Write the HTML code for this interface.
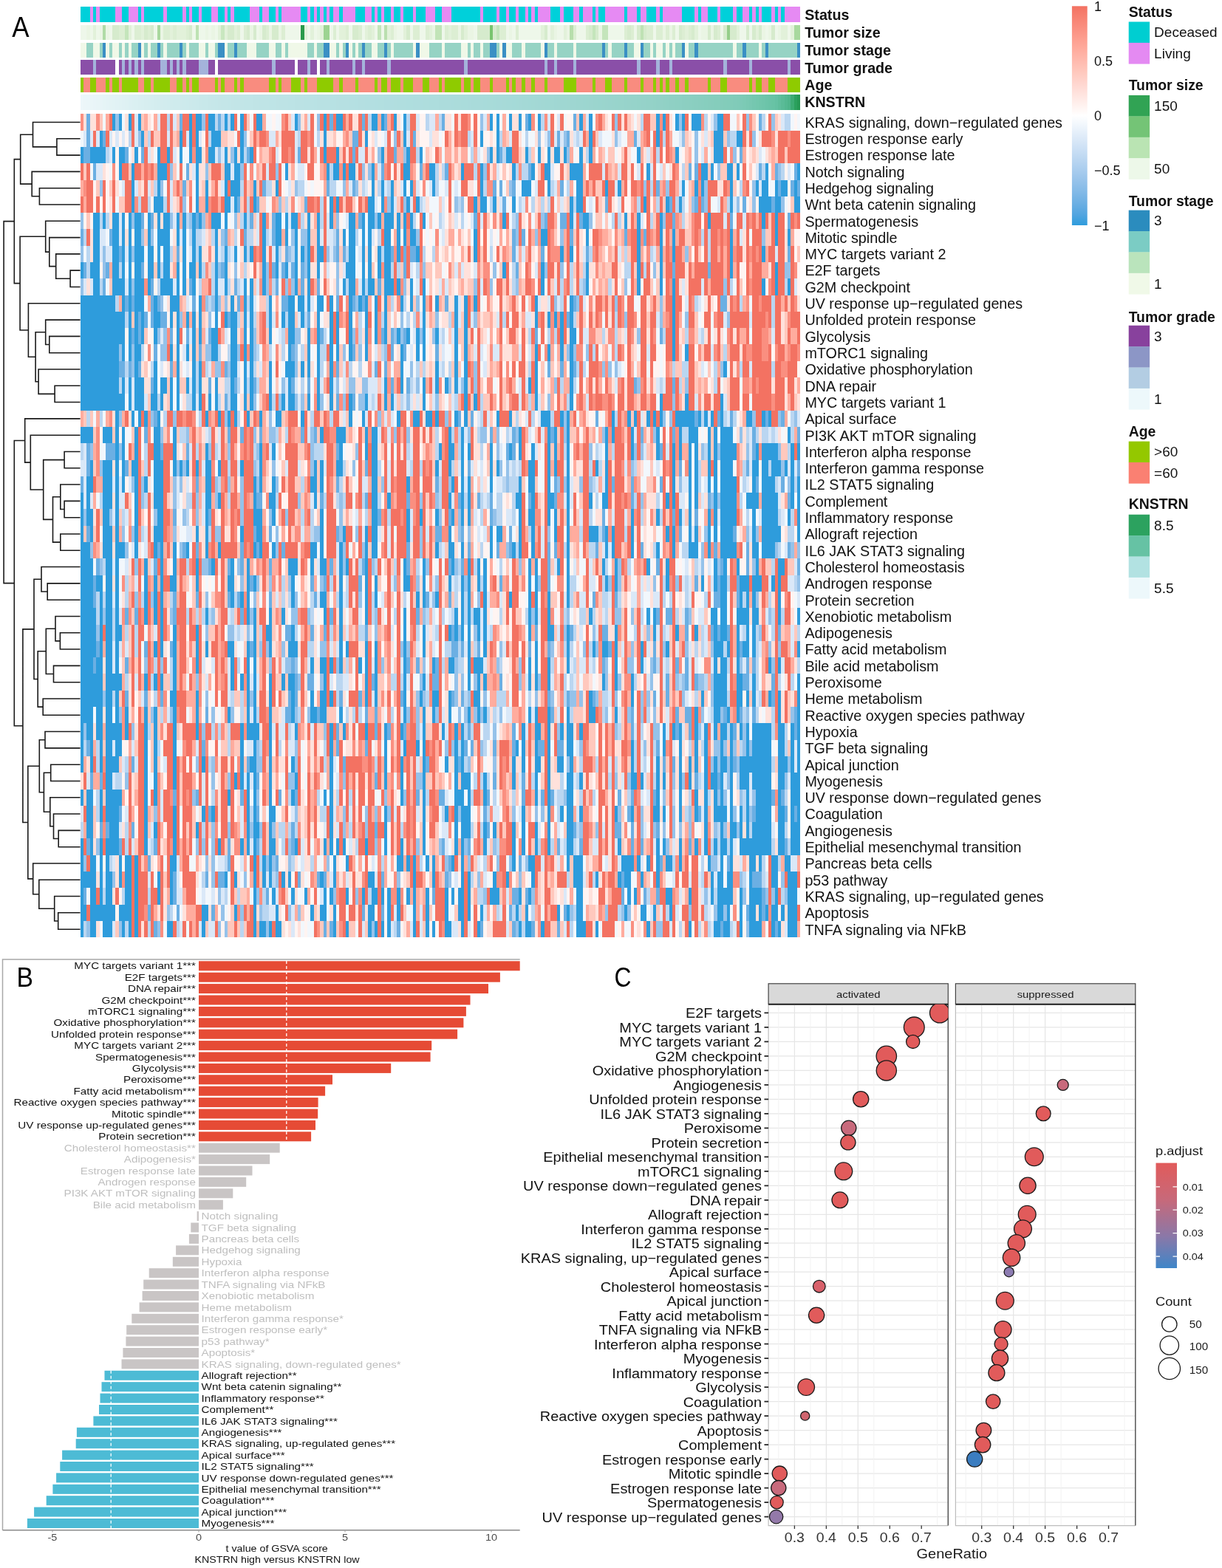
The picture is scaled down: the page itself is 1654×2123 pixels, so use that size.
<!DOCTYPE html><html><head><meta charset="utf-8"><style>html,body{margin:0;padding:0;background:#fff;width:1654px;height:2123px;overflow:hidden}</style></head><body><svg xmlns="http://www.w3.org/2000/svg" width="1654" height="2123" viewBox="0 0 1654 2123" style="display:block;font-family:'Liberation Sans', Arial, sans-serif">
<rect width="1654" height="2123" fill="#fff"/>
<g transform="translate(108.6,154.3) scale(4.33156,22.30000)" shape-rendering="crispEdges">
<path fill="#2E9CDC" d="M10 0h1v1h-1zM12 0h1v1h-1zM15 0h1v1h-1zM18 0h1v1h-1zM34 0h1v1h-1zM36 0h2v1h-2zM40 0h2v1h-2zM45 0h1v1h-1zM47 0h1v1h-1zM50 0h1v1h-1zM55 0h2v1h-2zM67 0h1v1h-1zM76 0h1v1h-1zM80 0h2v1h-2zM91 0h2v1h-2zM94 0h1v1h-1zM98 0h1v1h-1zM101 0h1v1h-1zM128 0h1v1h-1zM130 0h1v1h-1zM134 0h1v1h-1zM137 0h1v1h-1zM140 0h1v1h-1zM143 0h1v1h-1zM156 0h1v1h-1zM159 0h1v1h-1zM180 0h1v1h-1zM182 0h1v1h-1zM186 0h1v1h-1zM188 0h1v1h-1zM191 0h3v1h-3zM199 0h2v1h-2zM6 1h1v1h-1zM19 1h1v1h-1zM31 1h1v1h-1zM34 1h1v1h-1zM36 1h1v1h-1zM41 1h3v1h-3zM50 1h1v1h-1zM76 1h1v1h-1zM89 1h1v1h-1zM101 1h1v1h-1zM125 1h1v1h-1zM130 1h1v1h-1zM159 1h1v1h-1zM180 1h1v1h-1zM198 1h3v1h-3zM205 1h2v1h-2zM0 2h1v1h-1zM3 2h5v1h-5zM10 2h1v1h-1zM12 2h2v1h-2zM17 2h1v1h-1zM24 2h1v1h-1zM27 2h1v1h-1zM31 2h1v1h-1zM34 2h1v1h-1zM36 2h2v1h-2zM40 2h2v1h-2zM45 2h1v1h-1zM48 2h1v1h-1zM50 2h1v1h-1zM53 2h1v1h-1zM76 2h1v1h-1zM80 2h1v1h-1zM94 2h1v1h-1zM102 2h1v1h-1zM106 2h1v1h-1zM128 2h1v1h-1zM130 2h1v1h-1zM133 2h2v1h-2zM139 2h1v1h-1zM143 2h1v1h-1zM146 2h1v1h-1zM148 2h2v1h-2zM151 2h1v1h-1zM156 2h1v1h-1zM159 2h1v1h-1zM174 2h1v1h-1zM186 2h1v1h-1zM198 2h3v1h-3zM12 3h1v1h-1zM16 3h1v1h-1zM24 3h3v1h-3zM36 3h1v1h-1zM45 3h2v1h-2zM48 3h2v1h-2zM64 3h1v1h-1zM77 3h1v1h-1zM79 3h2v1h-2zM82 3h1v1h-1zM84 3h2v1h-2zM91 3h1v1h-1zM101 3h2v1h-2zM109 3h2v1h-2zM119 3h1v1h-1zM125 3h1v1h-1zM135 3h1v1h-1zM141 3h1v1h-1zM145 3h2v1h-2zM153 3h4v1h-4zM177 3h1v1h-1zM194 3h2v1h-2zM197 3h1v1h-1zM202 3h2v1h-2zM205 3h1v1h-1zM214 3h1v1h-1zM224 3h1v1h-1zM16 4h1v1h-1zM24 4h1v1h-1zM36 4h1v1h-1zM39 4h1v1h-1zM45 4h1v1h-1zM47 4h3v1h-3zM54 4h1v1h-1zM61 4h1v1h-1zM91 4h1v1h-1zM94 4h1v1h-1zM97 4h1v1h-1zM101 4h1v1h-1zM103 4h1v1h-1zM110 4h1v1h-1zM125 4h1v1h-1zM138 4h3v1h-3zM146 4h1v1h-1zM155 4h2v1h-2zM164 4h1v1h-1zM168 4h1v1h-1zM188 4h1v1h-1zM192 4h1v1h-1zM194 4h1v1h-1zM203 4h1v1h-1zM211 4h1v1h-1zM213 4h2v1h-2zM217 4h1v1h-1zM219 4h2v1h-2zM223 4h1v1h-1zM16 5h1v1h-1zM23 5h3v1h-3zM36 5h1v1h-1zM39 5h1v1h-1zM45 5h2v1h-2zM48 5h1v1h-1zM54 5h1v1h-1zM78 5h1v1h-1zM80 5h1v1h-1zM90 5h2v1h-2zM94 5h1v1h-1zM97 5h1v1h-1zM102 5h1v1h-1zM105 5h1v1h-1zM123 5h1v1h-1zM125 5h2v1h-2zM129 5h1v1h-1zM135 5h1v1h-1zM153 5h1v1h-1zM155 5h2v1h-2zM176 5h1v1h-1zM183 5h1v1h-1zM187 5h1v1h-1zM203 5h1v1h-1zM212 5h4v1h-4zM217 5h2v1h-2zM223 5h2v1h-2zM4 6h2v1h-2zM7 6h1v1h-1zM10 6h2v1h-2zM13 6h1v1h-1zM15 6h1v1h-1zM17 6h2v1h-2zM21 6h1v1h-1zM24 6h1v1h-1zM26 6h2v1h-2zM30 6h1v1h-1zM32 6h1v1h-1zM35 6h1v1h-1zM37 6h1v1h-1zM41 6h3v1h-3zM45 6h1v1h-1zM51 6h1v1h-1zM57 6h1v1h-1zM61 6h2v1h-2zM64 6h1v1h-1zM66 6h2v1h-2zM71 6h1v1h-1zM74 6h1v1h-1zM78 6h1v1h-1zM84 6h2v1h-2zM88 6h1v1h-1zM90 6h2v1h-2zM93 6h1v1h-1zM95 6h3v1h-3zM99 6h1v1h-1zM101 6h1v1h-1zM103 6h1v1h-1zM107 6h1v1h-1zM132 6h1v1h-1zM153 6h1v1h-1zM157 6h2v1h-2zM170 6h1v1h-1zM174 6h1v1h-1zM181 6h1v1h-1zM196 6h1v1h-1zM213 6h1v1h-1zM217 6h1v1h-1zM4 7h2v1h-2zM10 7h2v1h-2zM13 7h1v1h-1zM15 7h1v1h-1zM17 7h2v1h-2zM21 7h1v1h-1zM24 7h4v1h-4zM30 7h1v1h-1zM32 7h1v1h-1zM35 7h1v1h-1zM42 7h1v1h-1zM57 7h1v1h-1zM61 7h2v1h-2zM64 7h1v1h-1zM67 7h1v1h-1zM71 7h1v1h-1zM74 7h1v1h-1zM82 7h1v1h-1zM84 7h2v1h-2zM88 7h1v1h-1zM90 7h1v1h-1zM95 7h2v1h-2zM99 7h1v1h-1zM101 7h1v1h-1zM103 7h2v1h-2zM123 7h1v1h-1zM144 7h2v1h-2zM158 7h1v1h-1zM174 7h1v1h-1zM181 7h1v1h-1zM185 7h1v1h-1zM203 7h1v1h-1zM217 7h1v1h-1zM221 7h1v1h-1zM4 8h2v1h-2zM10 8h2v1h-2zM13 8h1v1h-1zM15 8h1v1h-1zM17 8h3v1h-3zM21 8h2v1h-2zM24 8h1v1h-1zM26 8h2v1h-2zM32 8h1v1h-1zM35 8h1v1h-1zM37 8h1v1h-1zM42 8h1v1h-1zM45 8h1v1h-1zM48 8h1v1h-1zM51 8h1v1h-1zM53 8h1v1h-1zM57 8h1v1h-1zM61 8h1v1h-1zM67 8h1v1h-1zM69 8h1v1h-1zM71 8h1v1h-1zM74 8h2v1h-2zM84 8h2v1h-2zM88 8h1v1h-1zM90 8h1v1h-1zM93 8h1v1h-1zM95 8h2v1h-2zM99 8h1v1h-1zM105 8h1v1h-1zM123 8h1v1h-1zM150 8h1v1h-1zM153 8h1v1h-1zM174 8h1v1h-1zM181 8h1v1h-1zM185 8h1v1h-1zM203 8h1v1h-1zM213 8h1v1h-1zM0 9h1v1h-1zM3 9h3v1h-3zM10 9h2v1h-2zM13 9h1v1h-1zM15 9h1v1h-1zM17 9h2v1h-2zM21 9h2v1h-2zM24 9h1v1h-1zM26 9h2v1h-2zM30 9h1v1h-1zM32 9h1v1h-1zM34 9h2v1h-2zM37 9h1v1h-1zM42 9h1v1h-1zM45 9h1v1h-1zM57 9h1v1h-1zM61 9h1v1h-1zM64 9h1v1h-1zM67 9h1v1h-1zM71 9h1v1h-1zM74 9h1v1h-1zM83 9h3v1h-3zM88 9h1v1h-1zM90 9h1v1h-1zM93 9h1v1h-1zM95 9h2v1h-2zM132 9h1v1h-1zM144 9h1v1h-1zM158 9h1v1h-1zM174 9h1v1h-1zM181 9h1v1h-1zM203 9h1v1h-1zM217 9h1v1h-1zM4 10h2v1h-2zM10 10h4v1h-4zM15 10h1v1h-1zM17 10h3v1h-3zM21 10h1v1h-1zM25 10h4v1h-4zM30 10h1v1h-1zM32 10h1v1h-1zM35 10h1v1h-1zM42 10h1v1h-1zM45 10h1v1h-1zM51 10h1v1h-1zM53 10h1v1h-1zM57 10h1v1h-1zM67 10h1v1h-1zM71 10h1v1h-1zM82 10h1v1h-1zM84 10h2v1h-2zM88 10h1v1h-1zM90 10h2v1h-2zM95 10h3v1h-3zM99 10h1v1h-1zM103 10h1v1h-1zM107 10h1v1h-1zM144 10h1v1h-1zM158 10h1v1h-1zM174 10h1v1h-1zM181 10h1v1h-1zM185 10h1v1h-1zM213 10h1v1h-1zM217 10h1v1h-1zM221 10h1v1h-1zM0 11h11v1h-11zM13 11h1v1h-1zM15 11h1v1h-1zM17 11h3v1h-3zM23 11h1v1h-1zM28 11h3v1h-3zM37 11h1v1h-1zM42 11h1v1h-1zM47 11h1v1h-1zM51 11h1v1h-1zM53 11h1v1h-1zM59 11h1v1h-1zM65 11h2v1h-2zM68 11h2v1h-2zM71 11h1v1h-1zM74 11h2v1h-2zM78 11h1v1h-1zM84 11h1v1h-1zM87 11h1v1h-1zM89 11h1v1h-1zM92 11h1v1h-1zM95 11h1v1h-1zM100 11h1v1h-1zM103 11h1v1h-1zM107 11h1v1h-1zM111 11h1v1h-1zM117 11h1v1h-1zM120 11h1v1h-1zM123 11h1v1h-1zM142 11h1v1h-1zM153 11h1v1h-1zM185 11h1v1h-1zM0 12h14v1h-14zM15 12h1v1h-1zM17 12h1v1h-1zM19 12h1v1h-1zM23 12h2v1h-2zM28 12h1v1h-1zM30 12h1v1h-1zM33 12h1v1h-1zM35 12h1v1h-1zM37 12h1v1h-1zM42 12h1v1h-1zM45 12h1v1h-1zM47 12h2v1h-2zM51 12h1v1h-1zM53 12h1v1h-1zM59 12h1v1h-1zM63 12h1v1h-1zM65 12h2v1h-2zM69 12h1v1h-1zM74 12h1v1h-1zM78 12h1v1h-1zM80 12h1v1h-1zM84 12h1v1h-1zM89 12h1v1h-1zM92 12h1v1h-1zM95 12h1v1h-1zM107 12h1v1h-1zM117 12h1v1h-1zM120 12h1v1h-1zM142 12h1v1h-1zM146 12h1v1h-1zM148 12h1v1h-1zM150 12h1v1h-1zM153 12h1v1h-1zM185 12h1v1h-1zM0 13h14v1h-14zM15 13h1v1h-1zM17 13h1v1h-1zM19 13h1v1h-1zM23 13h1v1h-1zM30 13h1v1h-1zM35 13h1v1h-1zM37 13h1v1h-1zM41 13h2v1h-2zM47 13h2v1h-2zM51 13h1v1h-1zM53 13h1v1h-1zM59 13h1v1h-1zM65 13h2v1h-2zM71 13h1v1h-1zM74 13h1v1h-1zM78 13h1v1h-1zM80 13h1v1h-1zM84 13h1v1h-1zM89 13h1v1h-1zM92 13h1v1h-1zM95 13h1v1h-1zM99 13h1v1h-1zM102 13h1v1h-1zM105 13h1v1h-1zM107 13h1v1h-1zM111 13h1v1h-1zM117 13h1v1h-1zM120 13h1v1h-1zM150 13h1v1h-1zM153 13h2v1h-2zM185 13h1v1h-1zM0 14h12v1h-12zM13 14h1v1h-1zM15 14h1v1h-1zM17 14h2v1h-2zM28 14h1v1h-1zM30 14h1v1h-1zM33 14h1v1h-1zM35 14h1v1h-1zM41 14h2v1h-2zM47 14h2v1h-2zM51 14h1v1h-1zM53 14h1v1h-1zM65 14h1v1h-1zM71 14h1v1h-1zM74 14h1v1h-1zM78 14h1v1h-1zM80 14h1v1h-1zM84 14h1v1h-1zM89 14h1v1h-1zM100 14h1v1h-1zM105 14h1v1h-1zM107 14h1v1h-1zM117 14h1v1h-1zM120 14h1v1h-1zM142 14h1v1h-1zM146 14h1v1h-1zM150 14h1v1h-1zM153 14h1v1h-1zM185 14h1v1h-1zM189 14h1v1h-1zM0 15h12v1h-12zM17 15h1v1h-1zM23 15h1v1h-1zM30 15h1v1h-1zM35 15h1v1h-1zM37 15h1v1h-1zM47 15h2v1h-2zM51 15h1v1h-1zM53 15h1v1h-1zM59 15h1v1h-1zM64 15h3v1h-3zM69 15h1v1h-1zM71 15h1v1h-1zM74 15h1v1h-1zM78 15h1v1h-1zM100 15h1v1h-1zM111 15h1v1h-1zM117 15h1v1h-1zM120 15h1v1h-1zM142 15h1v1h-1zM153 15h1v1h-1zM201 15h1v1h-1zM0 16h12v1h-12zM13 16h1v1h-1zM15 16h1v1h-1zM17 16h3v1h-3zM23 16h1v1h-1zM25 16h2v1h-2zM28 16h1v1h-1zM30 16h1v1h-1zM33 16h1v1h-1zM35 16h1v1h-1zM37 16h1v1h-1zM42 16h1v1h-1zM47 16h1v1h-1zM51 16h1v1h-1zM53 16h1v1h-1zM59 16h1v1h-1zM65 16h1v1h-1zM74 16h1v1h-1zM78 16h1v1h-1zM95 16h1v1h-1zM100 16h1v1h-1zM107 16h1v1h-1zM111 16h1v1h-1zM114 16h1v1h-1zM117 16h1v1h-1zM120 16h1v1h-1zM140 16h1v1h-1zM142 16h1v1h-1zM153 16h1v1h-1zM0 17h14v1h-14zM15 17h1v1h-1zM17 17h3v1h-3zM22 17h2v1h-2zM25 17h1v1h-1zM28 17h1v1h-1zM30 17h1v1h-1zM35 17h1v1h-1zM37 17h1v1h-1zM40 17h1v1h-1zM42 17h1v1h-1zM47 17h2v1h-2zM51 17h1v1h-1zM53 17h1v1h-1zM59 17h1v1h-1zM63 17h1v1h-1zM65 17h2v1h-2zM71 17h1v1h-1zM74 17h1v1h-1zM78 17h1v1h-1zM84 17h1v1h-1zM89 17h1v1h-1zM95 17h1v1h-1zM97 17h1v1h-1zM107 17h1v1h-1zM120 17h1v1h-1zM123 17h1v1h-1zM142 17h1v1h-1zM153 17h1v1h-1zM181 17h1v1h-1zM189 17h1v1h-1zM200 17h1v1h-1zM11 18h1v1h-1zM16 18h1v1h-1zM18 18h1v1h-1zM20 18h1v1h-1zM24 18h1v1h-1zM39 18h1v1h-1zM43 18h1v1h-1zM46 18h1v1h-1zM48 18h1v1h-1zM52 18h1v1h-1zM56 18h1v1h-1zM61 18h2v1h-2zM69 18h1v1h-1zM84 18h1v1h-1zM88 18h1v1h-1zM99 18h1v1h-1zM104 18h2v1h-2zM108 18h2v1h-2zM111 18h1v1h-1zM117 18h1v1h-1zM120 18h1v1h-1zM130 18h1v1h-1zM134 18h1v1h-1zM144 18h3v1h-3zM150 18h1v1h-1zM152 18h1v1h-1zM166 18h1v1h-1zM171 18h1v1h-1zM173 18h1v1h-1zM177 18h1v1h-1zM179 18h1v1h-1zM181 18h1v1h-1zM186 18h6v1h-6zM193 18h1v1h-1zM195 18h1v1h-1zM197 18h1v1h-1zM200 18h1v1h-1zM208 18h2v1h-2zM213 18h1v1h-1zM215 18h1v1h-1zM0 19h4v1h-4zM7 19h3v1h-3zM11 19h1v1h-1zM13 19h1v1h-1zM17 19h1v1h-1zM23 19h2v1h-2zM29 19h1v1h-1zM75 19h1v1h-1zM80 19h3v1h-3zM89 19h1v1h-1zM91 19h2v1h-2zM115 19h1v1h-1zM119 19h1v1h-1zM137 19h1v1h-1zM146 19h1v1h-1zM148 19h1v1h-1zM152 19h1v1h-1zM164 19h1v1h-1zM166 19h1v1h-1zM172 19h1v1h-1zM180 19h1v1h-1zM187 19h1v1h-1zM190 19h3v1h-3zM196 19h1v1h-1zM198 19h1v1h-1zM200 19h4v1h-4zM221 19h1v1h-1zM11 20h1v1h-1zM13 20h1v1h-1zM17 20h1v1h-1zM23 20h2v1h-2zM29 20h1v1h-1zM39 20h1v1h-1zM56 20h1v1h-1zM60 20h1v1h-1zM81 20h1v1h-1zM89 20h1v1h-1zM91 20h2v1h-2zM112 20h1v1h-1zM115 20h2v1h-2zM119 20h1v1h-1zM121 20h1v1h-1zM128 20h1v1h-1zM134 20h1v1h-1zM137 20h1v1h-1zM141 20h1v1h-1zM146 20h1v1h-1zM148 20h1v1h-1zM152 20h1v1h-1zM164 20h1v1h-1zM172 20h1v1h-1zM180 20h1v1h-1zM185 20h1v1h-1zM187 20h1v1h-1zM190 20h1v1h-1zM192 20h1v1h-1zM196 20h1v1h-1zM198 20h1v1h-1zM200 20h5v1h-5zM211 20h1v1h-1zM213 20h5v1h-5zM222 20h1v1h-1zM224 20h1v1h-1zM3 21h1v1h-1zM7 21h3v1h-3zM11 21h1v1h-1zM13 21h1v1h-1zM16 21h2v1h-2zM23 21h3v1h-3zM29 21h1v1h-1zM31 21h1v1h-1zM33 21h1v1h-1zM36 21h1v1h-1zM39 21h2v1h-2zM43 21h1v1h-1zM50 21h1v1h-1zM56 21h1v1h-1zM73 21h1v1h-1zM75 21h1v1h-1zM80 21h2v1h-2zM91 21h2v1h-2zM111 21h1v1h-1zM115 21h1v1h-1zM119 21h1v1h-1zM128 21h1v1h-1zM130 21h1v1h-1zM140 21h2v1h-2zM146 21h1v1h-1zM148 21h1v1h-1zM152 21h1v1h-1zM161 21h1v1h-1zM164 21h1v1h-1zM185 21h1v1h-1zM190 21h1v1h-1zM192 21h1v1h-1zM196 21h1v1h-1zM198 21h1v1h-1zM200 21h4v1h-4zM210 21h2v1h-2zM213 21h2v1h-2zM216 21h3v1h-3zM220 21h1v1h-1zM222 21h1v1h-1zM2 22h2v1h-2zM7 22h3v1h-3zM11 22h1v1h-1zM13 22h1v1h-1zM17 22h1v1h-1zM20 22h1v1h-1zM23 22h3v1h-3zM39 22h2v1h-2zM54 22h1v1h-1zM56 22h1v1h-1zM60 22h1v1h-1zM72 22h2v1h-2zM75 22h1v1h-1zM91 22h2v1h-2zM102 22h1v1h-1zM116 22h1v1h-1zM119 22h1v1h-1zM121 22h1v1h-1zM128 22h1v1h-1zM137 22h1v1h-1zM140 22h2v1h-2zM146 22h1v1h-1zM152 22h1v1h-1zM164 22h1v1h-1zM185 22h1v1h-1zM190 22h1v1h-1zM192 22h1v1h-1zM196 22h1v1h-1zM198 22h1v1h-1zM200 22h5v1h-5zM210 22h1v1h-1zM213 22h4v1h-4zM222 22h1v1h-1zM224 22h1v1h-1zM0 23h1v1h-1zM2 23h1v1h-1zM7 23h3v1h-3zM11 23h1v1h-1zM17 23h1v1h-1zM23 23h3v1h-3zM39 23h2v1h-2zM43 23h1v1h-1zM54 23h1v1h-1zM59 23h2v1h-2zM73 23h1v1h-1zM91 23h2v1h-2zM96 23h1v1h-1zM115 23h1v1h-1zM119 23h1v1h-1zM121 23h1v1h-1zM136 23h2v1h-2zM141 23h1v1h-1zM146 23h2v1h-2zM152 23h1v1h-1zM159 23h1v1h-1zM163 23h2v1h-2zM183 23h1v1h-1zM185 23h1v1h-1zM190 23h1v1h-1zM192 23h1v1h-1zM198 23h1v1h-1zM200 23h5v1h-5zM208 23h4v1h-4zM213 23h5v1h-5zM222 23h1v1h-1zM224 23h1v1h-1zM0 24h1v1h-1zM2 24h2v1h-2zM7 24h2v1h-2zM11 24h1v1h-1zM17 24h1v1h-1zM24 24h2v1h-2zM39 24h1v1h-1zM54 24h3v1h-3zM60 24h1v1h-1zM75 24h1v1h-1zM91 24h2v1h-2zM102 24h1v1h-1zM106 24h1v1h-1zM111 24h1v1h-1zM116 24h1v1h-1zM119 24h1v1h-1zM121 24h1v1h-1zM137 24h1v1h-1zM140 24h2v1h-2zM146 24h1v1h-1zM148 24h1v1h-1zM152 24h1v1h-1zM172 24h1v1h-1zM180 24h1v1h-1zM187 24h1v1h-1zM190 24h1v1h-1zM196 24h1v1h-1zM198 24h1v1h-1zM200 24h5v1h-5zM210 24h1v1h-1zM213 24h5v1h-5zM221 24h1v1h-1zM224 24h1v1h-1zM0 25h1v1h-1zM3 25h1v1h-1zM7 25h3v1h-3zM11 25h1v1h-1zM17 25h1v1h-1zM23 25h3v1h-3zM36 25h1v1h-1zM39 25h1v1h-1zM50 25h1v1h-1zM55 25h2v1h-2zM75 25h1v1h-1zM82 25h1v1h-1zM89 25h1v1h-1zM91 25h2v1h-2zM102 25h1v1h-1zM115 25h1v1h-1zM128 25h1v1h-1zM130 25h2v1h-2zM137 25h1v1h-1zM141 25h1v1h-1zM148 25h1v1h-1zM152 25h1v1h-1zM159 25h3v1h-3zM164 25h1v1h-1zM166 25h1v1h-1zM172 25h1v1h-1zM183 25h1v1h-1zM185 25h1v1h-1zM190 25h1v1h-1zM192 25h1v1h-1zM196 25h1v1h-1zM198 25h1v1h-1zM200 25h4v1h-4zM210 25h1v1h-1zM213 25h6v1h-6zM224 25h1v1h-1zM0 26h3v1h-3zM7 26h3v1h-3zM11 26h3v1h-3zM17 26h1v1h-1zM23 26h1v1h-1zM25 26h1v1h-1zM29 26h1v1h-1zM33 26h1v1h-1zM39 26h1v1h-1zM43 26h1v1h-1zM54 26h1v1h-1zM56 26h1v1h-1zM60 26h1v1h-1zM72 26h2v1h-2zM75 26h1v1h-1zM81 26h1v1h-1zM89 26h1v1h-1zM91 26h2v1h-2zM111 26h1v1h-1zM115 26h2v1h-2zM119 26h1v1h-1zM128 26h1v1h-1zM135 26h1v1h-1zM137 26h1v1h-1zM141 26h1v1h-1zM152 26h1v1h-1zM164 26h1v1h-1zM166 26h1v1h-1zM172 26h1v1h-1zM180 26h1v1h-1zM185 26h1v1h-1zM190 26h3v1h-3zM196 26h1v1h-1zM200 26h5v1h-5zM210 26h2v1h-2zM213 26h4v1h-4zM0 27h4v1h-4zM8 27h2v1h-2zM11 27h1v1h-1zM20 27h1v1h-1zM25 27h1v1h-1zM29 27h1v1h-1zM36 27h1v1h-1zM41 27h1v1h-1zM47 27h1v1h-1zM52 27h1v1h-1zM65 27h3v1h-3zM72 27h1v1h-1zM75 27h2v1h-2zM81 27h1v1h-1zM83 27h1v1h-1zM89 27h1v1h-1zM101 27h1v1h-1zM107 27h1v1h-1zM116 27h1v1h-1zM121 27h1v1h-1zM124 27h1v1h-1zM126 27h1v1h-1zM140 27h1v1h-1zM142 27h1v1h-1zM149 27h1v1h-1zM152 27h1v1h-1zM163 27h1v1h-1zM167 27h1v1h-1zM177 27h1v1h-1zM183 27h1v1h-1zM198 27h1v1h-1zM201 27h1v1h-1zM205 27h1v1h-1zM211 27h1v1h-1zM218 27h2v1h-2zM0 28h4v1h-4zM5 28h2v1h-2zM8 28h2v1h-2zM11 28h1v1h-1zM20 28h1v1h-1zM23 28h1v1h-1zM25 28h1v1h-1zM28 28h2v1h-2zM36 28h1v1h-1zM46 28h2v1h-2zM52 28h1v1h-1zM54 28h1v1h-1zM66 28h1v1h-1zM81 28h1v1h-1zM89 28h1v1h-1zM92 28h1v1h-1zM101 28h2v1h-2zM107 28h1v1h-1zM115 28h1v1h-1zM119 28h1v1h-1zM121 28h1v1h-1zM124 28h1v1h-1zM126 28h1v1h-1zM140 28h1v1h-1zM142 28h1v1h-1zM152 28h1v1h-1zM164 28h1v1h-1zM167 28h1v1h-1zM183 28h1v1h-1zM194 28h1v1h-1zM198 28h1v1h-1zM200 28h2v1h-2zM206 28h3v1h-3zM210 28h3v1h-3zM216 28h1v1h-1zM218 28h1v1h-1zM0 29h4v1h-4zM6 29h1v1h-1zM8 29h2v1h-2zM11 29h1v1h-1zM20 29h1v1h-1zM23 29h1v1h-1zM25 29h1v1h-1zM47 29h1v1h-1zM50 29h1v1h-1zM52 29h1v1h-1zM66 29h1v1h-1zM75 29h2v1h-2zM81 29h1v1h-1zM89 29h1v1h-1zM92 29h1v1h-1zM105 29h1v1h-1zM107 29h1v1h-1zM111 29h1v1h-1zM119 29h1v1h-1zM121 29h1v1h-1zM126 29h1v1h-1zM134 29h1v1h-1zM140 29h1v1h-1zM142 29h1v1h-1zM146 29h1v1h-1zM152 29h1v1h-1zM200 29h2v1h-2zM206 29h1v1h-1zM208 29h1v1h-1zM210 29h1v1h-1zM218 29h1v1h-1zM0 30h5v1h-5zM6 30h1v1h-1zM8 30h2v1h-2zM11 30h1v1h-1zM20 30h1v1h-1zM23 30h1v1h-1zM25 30h1v1h-1zM39 30h1v1h-1zM52 30h1v1h-1zM54 30h1v1h-1zM59 30h1v1h-1zM63 30h1v1h-1zM76 30h1v1h-1zM81 30h1v1h-1zM89 30h1v1h-1zM101 30h1v1h-1zM117 30h1v1h-1zM119 30h1v1h-1zM121 30h1v1h-1zM123 30h2v1h-2zM126 30h1v1h-1zM140 30h1v1h-1zM142 30h1v1h-1zM146 30h1v1h-1zM159 30h1v1h-1zM177 30h1v1h-1zM179 30h1v1h-1zM197 30h2v1h-2zM200 30h2v1h-2zM205 30h4v1h-4zM210 30h2v1h-2zM218 30h1v1h-1zM224 30h1v1h-1zM0 31h5v1h-5zM6 31h1v1h-1zM8 31h2v1h-2zM11 31h2v1h-2zM25 31h1v1h-1zM29 31h1v1h-1zM36 31h1v1h-1zM54 31h1v1h-1zM58 31h2v1h-2zM66 31h1v1h-1zM81 31h1v1h-1zM101 31h1v1h-1zM107 31h1v1h-1zM115 31h1v1h-1zM117 31h1v1h-1zM119 31h1v1h-1zM121 31h1v1h-1zM124 31h1v1h-1zM126 31h1v1h-1zM140 31h1v1h-1zM146 31h2v1h-2zM152 31h1v1h-1zM167 31h1v1h-1zM179 31h1v1h-1zM186 31h1v1h-1zM192 31h1v1h-1zM198 31h1v1h-1zM200 31h2v1h-2zM205 31h1v1h-1zM208 31h1v1h-1zM210 31h1v1h-1zM0 32h5v1h-5zM6 32h1v1h-1zM8 32h2v1h-2zM11 32h1v1h-1zM23 32h1v1h-1zM25 32h1v1h-1zM29 32h1v1h-1zM36 32h1v1h-1zM39 32h1v1h-1zM46 32h2v1h-2zM52 32h1v1h-1zM54 32h1v1h-1zM59 32h1v1h-1zM65 32h3v1h-3zM81 32h1v1h-1zM83 32h1v1h-1zM89 32h1v1h-1zM92 32h1v1h-1zM101 32h1v1h-1zM107 32h1v1h-1zM121 32h1v1h-1zM126 32h1v1h-1zM142 32h1v1h-1zM152 32h1v1h-1zM160 32h1v1h-1zM163 32h2v1h-2zM167 32h1v1h-1zM175 32h1v1h-1zM183 32h1v1h-1zM198 32h3v1h-3zM202 32h1v1h-1zM205 32h1v1h-1zM207 32h2v1h-2zM210 32h1v1h-1zM224 32h1v1h-1zM0 33h4v1h-4zM5 33h2v1h-2zM8 33h2v1h-2zM11 33h1v1h-1zM29 33h1v1h-1zM36 33h1v1h-1zM47 33h1v1h-1zM52 33h1v1h-1zM54 33h1v1h-1zM72 33h1v1h-1zM75 33h2v1h-2zM78 33h1v1h-1zM81 33h1v1h-1zM87 33h1v1h-1zM89 33h1v1h-1zM92 33h1v1h-1zM101 33h1v1h-1zM110 33h1v1h-1zM115 33h2v1h-2zM121 33h1v1h-1zM123 33h3v1h-3zM140 33h1v1h-1zM142 33h1v1h-1zM146 33h1v1h-1zM152 33h1v1h-1zM167 33h1v1h-1zM175 33h1v1h-1zM198 33h1v1h-1zM200 33h2v1h-2zM205 33h1v1h-1zM215 33h1v1h-1zM218 33h1v1h-1zM0 34h7v1h-7zM8 34h5v1h-5zM20 34h1v1h-1zM23 34h1v1h-1zM25 34h1v1h-1zM29 34h1v1h-1zM47 34h1v1h-1zM50 34h1v1h-1zM52 34h1v1h-1zM54 34h1v1h-1zM59 34h1v1h-1zM63 34h1v1h-1zM65 34h2v1h-2zM76 34h1v1h-1zM89 34h1v1h-1zM92 34h1v1h-1zM101 34h1v1h-1zM107 34h1v1h-1zM121 34h1v1h-1zM124 34h1v1h-1zM126 34h1v1h-1zM140 34h1v1h-1zM142 34h1v1h-1zM146 34h1v1h-1zM163 34h1v1h-1zM167 34h1v1h-1zM172 34h1v1h-1zM198 34h4v1h-4zM205 34h2v1h-2zM210 34h1v1h-1zM224 34h1v1h-1zM0 35h7v1h-7zM8 35h2v1h-2zM11 35h1v1h-1zM28 35h2v1h-2zM36 35h1v1h-1zM52 35h1v1h-1zM54 35h1v1h-1zM59 35h1v1h-1zM66 35h1v1h-1zM72 35h1v1h-1zM75 35h2v1h-2zM78 35h1v1h-1zM89 35h1v1h-1zM92 35h1v1h-1zM101 35h1v1h-1zM106 35h1v1h-1zM110 35h2v1h-2zM115 35h1v1h-1zM123 35h2v1h-2zM159 35h1v1h-1zM172 35h1v1h-1zM194 35h1v1h-1zM198 35h4v1h-4zM205 35h2v1h-2zM208 35h1v1h-1zM210 35h1v1h-1zM215 35h1v1h-1zM218 35h1v1h-1zM224 35h1v1h-1zM0 36h4v1h-4zM5 36h2v1h-2zM8 36h2v1h-2zM11 36h1v1h-1zM14 36h1v1h-1zM20 36h1v1h-1zM23 36h1v1h-1zM29 36h1v1h-1zM36 36h1v1h-1zM46 36h1v1h-1zM52 36h1v1h-1zM54 36h1v1h-1zM59 36h1v1h-1zM66 36h1v1h-1zM72 36h2v1h-2zM75 36h2v1h-2zM81 36h1v1h-1zM101 36h1v1h-1zM107 36h1v1h-1zM110 36h1v1h-1zM115 36h1v1h-1zM121 36h1v1h-1zM124 36h1v1h-1zM126 36h1v1h-1zM140 36h1v1h-1zM142 36h1v1h-1zM146 36h1v1h-1zM152 36h1v1h-1zM159 36h2v1h-2zM167 36h1v1h-1zM192 36h1v1h-1zM198 36h2v1h-2zM202 36h1v1h-1zM205 36h1v1h-1zM218 36h1v1h-1zM224 36h1v1h-1zM0 37h1v1h-1zM2 37h2v1h-2zM5 37h2v1h-2zM8 37h5v1h-5zM14 37h1v1h-1zM20 37h1v1h-1zM23 37h1v1h-1zM29 37h1v1h-1zM36 37h1v1h-1zM50 37h1v1h-1zM52 37h4v1h-4zM59 37h1v1h-1zM67 37h1v1h-1zM78 37h1v1h-1zM82 37h1v1h-1zM89 37h1v1h-1zM95 37h1v1h-1zM100 37h1v1h-1zM107 37h1v1h-1zM113 37h1v1h-1zM117 37h1v1h-1zM119 37h1v1h-1zM138 37h1v1h-1zM142 37h2v1h-2zM146 37h1v1h-1zM150 37h1v1h-1zM152 37h2v1h-2zM156 37h1v1h-1zM182 37h1v1h-1zM185 37h1v1h-1zM187 37h1v1h-1zM192 37h1v1h-1zM195 37h1v1h-1zM198 37h1v1h-1zM200 37h2v1h-2zM203 37h1v1h-1zM206 37h1v1h-1zM208 37h1v1h-1zM210 37h6v1h-6zM218 37h2v1h-2zM222 37h1v1h-1zM224 37h1v1h-1zM0 38h1v1h-1zM3 38h1v1h-1zM6 38h1v1h-1zM8 38h2v1h-2zM11 38h2v1h-2zM20 38h1v1h-1zM23 38h1v1h-1zM29 38h1v1h-1zM50 38h1v1h-1zM54 38h1v1h-1zM59 38h1v1h-1zM78 38h1v1h-1zM95 38h1v1h-1zM101 38h1v1h-1zM105 38h1v1h-1zM107 38h1v1h-1zM117 38h1v1h-1zM119 38h1v1h-1zM136 38h1v1h-1zM138 38h1v1h-1zM142 38h1v1h-1zM146 38h1v1h-1zM152 38h2v1h-2zM172 38h1v1h-1zM182 38h1v1h-1zM187 38h1v1h-1zM192 38h1v1h-1zM195 38h1v1h-1zM200 38h1v1h-1zM203 38h1v1h-1zM208 38h1v1h-1zM210 38h6v1h-6zM218 38h2v1h-2zM222 38h1v1h-1zM224 38h1v1h-1zM0 39h1v1h-1zM3 39h1v1h-1zM6 39h1v1h-1zM8 39h4v1h-4zM20 39h1v1h-1zM23 39h1v1h-1zM29 39h1v1h-1zM38 39h1v1h-1zM50 39h1v1h-1zM53 39h2v1h-2zM59 39h1v1h-1zM66 39h1v1h-1zM78 39h1v1h-1zM95 39h1v1h-1zM100 39h1v1h-1zM107 39h1v1h-1zM114 39h1v1h-1zM117 39h1v1h-1zM119 39h1v1h-1zM135 39h1v1h-1zM138 39h1v1h-1zM142 39h2v1h-2zM146 39h1v1h-1zM149 39h2v1h-2zM153 39h1v1h-1zM172 39h1v1h-1zM180 39h1v1h-1zM187 39h1v1h-1zM190 39h1v1h-1zM192 39h1v1h-1zM195 39h1v1h-1zM198 39h1v1h-1zM200 39h2v1h-2zM203 39h1v1h-1zM206 39h10v1h-10zM218 39h3v1h-3zM222 39h1v1h-1zM224 39h1v1h-1zM8 40h2v1h-2zM20 40h1v1h-1zM23 40h1v1h-1zM29 40h1v1h-1zM48 40h1v1h-1zM50 40h1v1h-1zM52 40h1v1h-1zM54 40h1v1h-1zM59 40h1v1h-1zM67 40h1v1h-1zM78 40h1v1h-1zM95 40h1v1h-1zM100 40h1v1h-1zM107 40h1v1h-1zM117 40h1v1h-1zM119 40h3v1h-3zM126 40h1v1h-1zM135 40h1v1h-1zM142 40h1v1h-1zM146 40h1v1h-1zM152 40h2v1h-2zM156 40h1v1h-1zM172 40h2v1h-2zM175 40h1v1h-1zM180 40h1v1h-1zM182 40h1v1h-1zM187 40h1v1h-1zM190 40h1v1h-1zM195 40h1v1h-1zM197 40h2v1h-2zM200 40h1v1h-1zM203 40h1v1h-1zM206 40h3v1h-3zM210 40h6v1h-6zM218 40h2v1h-2zM222 40h3v1h-3zM0 41h1v1h-1zM2 41h2v1h-2zM6 41h1v1h-1zM8 41h5v1h-5zM20 41h1v1h-1zM23 41h1v1h-1zM46 41h1v1h-1zM52 41h1v1h-1zM54 41h1v1h-1zM59 41h1v1h-1zM66 41h1v1h-1zM76 41h1v1h-1zM78 41h1v1h-1zM100 41h1v1h-1zM107 41h1v1h-1zM117 41h3v1h-3zM121 41h1v1h-1zM126 41h1v1h-1zM142 41h1v1h-1zM146 41h1v1h-1zM152 41h2v1h-2zM180 41h1v1h-1zM187 41h1v1h-1zM192 41h1v1h-1zM195 41h1v1h-1zM198 41h1v1h-1zM200 41h1v1h-1zM203 41h1v1h-1zM208 41h1v1h-1zM211 41h5v1h-5zM218 41h1v1h-1zM222 41h3v1h-3zM2 42h2v1h-2zM6 42h1v1h-1zM8 42h4v1h-4zM20 42h1v1h-1zM29 42h1v1h-1zM38 42h1v1h-1zM41 42h1v1h-1zM52 42h1v1h-1zM54 42h1v1h-1zM59 42h2v1h-2zM78 42h1v1h-1zM95 42h1v1h-1zM107 42h1v1h-1zM114 42h1v1h-1zM117 42h1v1h-1zM119 42h3v1h-3zM138 42h1v1h-1zM146 42h1v1h-1zM150 42h1v1h-1zM152 42h2v1h-2zM156 42h1v1h-1zM167 42h1v1h-1zM172 42h1v1h-1zM179 42h2v1h-2zM182 42h1v1h-1zM187 42h1v1h-1zM192 42h1v1h-1zM195 42h1v1h-1zM198 42h4v1h-4zM203 42h1v1h-1zM206 42h1v1h-1zM208 42h1v1h-1zM211 42h5v1h-5zM218 42h2v1h-2zM222 42h1v1h-1zM224 42h1v1h-1zM2 43h2v1h-2zM9 43h3v1h-3zM20 43h1v1h-1zM23 43h1v1h-1zM29 43h1v1h-1zM36 43h1v1h-1zM52 43h1v1h-1zM54 43h2v1h-2zM59 43h1v1h-1zM78 43h1v1h-1zM95 43h1v1h-1zM107 43h1v1h-1zM117 43h1v1h-1zM119 43h3v1h-3zM126 43h1v1h-1zM129 43h1v1h-1zM135 43h1v1h-1zM138 43h1v1h-1zM142 43h1v1h-1zM146 43h1v1h-1zM152 43h2v1h-2zM195 43h1v1h-1zM200 43h1v1h-1zM203 43h2v1h-2zM206 43h1v1h-1zM208 43h1v1h-1zM210 43h6v1h-6zM218 43h2v1h-2zM222 43h3v1h-3zM0 44h1v1h-1zM3 44h1v1h-1zM6 44h1v1h-1zM8 44h4v1h-4zM20 44h1v1h-1zM29 44h1v1h-1zM43 44h1v1h-1zM50 44h1v1h-1zM52 44h1v1h-1zM54 44h1v1h-1zM59 44h2v1h-2zM67 44h1v1h-1zM76 44h1v1h-1zM78 44h1v1h-1zM80 44h1v1h-1zM82 44h1v1h-1zM89 44h1v1h-1zM95 44h1v1h-1zM100 44h1v1h-1zM107 44h1v1h-1zM117 44h1v1h-1zM119 44h1v1h-1zM126 44h1v1h-1zM135 44h1v1h-1zM138 44h1v1h-1zM142 44h1v1h-1zM146 44h1v1h-1zM152 44h2v1h-2zM168 44h1v1h-1zM180 44h1v1h-1zM182 44h1v1h-1zM187 44h1v1h-1zM192 44h1v1h-1zM195 44h1v1h-1zM198 44h1v1h-1zM200 44h2v1h-2zM203 44h1v1h-1zM206 44h10v1h-10zM218 44h2v1h-2zM222 44h3v1h-3zM0 45h1v1h-1zM3 45h2v1h-2zM6 45h1v1h-1zM8 45h1v1h-1zM12 45h1v1h-1zM14 45h2v1h-2zM17 45h1v1h-1zM28 45h2v1h-2zM54 45h1v1h-1zM57 45h1v1h-1zM59 45h1v1h-1zM79 45h1v1h-1zM83 45h1v1h-1zM99 45h2v1h-2zM102 45h1v1h-1zM104 45h1v1h-1zM108 45h1v1h-1zM110 45h1v1h-1zM116 45h1v1h-1zM119 45h1v1h-1zM135 45h1v1h-1zM140 45h2v1h-2zM152 45h1v1h-1zM154 45h3v1h-3zM169 45h4v1h-4zM174 45h1v1h-1zM177 45h1v1h-1zM180 45h1v1h-1zM183 45h2v1h-2zM187 45h1v1h-1zM196 45h1v1h-1zM200 45h1v1h-1zM203 45h1v1h-1zM209 45h2v1h-2zM212 45h1v1h-1zM216 45h2v1h-2zM220 45h2v1h-2zM0 46h5v1h-5zM6 46h1v1h-1zM8 46h2v1h-2zM12 46h1v1h-1zM14 46h2v1h-2zM17 46h1v1h-1zM24 46h1v1h-1zM28 46h1v1h-1zM45 46h1v1h-1zM48 46h1v1h-1zM54 46h1v1h-1zM57 46h1v1h-1zM59 46h1v1h-1zM63 46h1v1h-1zM65 46h1v1h-1zM75 46h1v1h-1zM79 46h1v1h-1zM90 46h2v1h-2zM104 46h1v1h-1zM110 46h1v1h-1zM119 46h1v1h-1zM121 46h1v1h-1zM129 46h1v1h-1zM133 46h1v1h-1zM141 46h1v1h-1zM154 46h3v1h-3zM161 46h1v1h-1zM168 46h1v1h-1zM170 46h2v1h-2zM175 46h1v1h-1zM180 46h1v1h-1zM197 46h1v1h-1zM199 46h2v1h-2zM202 46h2v1h-2zM209 46h1v1h-1zM216 46h2v1h-2zM221 46h3v1h-3zM0 47h1v1h-1zM3 47h2v1h-2zM6 47h1v1h-1zM8 47h2v1h-2zM14 47h2v1h-2zM17 47h1v1h-1zM24 47h1v1h-1zM28 47h1v1h-1zM54 47h1v1h-1zM60 47h1v1h-1zM66 47h1v1h-1zM70 47h1v1h-1zM76 47h1v1h-1zM78 47h1v1h-1zM83 47h1v1h-1zM88 47h1v1h-1zM91 47h2v1h-2zM94 47h1v1h-1zM96 47h1v1h-1zM99 47h1v1h-1zM102 47h1v1h-1zM104 47h1v1h-1zM108 47h1v1h-1zM114 47h1v1h-1zM116 47h1v1h-1zM118 47h2v1h-2zM121 47h1v1h-1zM128 47h3v1h-3zM137 47h1v1h-1zM140 47h1v1h-1zM155 47h2v1h-2zM171 47h1v1h-1zM173 47h1v1h-1zM183 47h2v1h-2zM190 47h1v1h-1zM197 47h1v1h-1zM199 47h5v1h-5zM206 47h1v1h-1zM209 47h4v1h-4zM217 47h1v1h-1zM221 47h3v1h-3zM0 48h2v1h-2zM3 48h8v1h-8zM12 48h4v1h-4zM17 48h1v1h-1zM38 48h2v1h-2zM48 48h1v1h-1zM54 48h1v1h-1zM61 48h1v1h-1zM72 48h1v1h-1zM75 48h2v1h-2zM79 48h1v1h-1zM90 48h2v1h-2zM96 48h1v1h-1zM99 48h1v1h-1zM104 48h1v1h-1zM108 48h1v1h-1zM114 48h1v1h-1zM118 48h2v1h-2zM121 48h1v1h-1zM125 48h1v1h-1zM136 48h1v1h-1zM139 48h1v1h-1zM149 48h1v1h-1zM152 48h1v1h-1zM155 48h2v1h-2zM170 48h1v1h-1zM175 48h2v1h-2zM179 48h1v1h-1zM184 48h1v1h-1zM199 48h2v1h-2zM202 48h1v1h-1zM206 48h1v1h-1zM209 48h2v1h-2zM212 48h1v1h-1zM214 48h1v1h-1zM216 48h2v1h-2zM219 48h1v1h-1zM221 48h3v1h-3zM0 49h1v1h-1zM3 49h2v1h-2zM7 49h3v1h-3zM13 49h1v1h-1zM15 49h1v1h-1zM17 49h1v1h-1zM27 49h2v1h-2zM38 49h1v1h-1zM54 49h1v1h-1zM56 49h2v1h-2zM59 49h1v1h-1zM61 49h2v1h-2zM79 49h1v1h-1zM83 49h1v1h-1zM90 49h1v1h-1zM92 49h1v1h-1zM94 49h1v1h-1zM96 49h1v1h-1zM104 49h1v1h-1zM108 49h1v1h-1zM110 49h1v1h-1zM114 49h2v1h-2zM119 49h1v1h-1zM124 49h1v1h-1zM137 49h1v1h-1zM139 49h2v1h-2zM144 49h1v1h-1zM155 49h3v1h-3zM161 49h1v1h-1zM177 49h1v1h-1zM190 49h1v1h-1zM198 49h2v1h-2zM201 49h2v1h-2zM206 49h1v1h-1zM209 49h4v1h-4zM216 49h1v1h-1zM218 49h1v1h-1zM221 49h3v1h-3z"/>
<path fill="#6BAFE3" d="M2 0h1v1h-1zM31 0h1v1h-1zM43 0h1v1h-1zM78 0h1v1h-1zM88 0h1v1h-1zM95 0h1v1h-1zM113 0h1v1h-1zM139 0h1v1h-1zM154 0h1v1h-1zM212 0h1v1h-1zM2 1h1v1h-1zM7 1h1v1h-1zM85 1h2v1h-2zM104 1h1v1h-1zM149 1h1v1h-1zM152 1h1v1h-1zM173 1h1v1h-1zM1 2h2v1h-2zM14 2h1v1h-1zM19 2h1v1h-1zM52 2h1v1h-1zM68 2h1v1h-1zM85 2h1v1h-1zM98 2h1v1h-1zM131 2h1v1h-1zM206 2h1v1h-1zM4 3h1v1h-1zM33 3h1v1h-1zM94 3h1v1h-1zM106 3h1v1h-1zM114 3h1v1h-1zM140 3h1v1h-1zM190 3h1v1h-1zM192 3h1v1h-1zM212 3h1v1h-1zM217 3h1v1h-1zM223 3h1v1h-1zM32 4h1v1h-1zM57 4h1v1h-1zM77 4h1v1h-1zM85 4h1v1h-1zM129 4h1v1h-1zM131 4h1v1h-1zM135 4h1v1h-1zM150 4h1v1h-1zM180 4h1v1h-1zM218 4h1v1h-1zM222 4h1v1h-1zM224 4h1v1h-1zM49 5h1v1h-1zM55 5h1v1h-1zM70 5h1v1h-1zM132 5h1v1h-1zM164 5h1v1h-1zM184 5h1v1h-1zM192 5h1v1h-1zM194 5h1v1h-1zM207 5h1v1h-1zM216 5h1v1h-1zM19 6h1v1h-1zM22 6h1v1h-1zM36 6h1v1h-1zM53 6h1v1h-1zM60 6h1v1h-1zM87 6h1v1h-1zM123 6h1v1h-1zM145 6h1v1h-1zM150 6h2v1h-2zM156 6h1v1h-1zM185 6h1v1h-1zM203 6h1v1h-1zM221 6h1v1h-1zM0 7h1v1h-1zM9 7h1v1h-1zM45 7h1v1h-1zM51 7h1v1h-1zM60 7h1v1h-1zM80 7h1v1h-1zM135 7h1v1h-1zM138 7h1v1h-1zM153 7h1v1h-1zM170 7h1v1h-1zM176 7h1v1h-1zM12 8h1v1h-1zM30 8h1v1h-1zM64 8h1v1h-1zM80 8h1v1h-1zM82 8h1v1h-1zM97 8h1v1h-1zM101 8h1v1h-1zM103 8h2v1h-2zM135 8h1v1h-1zM144 8h1v1h-1zM158 8h1v1h-1zM221 8h1v1h-1zM1 9h1v1h-1zM8 9h1v1h-1zM19 9h1v1h-1zM44 9h1v1h-1zM60 9h1v1h-1zM63 9h1v1h-1zM66 9h1v1h-1zM69 9h1v1h-1zM101 9h1v1h-1zM136 9h1v1h-1zM185 9h1v1h-1zM196 9h1v1h-1zM7 10h1v1h-1zM22 10h1v1h-1zM34 10h1v1h-1zM48 10h1v1h-1zM61 10h1v1h-1zM69 10h1v1h-1zM74 10h1v1h-1zM93 10h1v1h-1zM14 11h1v1h-1zM16 11h1v1h-1zM22 11h1v1h-1zM24 11h1v1h-1zM35 11h1v1h-1zM49 11h1v1h-1zM63 11h2v1h-2zM80 11h1v1h-1zM85 11h1v1h-1zM88 11h1v1h-1zM114 11h1v1h-1zM154 11h1v1h-1zM200 11h2v1h-2zM18 12h1v1h-1zM20 12h1v1h-1zM22 12h1v1h-1zM25 12h2v1h-2zM46 12h1v1h-1zM71 12h1v1h-1zM152 12h1v1h-1zM16 13h1v1h-1zM18 13h1v1h-1zM28 13h1v1h-1zM33 13h1v1h-1zM40 13h1v1h-1zM75 13h1v1h-1zM94 13h1v1h-1zM97 13h1v1h-1zM101 13h1v1h-1zM142 13h1v1h-1zM181 13h1v1h-1zM23 14h1v1h-1zM37 14h1v1h-1zM66 14h1v1h-1zM85 14h1v1h-1zM97 14h1v1h-1zM101 14h1v1h-1zM111 14h1v1h-1zM12 15h2v1h-2zM15 15h1v1h-1zM18 15h1v1h-1zM28 15h1v1h-1zM45 15h1v1h-1zM80 15h1v1h-1zM92 15h1v1h-1zM95 15h1v1h-1zM146 15h1v1h-1zM150 15h1v1h-1zM154 15h1v1h-1zM22 16h1v1h-1zM40 16h1v1h-1zM48 16h1v1h-1zM54 16h1v1h-1zM66 16h1v1h-1zM71 16h1v1h-1zM97 16h1v1h-1zM102 16h1v1h-1zM173 16h1v1h-1zM185 16h1v1h-1zM45 17h1v1h-1zM80 17h1v1h-1zM85 17h1v1h-1zM23 18h1v1h-1zM118 18h1v1h-1zM122 18h1v1h-1zM161 18h1v1h-1zM192 18h1v1h-1zM199 18h1v1h-1zM203 18h1v1h-1zM214 18h1v1h-1zM219 18h1v1h-1zM20 19h1v1h-1zM46 19h1v1h-1zM50 19h1v1h-1zM56 19h1v1h-1zM69 19h1v1h-1zM73 19h1v1h-1zM128 19h1v1h-1zM135 19h1v1h-1zM147 19h1v1h-1zM175 19h1v1h-1zM185 19h1v1h-1zM210 19h1v1h-1zM224 19h1v1h-1zM2 20h1v1h-1zM8 20h3v1h-3zM25 20h1v1h-1zM33 20h1v1h-1zM80 20h1v1h-1zM133 20h1v1h-1zM135 20h1v1h-1zM181 20h1v1h-1zM210 20h1v1h-1zM2 21h1v1h-1zM14 21h1v1h-1zM89 21h1v1h-1zM121 21h1v1h-1zM187 21h1v1h-1zM208 21h1v1h-1zM224 21h1v1h-1zM0 22h1v1h-1zM36 22h1v1h-1zM80 22h1v1h-1zM111 22h1v1h-1zM148 22h1v1h-1zM166 22h1v1h-1zM172 22h1v1h-1zM181 22h1v1h-1zM211 22h1v1h-1zM219 22h1v1h-1zM55 23h2v1h-2zM75 23h1v1h-1zM89 23h1v1h-1zM102 23h1v1h-1zM118 23h1v1h-1zM124 23h1v1h-1zM128 23h1v1h-1zM140 23h1v1h-1zM148 23h1v1h-1zM172 23h1v1h-1zM196 23h1v1h-1zM221 23h1v1h-1zM29 24h1v1h-1zM40 24h1v1h-1zM93 24h1v1h-1zM115 24h1v1h-1zM128 24h1v1h-1zM163 24h1v1h-1zM185 24h1v1h-1zM192 24h1v1h-1zM2 25h1v1h-1zM54 25h1v1h-1zM59 25h1v1h-1zM80 25h1v1h-1zM111 25h2v1h-2zM119 25h1v1h-1zM134 25h1v1h-1zM163 25h1v1h-1zM187 25h1v1h-1zM204 25h1v1h-1zM24 26h1v1h-1zM32 26h1v1h-1zM36 26h1v1h-1zM50 26h1v1h-1zM55 26h1v1h-1zM63 26h1v1h-1zM102 26h1v1h-1zM121 26h1v1h-1zM130 26h1v1h-1zM134 26h1v1h-1zM146 26h1v1h-1zM148 26h1v1h-1zM161 26h1v1h-1zM175 26h1v1h-1zM198 26h1v1h-1zM208 26h1v1h-1zM221 26h1v1h-1zM5 27h1v1h-1zM23 27h1v1h-1zM40 27h1v1h-1zM46 27h1v1h-1zM50 27h1v1h-1zM59 27h1v1h-1zM78 27h1v1h-1zM88 27h1v1h-1zM102 27h1v1h-1zM115 27h1v1h-1zM119 27h1v1h-1zM146 27h1v1h-1zM180 27h1v1h-1zM200 27h1v1h-1zM208 27h1v1h-1zM224 27h1v1h-1zM4 28h1v1h-1zM53 28h1v1h-1zM72 28h1v1h-1zM76 28h1v1h-1zM87 28h1v1h-1zM131 28h1v1h-1zM146 28h1v1h-1zM192 28h1v1h-1zM199 28h1v1h-1zM205 28h1v1h-1zM4 29h1v1h-1zM29 29h1v1h-1zM36 29h1v1h-1zM46 29h1v1h-1zM49 29h1v1h-1zM59 29h1v1h-1zM73 29h1v1h-1zM108 29h1v1h-1zM115 29h1v1h-1zM160 29h1v1h-1zM167 29h1v1h-1zM198 29h2v1h-2zM205 29h1v1h-1zM14 30h1v1h-1zM17 30h1v1h-1zM29 30h1v1h-1zM50 30h1v1h-1zM78 30h1v1h-1zM105 30h1v1h-1zM180 30h1v1h-1zM183 30h2v1h-2zM189 30h1v1h-1zM64 31h2v1h-2zM72 31h1v1h-1zM76 31h1v1h-1zM89 31h1v1h-1zM116 31h1v1h-1zM142 31h1v1h-1zM153 31h1v1h-1zM163 31h2v1h-2zM189 31h1v1h-1zM197 31h1v1h-1zM199 31h1v1h-1zM202 31h1v1h-1zM218 31h1v1h-1zM5 32h1v1h-1zM20 32h1v1h-1zM28 32h1v1h-1zM53 32h1v1h-1zM116 32h2v1h-2zM119 32h1v1h-1zM124 32h1v1h-1zM140 32h1v1h-1zM146 32h1v1h-1zM165 32h1v1h-1zM179 32h1v1h-1zM206 32h1v1h-1zM4 33h1v1h-1zM14 33h1v1h-1zM66 33h1v1h-1zM102 33h1v1h-1zM105 33h1v1h-1zM111 33h1v1h-1zM163 33h1v1h-1zM179 33h1v1h-1zM186 33h1v1h-1zM189 33h1v1h-1zM208 33h1v1h-1zM210 33h1v1h-1zM67 34h1v1h-1zM71 34h2v1h-2zM91 34h1v1h-1zM110 34h2v1h-2zM131 34h1v1h-1zM183 34h1v1h-1zM189 34h1v1h-1zM192 34h1v1h-1zM207 34h2v1h-2zM216 34h1v1h-1zM14 35h1v1h-1zM20 35h1v1h-1zM25 35h1v1h-1zM65 35h1v1h-1zM67 35h1v1h-1zM81 35h1v1h-1zM87 35h1v1h-1zM100 35h1v1h-1zM116 35h1v1h-1zM119 35h1v1h-1zM146 35h1v1h-1zM152 35h1v1h-1zM160 35h1v1h-1zM179 35h1v1h-1zM183 35h1v1h-1zM216 35h1v1h-1zM39 36h1v1h-1zM64 36h2v1h-2zM74 36h1v1h-1zM89 36h1v1h-1zM92 36h1v1h-1zM147 36h1v1h-1zM172 36h1v1h-1zM186 36h1v1h-1zM189 36h2v1h-2zM201 36h1v1h-1zM206 36h1v1h-1zM210 36h1v1h-1zM223 36h1v1h-1zM80 37h1v1h-1zM92 37h1v1h-1zM96 37h1v1h-1zM101 37h1v1h-1zM121 37h1v1h-1zM135 37h1v1h-1zM172 37h1v1h-1zM186 37h1v1h-1zM190 37h1v1h-1zM204 37h1v1h-1zM223 37h1v1h-1zM2 38h1v1h-1zM38 38h1v1h-1zM80 38h1v1h-1zM89 38h1v1h-1zM120 38h1v1h-1zM122 38h1v1h-1zM129 38h1v1h-1zM135 38h1v1h-1zM143 38h2v1h-2zM149 38h2v1h-2zM180 38h1v1h-1zM16 39h1v1h-1zM52 39h1v1h-1zM82 39h1v1h-1zM108 39h1v1h-1zM118 39h1v1h-1zM182 39h1v1h-1zM185 39h1v1h-1zM204 39h1v1h-1zM3 40h1v1h-1zM6 40h1v1h-1zM55 40h1v1h-1zM92 40h1v1h-1zM129 40h1v1h-1zM138 40h1v1h-1zM192 40h1v1h-1zM199 40h1v1h-1zM29 41h1v1h-1zM36 41h1v1h-1zM50 41h1v1h-1zM62 41h1v1h-1zM67 41h1v1h-1zM105 41h1v1h-1zM112 41h2v1h-2zM127 41h1v1h-1zM138 41h1v1h-1zM144 41h1v1h-1zM147 41h1v1h-1zM168 41h1v1h-1zM172 41h1v1h-1zM179 41h1v1h-1zM216 41h1v1h-1zM219 41h1v1h-1zM12 42h1v1h-1zM40 42h1v1h-1zM55 42h1v1h-1zM126 42h1v1h-1zM171 42h1v1h-1zM193 42h1v1h-1zM210 42h1v1h-1zM220 42h1v1h-1zM223 42h1v1h-1zM6 43h1v1h-1zM8 43h1v1h-1zM16 43h1v1h-1zM66 43h1v1h-1zM92 43h1v1h-1zM127 43h1v1h-1zM154 43h1v1h-1zM167 43h2v1h-2zM172 43h1v1h-1zM180 43h1v1h-1zM2 44h1v1h-1zM12 44h1v1h-1zM23 44h1v1h-1zM46 44h1v1h-1zM55 44h1v1h-1zM66 44h1v1h-1zM113 44h1v1h-1zM121 44h1v1h-1zM149 44h1v1h-1zM156 44h1v1h-1zM172 44h1v1h-1zM175 44h1v1h-1zM190 44h1v1h-1zM220 44h1v1h-1zM21 45h1v1h-1zM46 45h1v1h-1zM61 45h1v1h-1zM115 45h1v1h-1zM137 45h1v1h-1zM181 45h1v1h-1zM202 45h1v1h-1zM29 46h1v1h-1zM39 46h1v1h-1zM43 46h2v1h-2zM68 46h1v1h-1zM74 46h1v1h-1zM76 46h1v1h-1zM94 46h1v1h-1zM114 46h1v1h-1zM169 46h1v1h-1zM210 46h3v1h-3zM1 47h1v1h-1zM29 47h1v1h-1zM58 47h1v1h-1zM110 47h1v1h-1zM135 47h2v1h-2zM139 47h1v1h-1zM169 47h1v1h-1zM176 47h1v1h-1zM180 47h1v1h-1zM213 47h1v1h-1zM21 48h1v1h-1zM30 48h1v1h-1zM41 48h1v1h-1zM88 48h1v1h-1zM94 48h1v1h-1zM134 48h1v1h-1zM151 48h1v1h-1zM208 48h1v1h-1zM213 48h1v1h-1zM23 49h1v1h-1zM76 49h1v1h-1zM78 49h1v1h-1zM99 49h1v1h-1zM125 49h1v1h-1zM135 49h1v1h-1zM141 49h1v1h-1zM149 49h1v1h-1zM200 49h1v1h-1zM217 49h1v1h-1z"/>
<path fill="#95C2EA" d="M11 0h1v1h-1zM38 0h1v1h-1zM68 0h1v1h-1zM74 0h1v1h-1zM125 0h1v1h-1zM167 0h1v1h-1zM187 0h1v1h-1zM198 0h1v1h-1zM208 0h1v1h-1zM216 0h1v1h-1zM18 1h1v1h-1zM51 1h1v1h-1zM98 1h1v1h-1zM143 1h1v1h-1zM146 1h1v1h-1zM151 1h1v1h-1zM167 1h1v1h-1zM188 1h1v1h-1zM192 1h1v1h-1zM202 1h1v1h-1zM210 1h1v1h-1zM43 2h1v1h-1zM47 2h1v1h-1zM93 2h1v1h-1zM101 2h1v1h-1zM127 2h1v1h-1zM152 2h1v1h-1zM192 2h1v1h-1zM204 2h1v1h-1zM28 3h1v1h-1zM39 3h1v1h-1zM50 3h1v1h-1zM61 3h1v1h-1zM88 3h1v1h-1zM90 3h1v1h-1zM126 3h1v1h-1zM199 3h1v1h-1zM218 3h1v1h-1zM6 4h1v1h-1zM25 4h1v1h-1zM67 4h1v1h-1zM82 4h1v1h-1zM86 4h1v1h-1zM134 4h1v1h-1zM176 4h1v1h-1zM183 4h1v1h-1zM195 4h1v1h-1zM210 4h1v1h-1zM32 5h1v1h-1zM62 5h1v1h-1zM96 5h1v1h-1zM101 5h1v1h-1zM117 5h1v1h-1zM119 5h1v1h-1zM191 5h1v1h-1zM195 5h1v1h-1zM205 5h1v1h-1zM210 5h1v1h-1zM219 5h1v1h-1zM0 6h1v1h-1zM16 6h1v1h-1zM28 6h1v1h-1zM34 6h1v1h-1zM38 6h1v1h-1zM48 6h1v1h-1zM80 6h1v1h-1zM92 6h1v1h-1zM136 6h1v1h-1zM144 6h1v1h-1zM159 6h1v1h-1zM182 6h1v1h-1zM19 7h1v1h-1zM22 7h1v1h-1zM44 7h1v1h-1zM66 7h1v1h-1zM69 7h2v1h-2zM105 7h1v1h-1zM136 7h1v1h-1zM142 7h1v1h-1zM150 7h1v1h-1zM213 7h1v1h-1zM0 8h1v1h-1zM7 8h1v1h-1zM16 8h1v1h-1zM65 8h1v1h-1zM70 8h1v1h-1zM77 8h1v1h-1zM79 8h1v1h-1zM189 8h1v1h-1zM7 9h1v1h-1zM43 9h1v1h-1zM48 9h1v1h-1zM58 9h1v1h-1zM70 9h1v1h-1zM80 9h1v1h-1zM107 9h1v1h-1zM129 9h1v1h-1zM145 9h1v1h-1zM150 9h1v1h-1zM179 9h1v1h-1zM220 9h2v1h-2zM0 10h1v1h-1zM16 10h1v1h-1zM58 10h1v1h-1zM64 10h1v1h-1zM66 10h1v1h-1zM80 10h1v1h-1zM101 10h1v1h-1zM123 10h1v1h-1zM128 10h1v1h-1zM136 10h1v1h-1zM157 10h1v1h-1zM170 10h1v1h-1zM201 10h1v1h-1zM25 11h1v1h-1zM39 11h1v1h-1zM41 11h1v1h-1zM43 11h1v1h-1zM45 11h1v1h-1zM86 11h1v1h-1zM105 11h1v1h-1zM148 11h1v1h-1zM155 11h1v1h-1zM167 11h1v1h-1zM181 11h1v1h-1zM31 12h1v1h-1zM40 12h1v1h-1zM100 12h1v1h-1zM111 12h1v1h-1zM123 12h1v1h-1zM170 12h1v1h-1zM181 12h1v1h-1zM189 12h1v1h-1zM202 12h1v1h-1zM24 13h1v1h-1zM26 13h1v1h-1zM54 13h1v1h-1zM67 13h2v1h-2zM85 13h1v1h-1zM98 13h1v1h-1zM100 13h1v1h-1zM106 13h1v1h-1zM110 13h1v1h-1zM174 13h1v1h-1zM12 14h1v1h-1zM16 14h1v1h-1zM25 14h2v1h-2zM39 14h2v1h-2zM49 14h1v1h-1zM54 14h1v1h-1zM67 14h1v1h-1zM82 14h1v1h-1zM87 14h1v1h-1zM95 14h1v1h-1zM152 14h1v1h-1zM154 14h1v1h-1zM158 14h1v1h-1zM16 15h1v1h-1zM42 15h2v1h-2zM46 15h1v1h-1zM67 15h1v1h-1zM103 15h1v1h-1zM123 15h1v1h-1zM163 15h1v1h-1zM165 15h1v1h-1zM167 15h1v1h-1zM200 15h1v1h-1zM63 16h1v1h-1zM80 16h1v1h-1zM84 16h2v1h-2zM88 16h2v1h-2zM105 16h1v1h-1zM115 16h1v1h-1zM119 16h1v1h-1zM123 16h1v1h-1zM148 16h1v1h-1zM174 16h1v1h-1zM189 16h1v1h-1zM54 17h1v1h-1zM62 17h1v1h-1zM67 17h1v1h-1zM69 17h1v1h-1zM75 17h1v1h-1zM82 17h1v1h-1zM87 17h2v1h-2zM102 17h1v1h-1zM111 17h1v1h-1zM146 17h1v1h-1zM185 17h1v1h-1zM12 18h1v1h-1zM22 18h1v1h-1zM29 18h1v1h-1zM45 18h1v1h-1zM59 18h1v1h-1zM93 18h1v1h-1zM114 18h1v1h-1zM151 18h1v1h-1zM182 18h1v1h-1zM184 18h1v1h-1zM210 18h1v1h-1zM218 18h1v1h-1zM223 18h1v1h-1zM25 19h1v1h-1zM33 19h1v1h-1zM54 19h1v1h-1zM59 19h2v1h-2zM72 19h1v1h-1zM98 19h1v1h-1zM102 19h1v1h-1zM121 19h1v1h-1zM125 19h2v1h-2zM130 19h1v1h-1zM136 19h1v1h-1zM151 19h1v1h-1zM163 19h1v1h-1zM179 19h1v1h-1zM206 19h1v1h-1zM3 20h1v1h-1zM12 20h1v1h-1zM40 20h1v1h-1zM46 20h1v1h-1zM55 20h1v1h-1zM72 20h1v1h-1zM86 20h1v1h-1zM130 20h1v1h-1zM159 20h1v1h-1zM173 20h1v1h-1zM175 20h1v1h-1zM194 20h1v1h-1zM199 20h1v1h-1zM208 20h1v1h-1zM218 20h1v1h-1zM6 21h1v1h-1zM30 21h1v1h-1zM32 21h1v1h-1zM54 21h1v1h-1zM60 21h1v1h-1zM72 21h1v1h-1zM85 21h1v1h-1zM131 21h1v1h-1zM133 21h1v1h-1zM172 21h1v1h-1zM219 21h1v1h-1zM16 22h1v1h-1zM19 22h1v1h-1zM29 22h1v1h-1zM31 22h1v1h-1zM42 22h1v1h-1zM46 22h1v1h-1zM50 22h1v1h-1zM55 22h1v1h-1zM61 22h1v1h-1zM94 22h1v1h-1zM115 22h1v1h-1zM133 22h1v1h-1zM149 22h1v1h-1zM151 22h1v1h-1zM156 22h1v1h-1zM159 22h1v1h-1zM187 22h1v1h-1zM221 22h1v1h-1zM19 23h1v1h-1zM29 23h1v1h-1zM36 23h1v1h-1zM42 23h1v1h-1zM50 23h1v1h-1zM68 23h1v1h-1zM81 23h1v1h-1zM106 23h1v1h-1zM111 23h1v1h-1zM175 23h1v1h-1zM197 23h1v1h-1zM199 23h1v1h-1zM1 24h1v1h-1zM9 24h1v1h-1zM23 24h1v1h-1zM32 24h1v1h-1zM36 24h1v1h-1zM50 24h1v1h-1zM59 24h1v1h-1zM64 24h1v1h-1zM81 24h1v1h-1zM112 24h1v1h-1zM118 24h1v1h-1zM129 24h1v1h-1zM13 25h1v1h-1zM16 25h1v1h-1zM29 25h1v1h-1zM42 25h2v1h-2zM61 25h1v1h-1zM73 25h2v1h-2zM81 25h1v1h-1zM86 25h1v1h-1zM106 25h1v1h-1zM118 25h1v1h-1zM121 25h1v1h-1zM146 25h1v1h-1zM195 25h1v1h-1zM208 25h1v1h-1zM211 25h1v1h-1zM3 26h1v1h-1zM14 26h1v1h-1zM31 26h1v1h-1zM61 26h1v1h-1zM82 26h1v1h-1zM88 26h1v1h-1zM106 26h1v1h-1zM133 26h1v1h-1zM194 26h1v1h-1zM217 26h1v1h-1zM222 26h1v1h-1zM224 26h1v1h-1zM6 27h1v1h-1zM17 27h1v1h-1zM38 27h2v1h-2zM49 27h1v1h-1zM82 27h1v1h-1zM91 27h1v1h-1zM108 27h1v1h-1zM117 27h1v1h-1zM137 27h1v1h-1zM168 27h1v1h-1zM194 27h1v1h-1zM199 27h1v1h-1zM210 27h1v1h-1zM50 28h1v1h-1zM55 28h1v1h-1zM59 28h1v1h-1zM65 28h1v1h-1zM75 28h1v1h-1zM98 28h1v1h-1zM105 28h1v1h-1zM111 28h1v1h-1zM120 28h1v1h-1zM143 28h1v1h-1zM165 28h1v1h-1zM168 28h1v1h-1zM179 28h1v1h-1zM186 28h1v1h-1zM224 28h1v1h-1zM17 29h1v1h-1zM22 29h1v1h-1zM39 29h1v1h-1zM54 29h1v1h-1zM67 29h1v1h-1zM87 29h1v1h-1zM110 29h1v1h-1zM124 29h1v1h-1zM211 29h1v1h-1zM7 30h1v1h-1zM28 30h1v1h-1zM41 30h1v1h-1zM53 30h1v1h-1zM66 30h2v1h-2zM71 30h1v1h-1zM92 30h1v1h-1zM107 30h1v1h-1zM141 30h1v1h-1zM152 30h1v1h-1zM167 30h2v1h-2zM172 30h1v1h-1zM190 30h1v1h-1zM215 30h1v1h-1zM5 31h1v1h-1zM39 31h1v1h-1zM46 31h2v1h-2zM52 31h1v1h-1zM92 31h1v1h-1zM118 31h1v1h-1zM123 31h1v1h-1zM151 31h1v1h-1zM160 31h1v1h-1zM177 31h1v1h-1zM212 31h1v1h-1zM56 32h1v1h-1zM58 32h1v1h-1zM63 32h1v1h-1zM75 32h2v1h-2zM100 32h1v1h-1zM102 32h1v1h-1zM131 32h1v1h-1zM147 32h1v1h-1zM157 32h1v1h-1zM161 32h1v1h-1zM172 32h1v1h-1zM182 32h1v1h-1zM189 32h1v1h-1zM197 32h1v1h-1zM215 32h1v1h-1zM218 32h1v1h-1zM20 33h1v1h-1zM25 33h1v1h-1zM59 33h1v1h-1zM64 33h2v1h-2zM67 33h1v1h-1zM80 33h1v1h-1zM94 33h1v1h-1zM107 33h1v1h-1zM117 33h1v1h-1zM130 33h1v1h-1zM137 33h1v1h-1zM164 33h1v1h-1zM171 33h2v1h-2zM178 33h1v1h-1zM206 33h1v1h-1zM216 33h1v1h-1zM36 34h1v1h-1zM68 34h1v1h-1zM75 34h1v1h-1zM106 34h1v1h-1zM117 34h1v1h-1zM119 34h1v1h-1zM123 34h1v1h-1zM137 34h1v1h-1zM143 34h1v1h-1zM164 34h1v1h-1zM168 34h1v1h-1zM178 34h1v1h-1zM186 34h1v1h-1zM188 34h1v1h-1zM193 34h2v1h-2zM197 34h1v1h-1zM7 35h1v1h-1zM39 35h1v1h-1zM53 35h1v1h-1zM105 35h1v1h-1zM107 35h1v1h-1zM117 35h1v1h-1zM121 35h1v1h-1zM126 35h1v1h-1zM142 35h1v1h-1zM147 35h1v1h-1zM153 35h2v1h-2zM156 35h1v1h-1zM161 35h1v1h-1zM167 35h1v1h-1zM175 35h1v1h-1zM177 35h1v1h-1zM188 35h1v1h-1zM197 35h1v1h-1zM12 36h1v1h-1zM22 36h1v1h-1zM28 36h1v1h-1zM41 36h1v1h-1zM47 36h1v1h-1zM67 36h1v1h-1zM71 36h1v1h-1zM102 36h1v1h-1zM105 36h1v1h-1zM111 36h1v1h-1zM118 36h1v1h-1zM120 36h1v1h-1zM123 36h1v1h-1zM125 36h1v1h-1zM131 36h1v1h-1zM164 36h1v1h-1zM171 36h1v1h-1zM175 36h1v1h-1zM179 36h1v1h-1zM194 36h1v1h-1zM200 36h1v1h-1zM208 36h1v1h-1zM222 36h1v1h-1zM1 37h1v1h-1zM16 37h1v1h-1zM38 37h1v1h-1zM76 37h1v1h-1zM105 37h1v1h-1zM129 37h1v1h-1zM149 37h1v1h-1zM167 37h1v1h-1zM179 37h2v1h-2zM193 37h1v1h-1zM207 37h1v1h-1zM55 38h1v1h-1zM67 38h1v1h-1zM114 38h1v1h-1zM116 38h1v1h-1zM125 38h1v1h-1zM156 38h1v1h-1zM176 38h1v1h-1zM198 38h2v1h-2zM201 38h1v1h-1zM204 38h1v1h-1zM207 38h1v1h-1zM209 38h1v1h-1zM36 39h1v1h-1zM41 39h1v1h-1zM55 39h2v1h-2zM67 39h1v1h-1zM121 39h1v1h-1zM129 39h1v1h-1zM152 39h1v1h-1zM197 39h1v1h-1zM199 39h1v1h-1zM202 39h1v1h-1zM205 39h1v1h-1zM221 39h1v1h-1zM14 40h1v1h-1zM41 40h1v1h-1zM46 40h1v1h-1zM65 40h2v1h-2zM82 40h1v1h-1zM105 40h2v1h-2zM167 40h1v1h-1zM171 40h1v1h-1zM185 40h1v1h-1zM188 40h1v1h-1zM202 40h1v1h-1zM220 40h1v1h-1zM35 41h1v1h-1zM55 41h1v1h-1zM95 41h1v1h-1zM101 41h1v1h-1zM151 41h1v1h-1zM182 41h1v1h-1zM199 41h1v1h-1zM201 41h1v1h-1zM206 41h1v1h-1zM210 41h1v1h-1zM23 42h1v1h-1zM67 42h1v1h-1zM82 42h1v1h-1zM89 42h1v1h-1zM92 42h1v1h-1zM96 42h1v1h-1zM118 42h1v1h-1zM135 42h1v1h-1zM142 42h1v1h-1zM144 42h1v1h-1zM168 42h1v1h-1zM175 42h1v1h-1zM185 42h1v1h-1zM190 42h1v1h-1zM204 42h1v1h-1zM209 42h1v1h-1zM41 43h1v1h-1zM46 43h1v1h-1zM53 43h1v1h-1zM56 43h1v1h-1zM60 43h1v1h-1zM82 43h1v1h-1zM89 43h1v1h-1zM156 43h1v1h-1zM161 43h1v1h-1zM175 43h1v1h-1zM179 43h1v1h-1zM182 43h1v1h-1zM185 43h1v1h-1zM187 43h1v1h-1zM190 43h1v1h-1zM198 43h1v1h-1zM201 43h1v1h-1zM205 43h1v1h-1zM5 44h1v1h-1zM36 44h1v1h-1zM38 44h1v1h-1zM41 44h1v1h-1zM65 44h1v1h-1zM92 44h1v1h-1zM105 44h1v1h-1zM112 44h1v1h-1zM120 44h1v1h-1zM129 44h1v1h-1zM183 44h1v1h-1zM1 45h1v1h-1zM39 45h1v1h-1zM41 45h1v1h-1zM58 45h1v1h-1zM60 45h1v1h-1zM65 45h1v1h-1zM77 45h1v1h-1zM114 45h1v1h-1zM121 45h1v1h-1zM130 45h1v1h-1zM134 45h1v1h-1zM139 45h1v1h-1zM197 45h2v1h-2zM10 46h1v1h-1zM41 46h1v1h-1zM51 46h1v1h-1zM61 46h1v1h-1zM99 46h1v1h-1zM115 46h1v1h-1zM124 46h1v1h-1zM137 46h1v1h-1zM206 46h1v1h-1zM219 46h1v1h-1zM43 47h1v1h-1zM55 47h1v1h-1zM79 47h1v1h-1zM86 47h1v1h-1zM126 47h1v1h-1zM141 47h1v1h-1zM195 47h1v1h-1zM207 47h1v1h-1zM214 47h1v1h-1zM216 47h1v1h-1zM220 47h1v1h-1zM27 48h1v1h-1zM44 48h1v1h-1zM50 48h1v1h-1zM56 48h1v1h-1zM65 48h1v1h-1zM68 48h1v1h-1zM153 48h1v1h-1zM164 48h1v1h-1zM169 48h1v1h-1zM171 48h1v1h-1zM190 48h1v1h-1zM198 48h1v1h-1zM201 48h1v1h-1zM2 49h1v1h-1zM12 49h1v1h-1zM24 49h1v1h-1zM43 49h1v1h-1zM45 49h1v1h-1zM58 49h1v1h-1zM91 49h1v1h-1zM136 49h1v1h-1zM180 49h2v1h-2zM208 49h1v1h-1z"/>
<path fill="#BAD6F1" d="M27 0h1v1h-1zM42 0h1v1h-1zM44 0h1v1h-1zM46 0h1v1h-1zM90 0h1v1h-1zM102 0h1v1h-1zM108 0h1v1h-1zM112 0h1v1h-1zM144 0h1v1h-1zM175 0h1v1h-1zM195 0h1v1h-1zM213 0h1v1h-1zM220 0h2v1h-2zM15 1h1v1h-1zM21 1h1v1h-1zM40 1h1v1h-1zM68 1h1v1h-1zM74 1h1v1h-1zM121 1h1v1h-1zM131 1h1v1h-1zM139 1h1v1h-1zM155 1h1v1h-1zM182 1h1v1h-1zM203 1h2v1h-2zM8 2h1v1h-1zM51 2h1v1h-1zM105 2h1v1h-1zM122 2h1v1h-1zM132 2h1v1h-1zM140 2h1v1h-1zM158 2h1v1h-1zM180 2h1v1h-1zM78 3h1v1h-1zM111 3h1v1h-1zM113 3h1v1h-1zM123 3h1v1h-1zM136 3h1v1h-1zM138 3h2v1h-2zM188 3h1v1h-1zM213 3h1v1h-1zM219 3h1v1h-1zM23 4h1v1h-1zM50 4h1v1h-1zM58 4h2v1h-2zM68 4h2v1h-2zM78 4h2v1h-2zM88 4h1v1h-1zM93 4h1v1h-1zM96 4h1v1h-1zM111 4h1v1h-1zM126 4h1v1h-1zM147 4h1v1h-1zM152 4h1v1h-1zM178 4h1v1h-1zM206 4h1v1h-1zM18 5h1v1h-1zM21 5h1v1h-1zM26 5h1v1h-1zM52 5h1v1h-1zM64 5h1v1h-1zM75 5h1v1h-1zM106 5h1v1h-1zM118 5h1v1h-1zM128 5h1v1h-1zM137 5h1v1h-1zM141 5h1v1h-1zM144 5h1v1h-1zM146 5h1v1h-1zM154 5h1v1h-1zM174 5h1v1h-1zM180 5h1v1h-1zM186 5h1v1h-1zM188 5h1v1h-1zM202 5h1v1h-1zM6 6h1v1h-1zM8 6h1v1h-1zM33 6h1v1h-1zM50 6h1v1h-1zM52 6h1v1h-1zM69 6h1v1h-1zM75 6h1v1h-1zM104 6h1v1h-1zM112 6h1v1h-1zM119 6h1v1h-1zM135 6h1v1h-1zM166 6h1v1h-1zM168 6h1v1h-1zM178 6h1v1h-1zM188 6h1v1h-1zM1 7h1v1h-1zM34 7h1v1h-1zM36 7h2v1h-2zM41 7h1v1h-1zM48 7h1v1h-1zM52 7h2v1h-2zM58 7h1v1h-1zM79 7h1v1h-1zM86 7h1v1h-1zM93 7h1v1h-1zM194 7h1v1h-1zM196 7h1v1h-1zM2 8h1v1h-1zM28 8h1v1h-1zM36 8h1v1h-1zM44 8h1v1h-1zM46 8h1v1h-1zM52 8h1v1h-1zM62 8h1v1h-1zM66 8h1v1h-1zM83 8h1v1h-1zM94 8h1v1h-1zM107 8h1v1h-1zM110 8h1v1h-1zM128 8h1v1h-1zM159 8h1v1h-1zM170 8h1v1h-1zM178 8h1v1h-1zM196 8h1v1h-1zM2 9h1v1h-1zM12 9h1v1h-1zM25 9h1v1h-1zM38 9h1v1h-1zM41 9h1v1h-1zM51 9h1v1h-1zM97 9h1v1h-1zM99 9h1v1h-1zM105 9h1v1h-1zM135 9h1v1h-1zM153 9h1v1h-1zM157 9h1v1h-1zM170 9h2v1h-2zM176 9h1v1h-1zM6 10h1v1h-1zM24 10h1v1h-1zM37 10h1v1h-1zM41 10h1v1h-1zM46 10h1v1h-1zM49 10h1v1h-1zM60 10h1v1h-1zM83 10h1v1h-1zM89 10h1v1h-1zM135 10h1v1h-1zM150 10h1v1h-1zM153 10h1v1h-1zM156 10h1v1h-1zM165 10h1v1h-1zM203 10h1v1h-1zM220 10h1v1h-1zM11 11h1v1h-1zM40 11h1v1h-1zM52 11h1v1h-1zM58 11h1v1h-1zM97 11h1v1h-1zM101 11h1v1h-1zM150 11h1v1h-1zM192 11h1v1h-1zM206 11h1v1h-1zM216 11h1v1h-1zM14 12h1v1h-1zM49 12h1v1h-1zM54 12h1v1h-1zM58 12h1v1h-1zM64 12h1v1h-1zM70 12h1v1h-1zM87 12h1v1h-1zM94 12h1v1h-1zM102 12h1v1h-1zM104 12h1v1h-1zM115 12h1v1h-1zM132 12h1v1h-1zM154 12h1v1h-1zM167 12h1v1h-1zM216 12h1v1h-1zM63 13h1v1h-1zM76 13h1v1h-1zM87 13h1v1h-1zM113 13h1v1h-1zM140 13h1v1h-1zM146 13h1v1h-1zM148 13h1v1h-1zM163 13h1v1h-1zM167 13h1v1h-1zM182 13h1v1h-1zM189 13h1v1h-1zM194 13h1v1h-1zM19 14h1v1h-1zM43 14h1v1h-1zM46 14h1v1h-1zM55 14h1v1h-1zM59 14h1v1h-1zM63 14h1v1h-1zM69 14h1v1h-1zM75 14h2v1h-2zM94 14h1v1h-1zM160 14h1v1h-1zM167 14h1v1h-1zM201 14h1v1h-1zM14 15h1v1h-1zM22 15h1v1h-1zM36 15h1v1h-1zM39 15h1v1h-1zM54 15h1v1h-1zM75 15h1v1h-1zM84 15h1v1h-1zM87 15h1v1h-1zM105 15h1v1h-1zM107 15h1v1h-1zM113 15h1v1h-1zM115 15h1v1h-1zM140 15h1v1h-1zM155 15h1v1h-1zM157 15h1v1h-1zM185 15h1v1h-1zM188 15h2v1h-2zM198 15h1v1h-1zM206 15h1v1h-1zM216 15h1v1h-1zM12 16h1v1h-1zM36 16h1v1h-1zM45 16h2v1h-2zM49 16h1v1h-1zM52 16h1v1h-1zM55 16h1v1h-1zM69 16h1v1h-1zM103 16h1v1h-1zM150 16h1v1h-1zM154 16h1v1h-1zM181 16h1v1h-1zM187 16h1v1h-1zM198 16h1v1h-1zM24 17h1v1h-1zM33 17h2v1h-2zM43 17h1v1h-1zM46 17h1v1h-1zM60 17h1v1h-1zM91 17h1v1h-1zM100 17h1v1h-1zM117 17h1v1h-1zM125 17h1v1h-1zM140 17h1v1h-1zM152 17h1v1h-1zM2 18h1v1h-1zM6 18h1v1h-1zM26 18h1v1h-1zM37 18h1v1h-1zM49 18h1v1h-1zM72 18h1v1h-1zM78 18h1v1h-1zM125 18h1v1h-1zM136 18h1v1h-1zM141 18h1v1h-1zM147 18h1v1h-1zM167 18h1v1h-1zM194 18h1v1h-1zM201 18h1v1h-1zM204 18h1v1h-1zM222 18h1v1h-1zM31 19h2v1h-2zM40 19h1v1h-1zM61 19h1v1h-1zM64 19h1v1h-1zM111 19h1v1h-1zM116 19h1v1h-1zM118 19h1v1h-1zM124 19h1v1h-1zM133 19h1v1h-1zM188 19h2v1h-2zM208 19h1v1h-1zM211 19h1v1h-1zM213 19h2v1h-2zM216 19h1v1h-1zM222 19h1v1h-1zM0 20h1v1h-1zM20 20h1v1h-1zM36 20h1v1h-1zM42 20h1v1h-1zM54 20h1v1h-1zM73 20h3v1h-3zM102 20h1v1h-1zM111 20h1v1h-1zM118 20h1v1h-1zM125 20h1v1h-1zM151 20h1v1h-1zM161 20h1v1h-1zM166 20h1v1h-1zM195 20h1v1h-1zM221 20h1v1h-1zM20 21h1v1h-1zM46 21h1v1h-1zM55 21h1v1h-1zM82 21h1v1h-1zM93 21h1v1h-1zM103 21h1v1h-1zM106 21h1v1h-1zM116 21h1v1h-1zM135 21h1v1h-1zM137 21h1v1h-1zM159 21h1v1h-1zM162 21h1v1h-1zM173 21h1v1h-1zM193 21h1v1h-1zM207 21h1v1h-1zM215 21h1v1h-1zM43 22h1v1h-1zM69 22h1v1h-1zM81 22h1v1h-1zM112 22h1v1h-1zM132 22h1v1h-1zM134 22h3v1h-3zM160 22h1v1h-1zM193 22h1v1h-1zM207 22h1v1h-1zM217 22h1v1h-1zM223 22h1v1h-1zM6 23h1v1h-1zM20 23h1v1h-1zM33 23h2v1h-2zM46 23h1v1h-1zM61 23h1v1h-1zM76 23h1v1h-1zM80 23h1v1h-1zM82 23h1v1h-1zM88 23h1v1h-1zM93 23h1v1h-1zM112 23h1v1h-1zM120 23h1v1h-1zM125 23h1v1h-1zM127 23h1v1h-1zM130 23h2v1h-2zM135 23h1v1h-1zM161 23h1v1h-1zM173 23h1v1h-1zM180 23h1v1h-1zM206 23h1v1h-1zM13 24h1v1h-1zM33 24h1v1h-1zM69 24h1v1h-1zM72 24h1v1h-1zM89 24h1v1h-1zM96 24h1v1h-1zM125 24h1v1h-1zM130 24h2v1h-2zM135 24h1v1h-1zM159 24h1v1h-1zM175 24h1v1h-1zM181 24h1v1h-1zM208 24h1v1h-1zM218 24h1v1h-1zM222 24h1v1h-1zM19 25h1v1h-1zM40 25h1v1h-1zM72 25h1v1h-1zM140 25h1v1h-1zM156 25h1v1h-1zM162 25h1v1h-1zM170 25h1v1h-1zM221 25h2v1h-2zM112 26h1v1h-1zM125 26h1v1h-1zM136 26h1v1h-1zM151 26h1v1h-1zM159 26h2v1h-2zM179 26h1v1h-1zM188 26h2v1h-2zM218 26h1v1h-1zM7 27h1v1h-1zM33 27h1v1h-1zM87 27h1v1h-1zM92 27h1v1h-1zM98 27h1v1h-1zM105 27h1v1h-1zM118 27h1v1h-1zM123 27h1v1h-1zM131 27h1v1h-1zM164 27h1v1h-1zM171 27h1v1h-1zM192 27h1v1h-1zM216 27h1v1h-1zM14 28h1v1h-1zM63 28h1v1h-1zM78 28h1v1h-1zM83 28h1v1h-1zM117 28h1v1h-1zM125 28h1v1h-1zM153 28h2v1h-2zM163 28h1v1h-1zM182 28h1v1h-1zM189 28h1v1h-1zM202 28h1v1h-1zM223 28h1v1h-1zM5 29h1v1h-1zM7 29h1v1h-1zM14 29h1v1h-1zM19 29h1v1h-1zM28 29h1v1h-1zM48 29h1v1h-1zM63 29h1v1h-1zM65 29h1v1h-1zM72 29h1v1h-1zM80 29h1v1h-1zM83 29h1v1h-1zM91 29h1v1h-1zM101 29h1v1h-1zM117 29h1v1h-1zM120 29h1v1h-1zM153 29h1v1h-1zM163 29h2v1h-2zM168 29h1v1h-1zM182 29h1v1h-1zM184 29h1v1h-1zM189 29h1v1h-1zM195 29h1v1h-1zM207 29h1v1h-1zM215 29h1v1h-1zM5 30h1v1h-1zM10 30h1v1h-1zM33 30h1v1h-1zM36 30h1v1h-1zM38 30h1v1h-1zM40 30h1v1h-1zM47 30h1v1h-1zM72 30h1v1h-1zM91 30h1v1h-1zM98 30h1v1h-1zM108 30h1v1h-1zM113 30h1v1h-1zM116 30h1v1h-1zM120 30h1v1h-1zM122 30h1v1h-1zM131 30h1v1h-1zM139 30h1v1h-1zM151 30h1v1h-1zM156 30h2v1h-2zM160 30h1v1h-1zM164 30h1v1h-1zM175 30h1v1h-1zM186 30h1v1h-1zM216 30h1v1h-1zM219 30h1v1h-1zM10 31h1v1h-1zM14 31h1v1h-1zM17 31h1v1h-1zM49 31h1v1h-1zM56 31h1v1h-1zM67 31h1v1h-1zM78 31h1v1h-1zM87 31h2v1h-2zM105 31h1v1h-1zM111 31h1v1h-1zM128 31h1v1h-1zM154 31h1v1h-1zM173 31h1v1h-1zM182 31h1v1h-1zM194 31h1v1h-1zM207 31h1v1h-1zM211 31h1v1h-1zM216 31h1v1h-1zM224 31h1v1h-1zM17 32h1v1h-1zM71 32h2v1h-2zM114 32h2v1h-2zM118 32h1v1h-1zM123 32h1v1h-1zM151 32h1v1h-1zM153 32h1v1h-1zM159 32h1v1h-1zM192 32h1v1h-1zM194 32h1v1h-1zM201 32h1v1h-1zM211 32h1v1h-1zM23 33h1v1h-1zM28 33h1v1h-1zM49 33h1v1h-1zM83 33h1v1h-1zM113 33h1v1h-1zM118 33h2v1h-2zM131 33h1v1h-1zM147 33h1v1h-1zM154 33h1v1h-1zM160 33h1v1h-1zM180 33h1v1h-1zM183 33h1v1h-1zM202 33h1v1h-1zM211 33h1v1h-1zM224 33h1v1h-1zM14 34h1v1h-1zM22 34h1v1h-1zM28 34h1v1h-1zM80 34h2v1h-2zM97 34h2v1h-2zM100 34h1v1h-1zM151 34h1v1h-1zM153 34h1v1h-1zM173 34h1v1h-1zM187 34h1v1h-1zM195 34h1v1h-1zM211 34h1v1h-1zM218 34h1v1h-1zM222 34h1v1h-1zM10 35h1v1h-1zM23 35h1v1h-1zM47 35h1v1h-1zM50 35h1v1h-1zM80 35h1v1h-1zM108 35h1v1h-1zM120 35h1v1h-1zM130 35h3v1h-3zM140 35h1v1h-1zM151 35h1v1h-1zM163 35h2v1h-2zM192 35h1v1h-1zM202 35h1v1h-1zM212 35h1v1h-1zM25 36h1v1h-1zM50 36h1v1h-1zM55 36h1v1h-1zM68 36h1v1h-1zM83 36h1v1h-1zM85 36h1v1h-1zM87 36h1v1h-1zM97 36h1v1h-1zM127 36h1v1h-1zM129 36h1v1h-1zM153 36h1v1h-1zM163 36h1v1h-1zM177 36h1v1h-1zM197 36h1v1h-1zM207 36h1v1h-1zM211 36h1v1h-1zM216 36h1v1h-1zM21 37h1v1h-1zM41 37h1v1h-1zM43 37h1v1h-1zM46 37h1v1h-1zM65 37h1v1h-1zM120 37h1v1h-1zM122 37h1v1h-1zM126 37h2v1h-2zM168 37h1v1h-1zM175 37h1v1h-1zM202 37h1v1h-1zM216 37h1v1h-1zM220 37h1v1h-1zM1 38h1v1h-1zM5 38h1v1h-1zM24 38h1v1h-1zM46 38h1v1h-1zM56 38h1v1h-1zM62 38h1v1h-1zM76 38h1v1h-1zM118 38h1v1h-1zM126 38h1v1h-1zM173 38h1v1h-1zM179 38h1v1h-1zM190 38h1v1h-1zM194 38h1v1h-1zM206 38h1v1h-1zM220 38h1v1h-1zM5 39h1v1h-1zM14 39h1v1h-1zM40 39h1v1h-1zM76 39h1v1h-1zM92 39h1v1h-1zM120 39h1v1h-1zM156 39h1v1h-1zM161 39h1v1h-1zM167 39h1v1h-1zM173 39h1v1h-1zM176 39h1v1h-1zM216 39h1v1h-1zM11 40h2v1h-2zM123 40h1v1h-1zM125 40h1v1h-1zM127 40h1v1h-1zM141 40h1v1h-1zM150 40h1v1h-1zM155 40h1v1h-1zM165 40h1v1h-1zM179 40h1v1h-1zM193 40h1v1h-1zM205 40h1v1h-1zM5 41h1v1h-1zM41 41h1v1h-1zM65 41h1v1h-1zM74 41h1v1h-1zM80 41h1v1h-1zM84 41h1v1h-1zM108 41h1v1h-1zM122 41h1v1h-1zM129 41h1v1h-1zM135 41h1v1h-1zM149 41h2v1h-2zM156 41h1v1h-1zM160 41h1v1h-1zM171 41h1v1h-1zM185 41h1v1h-1zM190 41h1v1h-1zM196 41h1v1h-1zM207 41h1v1h-1zM220 41h1v1h-1zM5 42h1v1h-1zM53 42h1v1h-1zM75 42h2v1h-2zM113 42h1v1h-1zM127 42h1v1h-1zM149 42h1v1h-1zM189 42h1v1h-1zM207 42h1v1h-1zM0 43h1v1h-1zM14 43h1v1h-1zM38 43h1v1h-1zM62 43h2v1h-2zM65 43h1v1h-1zM67 43h1v1h-1zM84 43h1v1h-1zM100 43h1v1h-1zM122 43h1v1h-1zM125 43h1v1h-1zM155 43h1v1h-1zM199 43h1v1h-1zM209 43h1v1h-1zM220 43h1v1h-1zM14 44h1v1h-1zM22 44h1v1h-1zM56 44h1v1h-1zM63 44h1v1h-1zM86 44h1v1h-1zM130 44h1v1h-1zM143 44h1v1h-1zM147 44h1v1h-1zM151 44h1v1h-1zM154 44h1v1h-1zM197 44h1v1h-1zM199 44h1v1h-1zM202 44h1v1h-1zM216 44h1v1h-1zM221 44h1v1h-1zM9 45h1v1h-1zM45 45h1v1h-1zM56 45h1v1h-1zM66 45h1v1h-1zM72 45h1v1h-1zM94 45h1v1h-1zM106 45h1v1h-1zM126 45h1v1h-1zM185 45h1v1h-1zM194 45h1v1h-1zM213 45h1v1h-1zM218 45h1v1h-1zM38 46h1v1h-1zM60 46h1v1h-1zM122 46h1v1h-1zM152 46h1v1h-1zM160 46h1v1h-1zM194 46h1v1h-1zM207 46h1v1h-1zM213 46h1v1h-1zM7 47h1v1h-1zM13 47h1v1h-1zM21 47h1v1h-1zM45 47h1v1h-1zM49 47h1v1h-1zM57 47h1v1h-1zM90 47h1v1h-1zM124 47h2v1h-2zM177 47h1v1h-1zM198 47h1v1h-1zM219 47h1v1h-1zM28 48h1v1h-1zM57 48h2v1h-2zM130 48h1v1h-1zM135 48h1v1h-1zM137 48h1v1h-1zM141 48h1v1h-1zM154 48h1v1h-1zM168 48h1v1h-1zM183 48h1v1h-1zM195 48h1v1h-1zM1 49h1v1h-1zM14 49h1v1h-1zM21 49h1v1h-1zM30 49h1v1h-1zM50 49h1v1h-1zM98 49h1v1h-1zM138 49h1v1h-1zM153 49h1v1h-1zM187 49h1v1h-1zM193 49h1v1h-1zM196 49h1v1h-1zM203 49h1v1h-1z"/>
<path fill="#DAE8F8" d="M17 0h1v1h-1zM24 0h1v1h-1zM29 0h1v1h-1zM66 0h1v1h-1zM71 0h1v1h-1zM105 0h1v1h-1zM109 0h2v1h-2zM126 0h1v1h-1zM146 0h1v1h-1zM149 0h1v1h-1zM158 0h1v1h-1zM197 0h1v1h-1zM219 0h1v1h-1zM1 1h1v1h-1zM3 1h1v1h-1zM5 1h1v1h-1zM9 1h1v1h-1zM11 1h1v1h-1zM13 1h1v1h-1zM17 1h1v1h-1zM27 1h1v1h-1zM33 1h1v1h-1zM37 1h1v1h-1zM59 1h2v1h-2zM67 1h1v1h-1zM92 1h1v1h-1zM95 1h1v1h-1zM102 1h1v1h-1zM109 1h1v1h-1zM122 1h1v1h-1zM134 1h1v1h-1zM145 1h1v1h-1zM148 1h1v1h-1zM150 1h1v1h-1zM154 1h1v1h-1zM156 1h1v1h-1zM162 1h1v1h-1zM168 1h1v1h-1zM174 1h1v1h-1zM187 1h1v1h-1zM195 1h1v1h-1zM9 2h1v1h-1zM21 2h1v1h-1zM29 2h1v1h-1zM42 2h1v1h-1zM44 2h1v1h-1zM61 2h1v1h-1zM67 2h1v1h-1zM87 2h2v1h-2zM124 2h1v1h-1zM177 2h1v1h-1zM194 2h1v1h-1zM212 2h1v1h-1zM5 3h2v1h-2zM35 3h1v1h-1zM47 3h1v1h-1zM58 3h1v1h-1zM68 3h2v1h-2zM93 3h1v1h-1zM130 3h1v1h-1zM147 3h1v1h-1zM163 3h1v1h-1zM168 3h1v1h-1zM174 3h1v1h-1zM178 3h1v1h-1zM181 3h1v1h-1zM211 3h1v1h-1zM221 3h1v1h-1zM13 4h1v1h-1zM17 4h1v1h-1zM21 4h1v1h-1zM28 4h1v1h-1zM44 4h1v1h-1zM65 4h1v1h-1zM84 4h1v1h-1zM89 4h1v1h-1zM95 4h1v1h-1zM100 4h1v1h-1zM105 4h1v1h-1zM109 4h1v1h-1zM114 4h1v1h-1zM117 4h1v1h-1zM142 4h1v1h-1zM148 4h1v1h-1zM167 4h1v1h-1zM187 4h1v1h-1zM212 4h1v1h-1zM28 5h1v1h-1zM47 5h1v1h-1zM92 5h1v1h-1zM98 5h1v1h-1zM103 5h1v1h-1zM107 5h1v1h-1zM113 5h1v1h-1zM131 5h1v1h-1zM138 5h1v1h-1zM150 5h1v1h-1zM159 5h1v1h-1zM168 5h1v1h-1zM199 5h1v1h-1zM204 5h1v1h-1zM12 6h1v1h-1zM29 6h1v1h-1zM55 6h1v1h-1zM65 6h1v1h-1zM77 6h1v1h-1zM83 6h1v1h-1zM113 6h1v1h-1zM117 6h1v1h-1zM122 6h1v1h-1zM125 6h1v1h-1zM154 6h1v1h-1zM175 6h1v1h-1zM201 6h1v1h-1zM207 6h1v1h-1zM6 7h2v1h-2zM12 7h1v1h-1zM31 7h1v1h-1zM38 7h1v1h-1zM55 7h1v1h-1zM59 7h1v1h-1zM75 7h1v1h-1zM77 7h2v1h-2zM91 7h1v1h-1zM113 7h1v1h-1zM128 7h1v1h-1zM206 7h1v1h-1zM6 8h1v1h-1zM8 8h2v1h-2zM14 8h1v1h-1zM34 8h1v1h-1zM43 8h1v1h-1zM47 8h1v1h-1zM60 8h1v1h-1zM78 8h1v1h-1zM87 8h1v1h-1zM136 8h1v1h-1zM138 8h1v1h-1zM157 8h1v1h-1zM168 8h1v1h-1zM179 8h1v1h-1zM217 8h1v1h-1zM62 9h1v1h-1zM65 9h1v1h-1zM77 9h1v1h-1zM82 9h1v1h-1zM103 9h1v1h-1zM117 9h1v1h-1zM119 9h1v1h-1zM123 9h1v1h-1zM142 9h1v1h-1zM1 10h1v1h-1zM3 10h1v1h-1zM14 10h1v1h-1zM29 10h1v1h-1zM43 10h2v1h-2zM50 10h1v1h-1zM55 10h1v1h-1zM87 10h1v1h-1zM105 10h1v1h-1zM112 10h1v1h-1zM114 10h1v1h-1zM125 10h1v1h-1zM148 10h1v1h-1zM188 10h1v1h-1zM194 10h1v1h-1zM223 10h1v1h-1zM33 11h1v1h-1zM54 11h1v1h-1zM70 11h1v1h-1zM72 11h1v1h-1zM118 11h1v1h-1zM143 11h1v1h-1zM146 11h1v1h-1zM149 11h1v1h-1zM157 11h1v1h-1zM189 11h1v1h-1zM193 11h1v1h-1zM52 12h1v1h-1zM60 12h1v1h-1zM68 12h1v1h-1zM106 12h1v1h-1zM118 12h1v1h-1zM122 12h1v1h-1zM130 12h1v1h-1zM139 12h2v1h-2zM180 12h1v1h-1zM201 12h1v1h-1zM209 12h1v1h-1zM25 13h1v1h-1zM34 13h1v1h-1zM39 13h1v1h-1zM45 13h1v1h-1zM62 13h1v1h-1zM104 13h1v1h-1zM112 13h1v1h-1zM116 13h1v1h-1zM157 13h2v1h-2zM170 13h1v1h-1zM193 13h1v1h-1zM216 13h1v1h-1zM32 14h1v1h-1zM92 14h1v1h-1zM103 14h1v1h-1zM113 14h1v1h-1zM123 14h1v1h-1zM125 14h1v1h-1zM129 14h2v1h-2zM137 14h1v1h-1zM140 14h1v1h-1zM177 14h1v1h-1zM197 14h1v1h-1zM25 15h1v1h-1zM33 15h1v1h-1zM40 15h1v1h-1zM49 15h1v1h-1zM52 15h1v1h-1zM56 15h1v1h-1zM82 15h1v1h-1zM91 15h1v1h-1zM112 15h1v1h-1zM126 15h1v1h-1zM168 15h1v1h-1zM194 15h1v1h-1zM209 15h1v1h-1zM14 16h1v1h-1zM16 16h1v1h-1zM34 16h1v1h-1zM64 16h1v1h-1zM67 16h1v1h-1zM75 16h1v1h-1zM79 16h1v1h-1zM82 16h1v1h-1zM90 16h3v1h-3zM94 16h1v1h-1zM104 16h1v1h-1zM110 16h1v1h-1zM118 16h1v1h-1zM137 16h1v1h-1zM139 16h1v1h-1zM167 16h1v1h-1zM180 16h1v1h-1zM182 16h1v1h-1zM16 17h1v1h-1zM20 17h1v1h-1zM36 17h1v1h-1zM64 17h1v1h-1zM68 17h1v1h-1zM90 17h1v1h-1zM92 17h1v1h-1zM98 17h1v1h-1zM101 17h1v1h-1zM103 17h1v1h-1zM105 17h1v1h-1zM110 17h1v1h-1zM116 17h1v1h-1zM137 17h1v1h-1zM143 17h1v1h-1zM158 17h1v1h-1zM192 17h1v1h-1zM201 17h1v1h-1zM82 18h1v1h-1zM89 18h1v1h-1zM95 18h1v1h-1zM97 18h1v1h-1zM124 18h1v1h-1zM127 18h1v1h-1zM139 18h1v1h-1zM143 18h1v1h-1zM175 18h1v1h-1zM196 18h1v1h-1zM202 18h1v1h-1zM224 18h1v1h-1zM39 19h1v1h-1zM43 19h1v1h-1zM71 19h1v1h-1zM93 19h1v1h-1zM96 19h1v1h-1zM120 19h1v1h-1zM134 19h1v1h-1zM140 19h1v1h-1zM144 19h1v1h-1zM173 19h1v1h-1zM209 19h1v1h-1zM215 19h1v1h-1zM217 19h1v1h-1zM1 20h1v1h-1zM34 20h1v1h-1zM43 20h1v1h-1zM59 20h1v1h-1zM103 20h1v1h-1zM131 20h1v1h-1zM142 20h1v1h-1zM162 20h1v1h-1zM176 20h1v1h-1zM183 20h1v1h-1zM209 20h1v1h-1zM0 21h2v1h-2zM38 21h1v1h-1zM49 21h1v1h-1zM64 21h1v1h-1zM68 21h1v1h-1zM76 21h1v1h-1zM96 21h1v1h-1zM102 21h1v1h-1zM112 21h1v1h-1zM118 21h1v1h-1zM122 21h1v1h-1zM125 21h1v1h-1zM134 21h1v1h-1zM136 21h1v1h-1zM151 21h1v1h-1zM170 21h1v1h-1zM180 21h1v1h-1zM209 21h1v1h-1zM221 21h1v1h-1zM223 21h1v1h-1zM1 22h1v1h-1zM10 22h1v1h-1zM12 22h1v1h-1zM15 22h1v1h-1zM30 22h1v1h-1zM33 22h1v1h-1zM88 22h2v1h-2zM96 22h1v1h-1zM120 22h1v1h-1zM125 22h1v1h-1zM130 22h2v1h-2zM153 22h1v1h-1zM161 22h1v1h-1zM163 22h1v1h-1zM188 22h2v1h-2zM195 22h1v1h-1zM208 22h1v1h-1zM218 22h1v1h-1zM1 23h1v1h-1zM3 23h1v1h-1zM12 23h2v1h-2zM30 23h1v1h-1zM38 23h1v1h-1zM72 23h1v1h-1zM116 23h1v1h-1zM126 23h1v1h-1zM151 23h1v1h-1zM153 23h1v1h-1zM187 23h2v1h-2zM194 23h1v1h-1zM218 23h1v1h-1zM10 24h1v1h-1zM14 24h1v1h-1zM38 24h1v1h-1zM86 24h1v1h-1zM103 24h1v1h-1zM123 24h1v1h-1zM133 24h2v1h-2zM156 24h1v1h-1zM166 24h1v1h-1zM170 24h1v1h-1zM188 24h1v1h-1zM199 24h1v1h-1zM212 24h1v1h-1zM219 24h1v1h-1zM20 25h1v1h-1zM33 25h2v1h-2zM69 25h1v1h-1zM88 25h1v1h-1zM93 25h1v1h-1zM96 25h1v1h-1zM103 25h1v1h-1zM108 25h1v1h-1zM124 25h1v1h-1zM126 25h1v1h-1zM144 25h1v1h-1zM191 25h1v1h-1zM209 25h1v1h-1zM16 26h1v1h-1zM20 26h1v1h-1zM80 26h1v1h-1zM96 26h1v1h-1zM113 26h1v1h-1zM144 26h1v1h-1zM163 26h1v1h-1zM165 26h1v1h-1zM220 26h1v1h-1zM10 27h1v1h-1zM14 27h1v1h-1zM22 27h1v1h-1zM74 27h1v1h-1zM80 27h1v1h-1zM148 27h1v1h-1zM154 27h1v1h-1zM159 27h1v1h-1zM189 27h1v1h-1zM193 27h1v1h-1zM196 27h1v1h-1zM223 27h1v1h-1zM17 28h1v1h-1zM97 28h1v1h-1zM110 28h1v1h-1zM116 28h1v1h-1zM118 28h1v1h-1zM159 28h2v1h-2zM175 28h1v1h-1zM177 28h1v1h-1zM188 28h1v1h-1zM190 28h1v1h-1zM197 28h1v1h-1zM215 28h1v1h-1zM221 28h2v1h-2zM10 29h1v1h-1zM61 29h1v1h-1zM74 29h1v1h-1zM82 29h1v1h-1zM94 29h1v1h-1zM109 29h1v1h-1zM127 29h1v1h-1zM131 29h1v1h-1zM151 29h1v1h-1zM156 29h2v1h-2zM165 29h1v1h-1zM172 29h2v1h-2zM175 29h1v1h-1zM179 29h2v1h-2zM190 29h1v1h-1zM224 29h1v1h-1zM12 30h1v1h-1zM46 30h1v1h-1zM87 30h1v1h-1zM110 30h1v1h-1zM115 30h1v1h-1zM125 30h1v1h-1zM143 30h1v1h-1zM163 30h1v1h-1zM188 30h1v1h-1zM193 30h2v1h-2zM214 30h1v1h-1zM23 31h1v1h-1zM48 31h1v1h-1zM50 31h1v1h-1zM53 31h1v1h-1zM83 31h1v1h-1zM97 31h1v1h-1zM108 31h1v1h-1zM110 31h1v1h-1zM125 31h1v1h-1zM127 31h1v1h-1zM149 31h1v1h-1zM156 31h1v1h-1zM161 31h1v1h-1zM175 31h1v1h-1zM180 31h1v1h-1zM183 31h1v1h-1zM195 31h1v1h-1zM206 31h1v1h-1zM222 31h1v1h-1zM10 32h1v1h-1zM12 32h1v1h-1zM14 32h1v1h-1zM78 32h1v1h-1zM80 32h1v1h-1zM105 32h1v1h-1zM110 32h1v1h-1zM120 32h1v1h-1zM132 32h1v1h-1zM169 32h1v1h-1zM177 32h1v1h-1zM186 32h1v1h-1zM190 32h1v1h-1zM195 32h1v1h-1zM212 32h1v1h-1zM222 32h1v1h-1zM10 33h1v1h-1zM38 33h1v1h-1zM41 33h1v1h-1zM46 33h1v1h-1zM63 33h1v1h-1zM71 33h1v1h-1zM91 33h1v1h-1zM100 33h1v1h-1zM126 33h1v1h-1zM153 33h1v1h-1zM156 33h2v1h-2zM159 33h1v1h-1zM176 33h1v1h-1zM182 33h1v1h-1zM190 33h1v1h-1zM192 33h1v1h-1zM197 33h1v1h-1zM207 33h1v1h-1zM219 33h1v1h-1zM17 34h1v1h-1zM39 34h1v1h-1zM46 34h1v1h-1zM53 34h1v1h-1zM55 34h1v1h-1zM78 34h1v1h-1zM82 34h2v1h-2zM102 34h1v1h-1zM108 34h1v1h-1zM139 34h1v1h-1zM147 34h1v1h-1zM154 34h1v1h-1zM177 34h1v1h-1zM182 34h1v1h-1zM190 34h1v1h-1zM202 34h1v1h-1zM209 34h1v1h-1zM19 35h1v1h-1zM46 35h1v1h-1zM91 35h1v1h-1zM165 35h1v1h-1zM189 35h1v1h-1zM211 35h1v1h-1zM27 36h1v1h-1zM53 36h1v1h-1zM63 36h1v1h-1zM100 36h1v1h-1zM113 36h1v1h-1zM130 36h1v1h-1zM133 36h2v1h-2zM141 36h1v1h-1zM149 36h1v1h-1zM168 36h1v1h-1zM183 36h1v1h-1zM196 36h1v1h-1zM60 37h1v1h-1zM62 37h2v1h-2zM66 37h1v1h-1zM72 37h1v1h-1zM106 37h1v1h-1zM114 37h1v1h-1zM139 37h1v1h-1zM173 37h1v1h-1zM183 37h1v1h-1zM188 37h1v1h-1zM194 37h1v1h-1zM197 37h1v1h-1zM10 38h1v1h-1zM16 38h1v1h-1zM36 38h1v1h-1zM52 38h2v1h-2zM65 38h2v1h-2zM100 38h1v1h-1zM155 38h1v1h-1zM175 38h1v1h-1zM185 38h1v1h-1zM223 38h1v1h-1zM13 39h1v1h-1zM17 39h1v1h-1zM26 39h1v1h-1zM79 39h1v1h-1zM105 39h1v1h-1zM165 39h1v1h-1zM175 39h1v1h-1zM179 39h1v1h-1zM223 39h1v1h-1zM2 40h1v1h-1zM10 40h1v1h-1zM38 40h1v1h-1zM51 40h1v1h-1zM53 40h1v1h-1zM80 40h1v1h-1zM137 40h1v1h-1zM154 40h1v1h-1zM169 40h1v1h-1zM176 40h1v1h-1zM194 40h1v1h-1zM201 40h1v1h-1zM209 40h1v1h-1zM221 40h1v1h-1zM25 41h1v1h-1zM38 41h1v1h-1zM114 41h1v1h-1zM143 41h1v1h-1zM148 41h1v1h-1zM175 41h1v1h-1zM177 41h1v1h-1zM209 41h1v1h-1zM0 42h1v1h-1zM14 42h1v1h-1zM25 42h1v1h-1zM46 42h1v1h-1zM50 42h1v1h-1zM66 42h1v1h-1zM79 42h1v1h-1zM84 42h1v1h-1zM98 42h1v1h-1zM105 42h1v1h-1zM129 42h2v1h-2zM137 42h1v1h-1zM155 42h1v1h-1zM194 42h1v1h-1zM12 43h1v1h-1zM22 43h1v1h-1zM50 43h1v1h-1zM76 43h1v1h-1zM80 43h1v1h-1zM113 43h2v1h-2zM143 43h1v1h-1zM149 43h1v1h-1zM163 43h1v1h-1zM176 43h1v1h-1zM216 43h1v1h-1zM16 44h1v1h-1zM21 44h1v1h-1zM53 44h1v1h-1zM69 44h1v1h-1zM84 44h1v1h-1zM114 44h1v1h-1zM127 44h1v1h-1zM150 44h1v1h-1zM155 44h1v1h-1zM160 44h2v1h-2zM167 44h1v1h-1zM179 44h1v1h-1zM185 44h1v1h-1zM194 44h1v1h-1zM204 44h1v1h-1zM10 45h1v1h-1zM30 45h1v1h-1zM43 45h2v1h-2zM50 45h1v1h-1zM69 45h1v1h-1zM91 45h1v1h-1zM124 45h1v1h-1zM138 45h1v1h-1zM144 45h1v1h-1zM149 45h1v1h-1zM164 45h1v1h-1zM168 45h1v1h-1zM175 45h1v1h-1zM199 45h1v1h-1zM206 45h1v1h-1zM222 45h2v1h-2zM7 46h1v1h-1zM21 46h1v1h-1zM30 46h1v1h-1zM58 46h1v1h-1zM78 46h1v1h-1zM83 46h1v1h-1zM92 46h1v1h-1zM117 46h1v1h-1zM126 46h1v1h-1zM157 46h1v1h-1zM185 46h1v1h-1zM190 46h1v1h-1zM193 46h1v1h-1zM198 46h1v1h-1zM214 46h1v1h-1zM30 47h2v1h-2zM38 47h1v1h-1zM41 47h1v1h-1zM44 47h1v1h-1zM61 47h1v1h-1zM75 47h1v1h-1zM133 47h1v1h-1zM151 47h1v1h-1zM187 47h1v1h-1zM194 47h1v1h-1zM196 47h1v1h-1zM59 48h2v1h-2zM66 48h1v1h-1zM98 48h1v1h-1zM106 48h1v1h-1zM126 48h1v1h-1zM131 48h1v1h-1zM178 48h1v1h-1zM181 48h1v1h-1zM186 48h1v1h-1zM196 48h1v1h-1zM10 49h1v1h-1zM31 49h1v1h-1zM37 49h1v1h-1zM40 49h2v1h-2zM66 49h1v1h-1zM88 49h1v1h-1zM97 49h1v1h-1zM103 49h1v1h-1zM106 49h1v1h-1zM116 49h2v1h-2zM121 49h1v1h-1zM133 49h1v1h-1zM151 49h1v1h-1zM184 49h1v1h-1zM197 49h1v1h-1zM204 49h1v1h-1zM220 49h1v1h-1z"/>
<path fill="#F2F7FC" d="M7 0h1v1h-1zM13 0h1v1h-1zM49 0h1v1h-1zM53 0h1v1h-1zM58 0h2v1h-2zM61 0h2v1h-2zM100 0h1v1h-1zM116 0h1v1h-1zM131 0h1v1h-1zM133 0h1v1h-1zM151 0h1v1h-1zM160 0h1v1h-1zM173 0h1v1h-1zM185 0h1v1h-1zM203 0h2v1h-2zM222 0h1v1h-1zM224 0h1v1h-1zM0 1h1v1h-1zM48 1h1v1h-1zM73 1h1v1h-1zM94 1h1v1h-1zM112 1h1v1h-1zM138 1h1v1h-1zM140 1h2v1h-2zM163 1h3v1h-3zM169 1h2v1h-2zM178 1h1v1h-1zM185 1h2v1h-2zM193 1h1v1h-1zM211 1h1v1h-1zM15 2h1v1h-1zM18 2h1v1h-1zM23 2h1v1h-1zM32 2h2v1h-2zM74 2h1v1h-1zM107 2h1v1h-1zM113 2h1v1h-1zM121 2h1v1h-1zM125 2h1v1h-1zM142 2h1v1h-1zM154 2h1v1h-1zM164 2h1v1h-1zM167 2h1v1h-1zM172 2h2v1h-2zM187 2h1v1h-1zM191 2h1v1h-1zM196 2h1v1h-1zM202 2h1v1h-1zM213 2h1v1h-1zM3 3h1v1h-1zM9 3h1v1h-1zM30 3h1v1h-1zM32 3h1v1h-1zM52 3h1v1h-1zM54 3h1v1h-1zM63 3h1v1h-1zM67 3h1v1h-1zM180 3h1v1h-1zM183 3h1v1h-1zM198 3h1v1h-1zM206 3h1v1h-1zM215 3h1v1h-1zM222 3h1v1h-1zM12 4h1v1h-1zM26 4h1v1h-1zM35 4h1v1h-1zM64 4h1v1h-1zM70 4h1v1h-1zM72 4h1v1h-1zM80 4h2v1h-2zM102 4h1v1h-1zM108 4h1v1h-1zM112 4h2v1h-2zM116 4h1v1h-1zM118 4h1v1h-1zM123 4h1v1h-1zM132 4h1v1h-1zM136 4h2v1h-2zM141 4h1v1h-1zM151 4h1v1h-1zM154 4h1v1h-1zM189 4h1v1h-1zM215 4h2v1h-2zM11 5h1v1h-1zM35 5h1v1h-1zM58 5h1v1h-1zM67 5h1v1h-1zM77 5h1v1h-1zM93 5h1v1h-1zM109 5h3v1h-3zM127 5h1v1h-1zM133 5h1v1h-1zM136 5h1v1h-1zM148 5h1v1h-1zM158 5h1v1h-1zM160 5h1v1h-1zM189 5h1v1h-1zM197 5h2v1h-2zM220 5h1v1h-1zM44 6h1v1h-1zM47 6h1v1h-1zM63 6h1v1h-1zM82 6h1v1h-1zM89 6h1v1h-1zM108 6h1v1h-1zM110 6h1v1h-1zM120 6h1v1h-1zM134 6h1v1h-1zM141 6h1v1h-1zM149 6h1v1h-1zM160 6h1v1h-1zM163 6h1v1h-1zM165 6h1v1h-1zM204 6h1v1h-1zM8 7h1v1h-1zM23 7h1v1h-1zM28 7h1v1h-1zM33 7h1v1h-1zM65 7h1v1h-1zM83 7h1v1h-1zM87 7h1v1h-1zM89 7h1v1h-1zM108 7h1v1h-1zM110 7h1v1h-1zM112 7h1v1h-1zM122 7h1v1h-1zM130 7h1v1h-1zM209 7h1v1h-1zM1 8h1v1h-1zM20 8h1v1h-1zM25 8h1v1h-1zM33 8h1v1h-1zM49 8h1v1h-1zM86 8h1v1h-1zM14 9h1v1h-1zM75 9h1v1h-1zM86 9h2v1h-2zM104 9h1v1h-1zM113 9h1v1h-1zM8 10h1v1h-1zM31 10h1v1h-1zM62 10h1v1h-1zM81 10h1v1h-1zM104 10h1v1h-1zM108 10h1v1h-1zM145 10h1v1h-1zM171 10h1v1h-1zM179 10h1v1h-1zM182 10h1v1h-1zM204 10h1v1h-1zM20 11h1v1h-1zM26 11h1v1h-1zM34 11h1v1h-1zM36 11h1v1h-1zM76 11h1v1h-1zM82 11h1v1h-1zM91 11h1v1h-1zM125 11h1v1h-1zM139 11h1v1h-1zM152 11h1v1h-1zM170 11h1v1h-1zM173 11h2v1h-2zM194 11h1v1h-1zM209 11h1v1h-1zM21 12h1v1h-1zM41 12h1v1h-1zM62 12h1v1h-1zM75 12h1v1h-1zM88 12h1v1h-1zM97 12h1v1h-1zM101 12h1v1h-1zM163 12h1v1h-1zM188 12h1v1h-1zM193 12h1v1h-1zM197 12h1v1h-1zM32 13h1v1h-1zM46 13h1v1h-1zM61 13h1v1h-1zM77 13h1v1h-1zM91 13h1v1h-1zM103 13h1v1h-1zM108 13h1v1h-1zM114 13h1v1h-1zM123 13h1v1h-1zM127 13h1v1h-1zM143 13h1v1h-1zM155 13h1v1h-1zM180 13h1v1h-1zM197 13h1v1h-1zM201 13h1v1h-1zM209 13h1v1h-1zM14 14h1v1h-1zM24 14h1v1h-1zM56 14h1v1h-1zM60 14h1v1h-1zM68 14h1v1h-1zM72 14h1v1h-1zM102 14h1v1h-1zM106 14h1v1h-1zM114 14h2v1h-2zM126 14h1v1h-1zM144 14h1v1h-1zM148 14h1v1h-1zM157 14h1v1h-1zM165 14h1v1h-1zM174 14h1v1h-1zM181 14h1v1h-1zM188 14h1v1h-1zM24 15h1v1h-1zM32 15h1v1h-1zM60 15h1v1h-1zM63 15h1v1h-1zM73 15h1v1h-1zM76 15h1v1h-1zM97 15h1v1h-1zM101 15h2v1h-2zM104 15h1v1h-1zM119 15h1v1h-1zM125 15h1v1h-1zM145 15h1v1h-1zM158 15h1v1h-1zM166 15h1v1h-1zM169 15h1v1h-1zM173 15h1v1h-1zM177 15h1v1h-1zM181 15h1v1h-1zM195 15h1v1h-1zM197 15h1v1h-1zM202 15h1v1h-1zM24 16h1v1h-1zM29 16h1v1h-1zM60 16h1v1h-1zM62 16h1v1h-1zM72 16h1v1h-1zM106 16h1v1h-1zM129 16h1v1h-1zM136 16h1v1h-1zM155 16h1v1h-1zM200 16h1v1h-1zM206 16h1v1h-1zM14 17h1v1h-1zM29 17h1v1h-1zM31 17h1v1h-1zM41 17h1v1h-1zM49 17h1v1h-1zM55 17h1v1h-1zM72 17h1v1h-1zM76 17h1v1h-1zM114 17h1v1h-1zM154 17h1v1h-1zM180 17h1v1h-1zM209 17h1v1h-1zM4 18h1v1h-1zM7 18h1v1h-1zM17 18h1v1h-1zM36 18h1v1h-1zM60 18h1v1h-1zM86 18h1v1h-1zM98 18h1v1h-1zM116 18h1v1h-1zM155 18h1v1h-1zM163 18h1v1h-1zM221 18h1v1h-1zM14 19h2v1h-2zM28 19h1v1h-1zM131 19h1v1h-1zM141 19h1v1h-1zM161 19h1v1h-1zM181 19h1v1h-1zM194 19h1v1h-1zM199 19h1v1h-1zM204 19h1v1h-1zM219 19h1v1h-1zM6 20h2v1h-2zM14 20h1v1h-1zM19 20h1v1h-1zM31 20h1v1h-1zM61 20h1v1h-1zM82 20h1v1h-1zM96 20h1v1h-1zM98 20h1v1h-1zM120 20h1v1h-1zM132 20h1v1h-1zM144 20h1v1h-1zM163 20h1v1h-1zM191 20h1v1h-1zM12 21h1v1h-1zM22 21h1v1h-1zM42 21h1v1h-1zM61 21h1v1h-1zM124 21h1v1h-1zM132 21h1v1h-1zM143 21h2v1h-2zM176 21h2v1h-2zM179 21h1v1h-1zM191 21h1v1h-1zM204 21h1v1h-1zM22 22h1v1h-1zM86 22h1v1h-1zM106 22h1v1h-1zM118 22h1v1h-1zM123 22h1v1h-1zM127 22h1v1h-1zM129 22h1v1h-1zM139 22h1v1h-1zM143 22h2v1h-2zM147 22h1v1h-1zM175 22h2v1h-2zM180 22h1v1h-1zM191 22h1v1h-1zM194 22h1v1h-1zM197 22h1v1h-1zM199 22h1v1h-1zM206 22h1v1h-1zM212 22h1v1h-1zM220 22h1v1h-1zM5 23h1v1h-1zM16 23h1v1h-1zM31 23h1v1h-1zM85 23h1v1h-1zM129 23h1v1h-1zM139 23h1v1h-1zM162 23h1v1h-1zM181 23h1v1h-1zM191 23h1v1h-1zM207 23h1v1h-1zM223 23h1v1h-1zM16 24h1v1h-1zM31 24h1v1h-1zM76 24h1v1h-1zM80 24h1v1h-1zM85 24h1v1h-1zM88 24h1v1h-1zM124 24h1v1h-1zM136 24h1v1h-1zM147 24h1v1h-1zM153 24h1v1h-1zM160 24h1v1h-1zM164 24h1v1h-1zM194 24h1v1h-1zM207 24h1v1h-1zM209 24h1v1h-1zM211 24h1v1h-1zM220 24h1v1h-1zM14 25h1v1h-1zM31 25h2v1h-2zM60 25h1v1h-1zM85 25h1v1h-1zM98 25h1v1h-1zM116 25h1v1h-1zM125 25h1v1h-1zM129 25h1v1h-1zM133 25h1v1h-1zM135 25h1v1h-1zM147 25h1v1h-1zM151 25h1v1h-1zM175 25h1v1h-1zM180 25h2v1h-2zM188 25h1v1h-1zM194 25h1v1h-1zM197 25h1v1h-1zM199 25h1v1h-1zM19 26h1v1h-1zM30 26h1v1h-1zM34 26h1v1h-1zM59 26h1v1h-1zM74 26h1v1h-1zM84 26h1v1h-1zM118 26h1v1h-1zM123 26h1v1h-1zM129 26h1v1h-1zM156 26h1v1h-1zM181 26h1v1h-1zM187 26h1v1h-1zM193 26h1v1h-1zM207 26h1v1h-1zM212 26h1v1h-1zM219 26h1v1h-1zM4 27h1v1h-1zM12 27h2v1h-2zM106 27h1v1h-1zM111 27h1v1h-1zM113 27h1v1h-1zM130 27h1v1h-1zM134 27h1v1h-1zM139 27h1v1h-1zM143 27h1v1h-1zM156 27h2v1h-2zM165 27h1v1h-1zM172 27h1v1h-1zM178 27h1v1h-1zM186 27h1v1h-1zM188 27h1v1h-1zM197 27h1v1h-1zM12 28h1v1h-1zM19 28h1v1h-1zM34 28h1v1h-1zM39 28h1v1h-1zM41 28h1v1h-1zM67 28h1v1h-1zM74 28h1v1h-1zM108 28h1v1h-1zM134 28h1v1h-1zM141 28h1v1h-1zM147 28h1v1h-1zM155 28h1v1h-1zM172 28h1v1h-1zM12 29h1v1h-1zM33 29h1v1h-1zM40 29h1v1h-1zM53 29h1v1h-1zM56 29h1v1h-1zM58 29h1v1h-1zM68 29h1v1h-1zM78 29h1v1h-1zM88 29h1v1h-1zM93 29h1v1h-1zM98 29h1v1h-1zM102 29h1v1h-1zM123 29h1v1h-1zM139 29h1v1h-1zM143 29h1v1h-1zM159 29h1v1h-1zM176 29h2v1h-2zM183 29h1v1h-1zM194 29h1v1h-1zM197 29h1v1h-1zM202 29h1v1h-1zM223 29h1v1h-1zM65 30h1v1h-1zM74 30h1v1h-1zM83 30h1v1h-1zM95 30h1v1h-1zM111 30h1v1h-1zM114 30h1v1h-1zM128 30h1v1h-1zM148 30h1v1h-1zM153 30h1v1h-1zM176 30h1v1h-1zM178 30h1v1h-1zM192 30h1v1h-1zM199 30h1v1h-1zM202 30h1v1h-1zM223 30h1v1h-1zM20 31h1v1h-1zM28 31h1v1h-1zM38 31h1v1h-1zM63 31h1v1h-1zM68 31h1v1h-1zM91 31h1v1h-1zM100 31h1v1h-1zM120 31h1v1h-1zM139 31h1v1h-1zM171 31h2v1h-2zM209 31h1v1h-1zM215 31h1v1h-1zM19 32h1v1h-1zM49 32h2v1h-2zM74 32h1v1h-1zM82 32h1v1h-1zM98 32h1v1h-1zM111 32h1v1h-1zM113 32h1v1h-1zM143 32h1v1h-1zM154 32h1v1h-1zM156 32h1v1h-1zM209 32h1v1h-1zM12 33h1v1h-1zM27 33h1v1h-1zM50 33h1v1h-1zM53 33h1v1h-1zM68 33h1v1h-1zM85 33h1v1h-1zM88 33h1v1h-1zM97 33h1v1h-1zM108 33h1v1h-1zM139 33h1v1h-1zM165 33h1v1h-1zM168 33h1v1h-1zM173 33h1v1h-1zM193 33h1v1h-1zM33 34h1v1h-1zM49 34h1v1h-1zM73 34h1v1h-1zM87 34h1v1h-1zM104 34h2v1h-2zM113 34h1v1h-1zM116 34h1v1h-1zM120 34h1v1h-1zM152 34h1v1h-1zM156 34h1v1h-1zM160 34h1v1h-1zM212 34h1v1h-1zM219 34h1v1h-1zM223 34h1v1h-1zM38 35h1v1h-1zM41 35h1v1h-1zM71 35h1v1h-1zM83 35h1v1h-1zM127 35h1v1h-1zM134 35h1v1h-1zM139 35h1v1h-1zM168 35h1v1h-1zM180 35h1v1h-1zM190 35h1v1h-1zM4 36h1v1h-1zM10 36h1v1h-1zM33 36h1v1h-1zM43 36h1v1h-1zM80 36h1v1h-1zM82 36h1v1h-1zM88 36h1v1h-1zM95 36h1v1h-1zM116 36h2v1h-2zM119 36h1v1h-1zM132 36h1v1h-1zM139 36h1v1h-1zM165 36h1v1h-1zM173 36h1v1h-1zM195 36h1v1h-1zM209 36h1v1h-1zM213 36h1v1h-1zM86 37h1v1h-1zM125 37h1v1h-1zM128 37h1v1h-1zM130 37h1v1h-1zM136 37h1v1h-1zM181 37h1v1h-1zM209 37h1v1h-1zM25 38h1v1h-1zM31 38h1v1h-1zM43 38h1v1h-1zM69 38h1v1h-1zM91 38h1v1h-1zM94 38h1v1h-1zM113 38h1v1h-1zM121 38h1v1h-1zM127 38h1v1h-1zM137 38h1v1h-1zM147 38h1v1h-1zM154 38h1v1h-1zM161 38h1v1h-1zM181 38h1v1h-1zM216 38h1v1h-1zM21 39h1v1h-1zM25 39h1v1h-1zM35 39h1v1h-1zM48 39h1v1h-1zM65 39h1v1h-1zM69 39h1v1h-1zM80 39h1v1h-1zM113 39h1v1h-1zM126 39h1v1h-1zM151 39h1v1h-1zM177 39h1v1h-1zM194 39h1v1h-1zM21 40h2v1h-2zM63 40h1v1h-1zM70 40h1v1h-1zM76 40h1v1h-1zM79 40h1v1h-1zM98 40h1v1h-1zM116 40h1v1h-1zM122 40h1v1h-1zM143 40h1v1h-1zM151 40h1v1h-1zM4 41h1v1h-1zM53 41h1v1h-1zM75 41h1v1h-1zM77 41h1v1h-1zM86 41h1v1h-1zM92 41h2v1h-2zM115 41h2v1h-2zM120 41h1v1h-1zM130 41h1v1h-1zM161 41h1v1h-1zM176 41h1v1h-1zM181 41h1v1h-1zM202 41h1v1h-1zM13 42h1v1h-1zM31 42h1v1h-1zM36 42h1v1h-1zM56 42h1v1h-1zM58 42h1v1h-1zM88 42h1v1h-1zM100 42h1v1h-1zM112 42h1v1h-1zM122 42h1v1h-1zM125 42h1v1h-1zM136 42h1v1h-1zM143 42h1v1h-1zM148 42h1v1h-1zM161 42h1v1h-1zM183 42h1v1h-1zM202 42h1v1h-1zM205 42h1v1h-1zM216 42h1v1h-1zM112 43h1v1h-1zM139 43h1v1h-1zM150 43h1v1h-1zM171 43h1v1h-1zM192 43h1v1h-1zM35 44h1v1h-1zM40 44h1v1h-1zM62 44h1v1h-1zM72 44h1v1h-1zM94 44h1v1h-1zM96 44h1v1h-1zM115 44h1v1h-1zM122 44h1v1h-1zM181 44h1v1h-1zM5 45h1v1h-1zM26 45h1v1h-1zM34 45h2v1h-2zM42 45h1v1h-1zM52 45h1v1h-1zM68 45h1v1h-1zM74 45h2v1h-2zM78 45h1v1h-1zM82 45h1v1h-1zM86 45h1v1h-1zM88 45h1v1h-1zM92 45h1v1h-1zM96 45h1v1h-1zM107 45h1v1h-1zM125 45h1v1h-1zM133 45h1v1h-1zM151 45h1v1h-1zM157 45h1v1h-1zM163 45h1v1h-1zM193 45h1v1h-1zM201 45h1v1h-1zM214 45h1v1h-1zM23 46h1v1h-1zM37 46h1v1h-1zM46 46h1v1h-1zM50 46h1v1h-1zM70 46h1v1h-1zM116 46h1v1h-1zM127 46h1v1h-1zM140 46h1v1h-1zM172 46h2v1h-2zM178 46h1v1h-1zM183 46h2v1h-2zM201 46h1v1h-1zM208 46h1v1h-1zM2 47h1v1h-1zM37 47h1v1h-1zM39 47h2v1h-2zM46 47h1v1h-1zM53 47h1v1h-1zM59 47h1v1h-1zM65 47h1v1h-1zM68 47h2v1h-2zM74 47h1v1h-1zM77 47h1v1h-1zM115 47h1v1h-1zM154 47h1v1h-1zM170 47h1v1h-1zM172 47h1v1h-1zM224 47h1v1h-1zM29 48h1v1h-1zM31 48h1v1h-1zM45 48h1v1h-1zM77 48h1v1h-1zM83 48h1v1h-1zM95 48h1v1h-1zM102 48h2v1h-2zM110 48h1v1h-1zM115 48h2v1h-2zM122 48h1v1h-1zM133 48h1v1h-1zM140 48h1v1h-1zM144 48h1v1h-1zM157 48h1v1h-1zM177 48h1v1h-1zM187 48h1v1h-1zM197 48h1v1h-1zM203 48h1v1h-1zM207 48h1v1h-1zM6 49h1v1h-1zM26 49h1v1h-1zM33 49h1v1h-1zM69 49h1v1h-1zM71 49h2v1h-2zM86 49h1v1h-1zM122 49h1v1h-1zM154 49h1v1h-1zM162 49h1v1h-1zM167 49h1v1h-1zM170 49h2v1h-2zM214 49h1v1h-1z"/>
<path fill="#FFF4F2" d="M22 0h1v1h-1zM60 0h1v1h-1zM73 0h1v1h-1zM106 0h2v1h-2zM122 0h1v1h-1zM124 0h1v1h-1zM129 0h1v1h-1zM138 0h1v1h-1zM142 0h1v1h-1zM148 0h1v1h-1zM152 0h2v1h-2zM165 0h1v1h-1zM190 0h1v1h-1zM196 0h1v1h-1zM206 0h1v1h-1zM211 0h1v1h-1zM214 0h1v1h-1zM223 0h1v1h-1zM10 1h1v1h-1zM12 1h1v1h-1zM14 1h1v1h-1zM38 1h1v1h-1zM52 1h1v1h-1zM80 1h2v1h-2zM90 1h1v1h-1zM93 1h1v1h-1zM97 1h1v1h-1zM106 1h3v1h-3zM113 1h1v1h-1zM124 1h1v1h-1zM126 1h2v1h-2zM129 1h1v1h-1zM144 1h1v1h-1zM191 1h1v1h-1zM11 2h1v1h-1zM30 2h1v1h-1zM55 2h1v1h-1zM62 2h1v1h-1zM92 2h1v1h-1zM110 2h1v1h-1zM145 2h1v1h-1zM155 2h1v1h-1zM161 2h1v1h-1zM168 2h1v1h-1zM182 2h1v1h-1zM188 2h1v1h-1zM193 2h1v1h-1zM205 2h1v1h-1zM208 2h1v1h-1zM8 3h1v1h-1zM11 3h1v1h-1zM70 3h1v1h-1zM73 3h2v1h-2zM97 3h1v1h-1zM105 3h1v1h-1zM131 3h1v1h-1zM133 3h1v1h-1zM142 3h1v1h-1zM148 3h2v1h-2zM158 3h1v1h-1zM173 3h1v1h-1zM176 3h1v1h-1zM187 3h1v1h-1zM191 3h1v1h-1zM208 3h1v1h-1zM210 3h1v1h-1zM220 3h1v1h-1zM4 4h1v1h-1zM8 4h1v1h-1zM63 4h1v1h-1zM71 4h1v1h-1zM73 4h3v1h-3zM90 4h1v1h-1zM106 4h1v1h-1zM130 4h1v1h-1zM145 4h1v1h-1zM171 4h1v1h-1zM205 4h1v1h-1zM209 4h1v1h-1zM221 4h1v1h-1zM4 5h1v1h-1zM6 5h1v1h-1zM8 5h1v1h-1zM22 5h1v1h-1zM33 5h1v1h-1zM59 5h1v1h-1zM86 5h1v1h-1zM114 5h1v1h-1zM116 5h1v1h-1zM120 5h1v1h-1zM134 5h1v1h-1zM140 5h1v1h-1zM167 5h1v1h-1zM170 5h2v1h-2zM178 5h1v1h-1zM206 5h1v1h-1zM208 5h1v1h-1zM211 5h1v1h-1zM221 5h1v1h-1zM1 6h1v1h-1zM3 6h1v1h-1zM14 6h1v1h-1zM20 6h1v1h-1zM46 6h1v1h-1zM81 6h1v1h-1zM105 6h1v1h-1zM111 6h1v1h-1zM114 6h1v1h-1zM118 6h1v1h-1zM121 6h1v1h-1zM128 6h1v1h-1zM139 6h1v1h-1zM176 6h1v1h-1zM194 6h1v1h-1zM220 6h1v1h-1zM16 7h1v1h-1zM49 7h1v1h-1zM68 7h1v1h-1zM92 7h1v1h-1zM97 7h1v1h-1zM100 7h1v1h-1zM107 7h1v1h-1zM109 7h1v1h-1zM117 7h1v1h-1zM120 7h1v1h-1zM125 7h1v1h-1zM127 7h1v1h-1zM129 7h1v1h-1zM132 7h1v1h-1zM139 7h1v1h-1zM149 7h1v1h-1zM157 7h1v1h-1zM159 7h1v1h-1zM166 7h1v1h-1zM223 7h2v1h-2zM23 8h1v1h-1zM68 8h1v1h-1zM91 8h1v1h-1zM108 8h2v1h-2zM112 8h1v1h-1zM115 8h1v1h-1zM117 8h2v1h-2zM127 8h1v1h-1zM129 8h1v1h-1zM142 8h1v1h-1zM145 8h1v1h-1zM154 8h1v1h-1zM164 8h1v1h-1zM191 8h1v1h-1zM194 8h1v1h-1zM223 8h1v1h-1zM6 9h1v1h-1zM16 9h1v1h-1zM20 9h1v1h-1zM31 9h1v1h-1zM33 9h1v1h-1zM47 9h1v1h-1zM49 9h1v1h-1zM53 9h1v1h-1zM68 9h1v1h-1zM78 9h2v1h-2zM89 9h1v1h-1zM92 9h1v1h-1zM110 9h1v1h-1zM114 9h1v1h-1zM122 9h1v1h-1zM128 9h1v1h-1zM130 9h1v1h-1zM134 9h1v1h-1zM138 9h1v1h-1zM141 9h1v1h-1zM151 9h1v1h-1zM169 9h1v1h-1zM178 9h1v1h-1zM206 9h2v1h-2zM224 9h1v1h-1zM23 10h1v1h-1zM36 10h1v1h-1zM52 10h1v1h-1zM75 10h1v1h-1zM78 10h1v1h-1zM110 10h1v1h-1zM117 10h1v1h-1zM129 10h1v1h-1zM142 10h1v1h-1zM159 10h1v1h-1zM168 10h1v1h-1zM175 10h1v1h-1zM207 10h1v1h-1zM214 10h1v1h-1zM224 10h1v1h-1zM55 11h1v1h-1zM60 11h1v1h-1zM62 11h1v1h-1zM67 11h1v1h-1zM73 11h1v1h-1zM79 11h1v1h-1zM102 11h1v1h-1zM106 11h1v1h-1zM110 11h1v1h-1zM126 11h1v1h-1zM129 11h2v1h-2zM137 11h1v1h-1zM158 11h1v1h-1zM188 11h1v1h-1zM198 11h1v1h-1zM27 12h1v1h-1zM43 12h1v1h-1zM72 12h1v1h-1zM85 12h1v1h-1zM91 12h1v1h-1zM99 12h1v1h-1zM103 12h1v1h-1zM112 12h1v1h-1zM134 12h1v1h-1zM158 12h1v1h-1zM174 12h1v1h-1zM194 12h1v1h-1zM14 13h1v1h-1zM21 13h2v1h-2zM29 13h1v1h-1zM52 13h1v1h-1zM60 13h1v1h-1zM69 13h1v1h-1zM81 13h2v1h-2zM129 13h1v1h-1zM132 13h1v1h-1zM137 13h1v1h-1zM145 13h1v1h-1zM20 14h1v1h-1zM22 14h1v1h-1zM31 14h1v1h-1zM44 14h2v1h-2zM64 14h1v1h-1zM73 14h1v1h-1zM79 14h1v1h-1zM83 14h1v1h-1zM88 14h1v1h-1zM91 14h1v1h-1zM98 14h1v1h-1zM104 14h1v1h-1zM108 14h1v1h-1zM110 14h1v1h-1zM118 14h1v1h-1zM139 14h1v1h-1zM162 14h1v1h-1zM170 14h1v1h-1zM180 14h1v1h-1zM182 14h1v1h-1zM192 14h1v1h-1zM216 14h1v1h-1zM21 15h1v1h-1zM26 15h1v1h-1zM34 15h1v1h-1zM50 15h1v1h-1zM62 15h1v1h-1zM85 15h2v1h-2zM88 15h2v1h-2zM94 15h1v1h-1zM114 15h1v1h-1zM132 15h1v1h-1zM134 15h1v1h-1zM136 15h1v1h-1zM143 15h1v1h-1zM148 15h1v1h-1zM152 15h1v1h-1zM170 15h1v1h-1zM179 15h2v1h-2zM182 15h1v1h-1zM224 15h1v1h-1zM41 16h1v1h-1zM50 16h1v1h-1zM68 16h1v1h-1zM70 16h1v1h-1zM81 16h1v1h-1zM101 16h1v1h-1zM113 16h1v1h-1zM126 16h1v1h-1zM130 16h1v1h-1zM143 16h1v1h-1zM145 16h1v1h-1zM157 16h1v1h-1zM163 16h1v1h-1zM196 16h1v1h-1zM86 17h1v1h-1zM108 17h1v1h-1zM130 17h1v1h-1zM145 17h1v1h-1zM148 17h1v1h-1zM167 17h1v1h-1zM206 17h1v1h-1zM25 18h1v1h-1zM50 18h1v1h-1zM68 18h1v1h-1zM85 18h1v1h-1zM87 18h1v1h-1zM91 18h1v1h-1zM102 18h1v1h-1zM119 18h1v1h-1zM123 18h1v1h-1zM129 18h1v1h-1zM138 18h1v1h-1zM142 18h1v1h-1zM159 18h2v1h-2zM162 18h1v1h-1zM183 18h1v1h-1zM205 18h1v1h-1zM6 19h1v1h-1zM12 19h1v1h-1zM19 19h1v1h-1zM22 19h1v1h-1zM86 19h1v1h-1zM112 19h1v1h-1zM127 19h1v1h-1zM132 19h1v1h-1zM156 19h1v1h-1zM183 19h1v1h-1zM193 19h1v1h-1zM195 19h1v1h-1zM220 19h1v1h-1zM49 20h1v1h-1zM63 20h1v1h-1zM83 20h2v1h-2zM88 20h1v1h-1zM106 20h1v1h-1zM126 20h1v1h-1zM129 20h1v1h-1zM136 20h1v1h-1zM140 20h1v1h-1zM153 20h1v1h-1zM160 20h1v1h-1zM28 21h1v1h-1zM59 21h1v1h-1zM62 21h1v1h-1zM70 21h1v1h-1zM84 21h1v1h-1zM86 21h1v1h-1zM94 21h1v1h-1zM120 21h1v1h-1zM126 21h1v1h-1zM153 21h1v1h-1zM181 21h1v1h-1zM188 21h1v1h-1zM199 21h1v1h-1zM212 21h1v1h-1zM14 22h1v1h-1zM34 22h1v1h-1zM49 22h1v1h-1zM59 22h1v1h-1zM62 22h1v1h-1zM76 22h1v1h-1zM85 22h1v1h-1zM183 22h1v1h-1zM209 22h1v1h-1zM57 23h1v1h-1zM63 23h2v1h-2zM94 23h1v1h-1zM132 23h1v1h-1zM134 23h1v1h-1zM155 23h1v1h-1zM160 23h1v1h-1zM189 23h1v1h-1zM20 24h1v1h-1zM22 24h1v1h-1zM30 24h1v1h-1zM34 24h1v1h-1zM43 24h1v1h-1zM58 24h1v1h-1zM61 24h1v1h-1zM73 24h1v1h-1zM110 24h1v1h-1zM127 24h1v1h-1zM132 24h1v1h-1zM177 24h1v1h-1zM191 24h1v1h-1zM193 24h1v1h-1zM6 25h1v1h-1zM49 25h1v1h-1zM62 25h1v1h-1zM64 25h1v1h-1zM76 25h1v1h-1zM120 25h1v1h-1zM123 25h1v1h-1zM177 25h2v1h-2zM189 25h1v1h-1zM205 25h1v1h-1zM219 25h1v1h-1zM223 25h1v1h-1zM15 26h1v1h-1zM76 26h1v1h-1zM86 26h1v1h-1zM93 26h1v1h-1zM126 26h2v1h-2zM140 26h1v1h-1zM147 26h1v1h-1zM173 26h1v1h-1zM177 26h1v1h-1zM28 27h1v1h-1zM48 27h1v1h-1zM63 27h1v1h-1zM71 27h1v1h-1zM94 27h1v1h-1zM100 27h1v1h-1zM110 27h1v1h-1zM125 27h1v1h-1zM127 27h1v1h-1zM129 27h1v1h-1zM132 27h1v1h-1zM151 27h1v1h-1zM153 27h1v1h-1zM179 27h1v1h-1zM187 27h1v1h-1zM190 27h1v1h-1zM195 27h1v1h-1zM202 27h1v1h-1zM206 27h2v1h-2zM7 28h1v1h-1zM38 28h1v1h-1zM40 28h1v1h-1zM43 28h1v1h-1zM49 28h1v1h-1zM68 28h1v1h-1zM71 28h1v1h-1zM82 28h1v1h-1zM88 28h1v1h-1zM91 28h1v1h-1zM94 28h2v1h-2zM100 28h1v1h-1zM127 28h1v1h-1zM139 28h1v1h-1zM148 28h1v1h-1zM151 28h1v1h-1zM156 28h1v1h-1zM161 28h1v1h-1zM173 28h1v1h-1zM180 28h1v1h-1zM195 28h1v1h-1zM34 29h1v1h-1zM71 29h1v1h-1zM118 29h1v1h-1zM137 29h2v1h-2zM149 29h1v1h-1zM171 29h1v1h-1zM186 29h1v1h-1zM188 29h1v1h-1zM192 29h2v1h-2zM219 29h1v1h-1zM222 29h1v1h-1zM58 30h1v1h-1zM73 30h1v1h-1zM75 30h1v1h-1zM88 30h1v1h-1zM97 30h1v1h-1zM100 30h1v1h-1zM102 30h1v1h-1zM118 30h1v1h-1zM129 30h2v1h-2zM134 30h1v1h-1zM138 30h1v1h-1zM149 30h1v1h-1zM155 30h1v1h-1zM171 30h1v1h-1zM182 30h1v1h-1zM196 30h1v1h-1zM204 30h1v1h-1zM33 31h1v1h-1zM45 31h1v1h-1zM74 31h1v1h-1zM98 31h1v1h-1zM102 31h1v1h-1zM106 31h1v1h-1zM113 31h1v1h-1zM122 31h1v1h-1zM132 31h1v1h-1zM134 31h1v1h-1zM143 31h1v1h-1zM157 31h1v1h-1zM159 31h1v1h-1zM190 31h1v1h-1zM27 32h1v1h-1zM91 32h1v1h-1zM94 32h1v1h-1zM106 32h1v1h-1zM125 32h1v1h-1zM130 32h1v1h-1zM137 32h1v1h-1zM141 32h1v1h-1zM148 32h1v1h-1zM19 33h1v1h-1zM34 33h1v1h-1zM39 33h2v1h-2zM120 33h1v1h-1zM132 33h2v1h-2zM141 33h1v1h-1zM143 33h1v1h-1zM149 33h1v1h-1zM161 33h1v1h-1zM177 33h1v1h-1zM188 33h1v1h-1zM194 33h1v1h-1zM212 33h1v1h-1zM41 34h1v1h-1zM58 34h1v1h-1zM74 34h1v1h-1zM79 34h1v1h-1zM85 34h1v1h-1zM95 34h1v1h-1zM115 34h1v1h-1zM122 34h1v1h-1zM132 34h1v1h-1zM134 34h1v1h-1zM161 34h1v1h-1zM175 34h1v1h-1zM179 34h2v1h-2zM17 35h1v1h-1zM22 35h1v1h-1zM27 35h1v1h-1zM40 35h1v1h-1zM43 35h1v1h-1zM61 35h1v1h-1zM73 35h1v1h-1zM97 35h1v1h-1zM102 35h1v1h-1zM113 35h1v1h-1zM125 35h1v1h-1zM137 35h1v1h-1zM141 35h1v1h-1zM148 35h1v1h-1zM173 35h1v1h-1zM196 35h1v1h-1zM207 35h1v1h-1zM17 36h1v1h-1zM38 36h1v1h-1zM40 36h1v1h-1zM42 36h1v1h-1zM48 36h2v1h-2zM70 36h1v1h-1zM98 36h1v1h-1zM151 36h1v1h-1zM178 36h1v1h-1zM212 36h1v1h-1zM161 37h1v1h-1zM176 37h1v1h-1zM221 37h1v1h-1zM13 38h2v1h-2zM21 38h1v1h-1zM30 38h1v1h-1zM40 38h2v1h-2zM51 38h1v1h-1zM60 38h1v1h-1zM63 38h1v1h-1zM70 38h1v1h-1zM75 38h1v1h-1zM82 38h1v1h-1zM96 38h1v1h-1zM106 38h1v1h-1zM151 38h1v1h-1zM163 38h1v1h-1zM186 38h1v1h-1zM189 38h1v1h-1zM217 38h1v1h-1zM33 39h1v1h-1zM70 39h1v1h-1zM96 39h1v1h-1zM112 39h1v1h-1zM123 39h1v1h-1zM127 39h2v1h-2zM139 39h1v1h-1zM188 39h1v1h-1zM13 40h1v1h-1zM26 40h1v1h-1zM36 40h1v1h-1zM40 40h1v1h-1zM42 40h1v1h-1zM56 40h1v1h-1zM62 40h1v1h-1zM69 40h1v1h-1zM101 40h1v1h-1zM114 40h1v1h-1zM128 40h1v1h-1zM160 40h1v1h-1zM204 40h1v1h-1zM216 40h1v1h-1zM14 41h1v1h-1zM21 41h1v1h-1zM40 41h1v1h-1zM48 41h1v1h-1zM56 41h1v1h-1zM60 41h1v1h-1zM63 41h1v1h-1zM70 41h1v1h-1zM82 41h1v1h-1zM89 41h1v1h-1zM99 41h1v1h-1zM128 41h1v1h-1zM137 41h1v1h-1zM154 41h1v1h-1zM167 41h1v1h-1zM169 41h1v1h-1zM186 41h1v1h-1zM188 41h1v1h-1zM204 41h1v1h-1zM221 41h1v1h-1zM17 42h1v1h-1zM48 42h1v1h-1zM61 42h2v1h-2zM65 42h1v1h-1zM94 42h1v1h-1zM123 42h1v1h-1zM131 42h1v1h-1zM141 42h1v1h-1zM151 42h1v1h-1zM160 42h1v1h-1zM163 42h1v1h-1zM170 42h1v1h-1zM186 42h1v1h-1zM221 42h1v1h-1zM5 43h1v1h-1zM17 43h1v1h-1zM26 43h1v1h-1zM31 43h1v1h-1zM43 43h1v1h-1zM74 43h2v1h-2zM96 43h1v1h-1zM105 43h1v1h-1zM108 43h1v1h-1zM116 43h1v1h-1zM118 43h1v1h-1zM128 43h1v1h-1zM137 43h1v1h-1zM144 43h1v1h-1zM147 43h1v1h-1zM177 43h1v1h-1zM181 43h1v1h-1zM183 43h1v1h-1zM186 43h1v1h-1zM193 43h1v1h-1zM217 43h1v1h-1zM221 43h1v1h-1zM79 44h1v1h-1zM83 44h1v1h-1zM108 44h1v1h-1zM136 44h1v1h-1zM139 44h1v1h-1zM205 44h1v1h-1zM7 45h1v1h-1zM13 45h1v1h-1zM23 45h1v1h-1zM38 45h1v1h-1zM48 45h2v1h-2zM62 45h2v1h-2zM81 45h1v1h-1zM90 45h1v1h-1zM98 45h1v1h-1zM129 45h1v1h-1zM136 45h1v1h-1zM176 45h1v1h-1zM179 45h1v1h-1zM190 45h1v1h-1zM195 45h1v1h-1zM31 46h1v1h-1zM40 46h1v1h-1zM52 46h1v1h-1zM66 46h1v1h-1zM71 46h1v1h-1zM96 46h2v1h-2zM100 46h1v1h-1zM108 46h1v1h-1zM118 46h1v1h-1zM128 46h1v1h-1zM135 46h1v1h-1zM139 46h1v1h-1zM187 46h1v1h-1zM218 46h1v1h-1zM12 47h1v1h-1zM36 47h1v1h-1zM42 47h1v1h-1zM72 47h1v1h-1zM84 47h1v1h-1zM95 47h1v1h-1zM101 47h1v1h-1zM109 47h1v1h-1zM117 47h1v1h-1zM149 47h1v1h-1zM152 47h1v1h-1zM157 47h2v1h-2zM160 47h2v1h-2zM175 47h1v1h-1zM205 47h1v1h-1zM208 47h1v1h-1zM11 48h1v1h-1zM43 48h1v1h-1zM46 48h1v1h-1zM63 48h1v1h-1zM70 48h2v1h-2zM80 48h1v1h-1zM92 48h1v1h-1zM124 48h1v1h-1zM128 48h1v1h-1zM150 48h1v1h-1zM172 48h1v1h-1zM174 48h1v1h-1zM205 48h1v1h-1zM218 48h1v1h-1zM44 49h1v1h-1zM64 49h1v1h-1zM67 49h1v1h-1zM70 49h1v1h-1zM95 49h1v1h-1zM100 49h1v1h-1zM109 49h1v1h-1zM111 49h1v1h-1zM126 49h1v1h-1zM168 49h1v1h-1zM173 49h1v1h-1zM175 49h1v1h-1zM186 49h1v1h-1zM191 49h1v1h-1zM207 49h1v1h-1z"/>
<path fill="#FFE1DB" d="M1 0h1v1h-1zM3 0h2v1h-2zM14 0h1v1h-1zM21 0h1v1h-1zM69 0h1v1h-1zM85 0h2v1h-2zM99 0h1v1h-1zM114 0h2v1h-2zM118 0h1v1h-1zM135 0h2v1h-2zM164 0h1v1h-1zM169 0h1v1h-1zM172 0h1v1h-1zM174 0h1v1h-1zM184 0h1v1h-1zM218 0h1v1h-1zM46 1h2v1h-2zM62 1h1v1h-1zM75 1h1v1h-1zM77 1h2v1h-2zM88 1h1v1h-1zM91 1h1v1h-1zM105 1h1v1h-1zM110 1h2v1h-2zM116 1h1v1h-1zM128 1h1v1h-1zM137 1h1v1h-1zM142 1h1v1h-1zM153 1h1v1h-1zM166 1h1v1h-1zM190 1h1v1h-1zM194 1h1v1h-1zM196 1h1v1h-1zM208 1h1v1h-1zM212 1h1v1h-1zM217 1h1v1h-1zM16 2h1v1h-1zM22 2h1v1h-1zM38 2h1v1h-1zM46 2h1v1h-1zM49 2h1v1h-1zM71 2h1v1h-1zM83 2h1v1h-1zM90 2h1v1h-1zM109 2h1v1h-1zM116 2h1v1h-1zM118 2h1v1h-1zM126 2h1v1h-1zM129 2h1v1h-1zM138 2h1v1h-1zM144 2h1v1h-1zM147 2h1v1h-1zM150 2h1v1h-1zM157 2h1v1h-1zM171 2h1v1h-1zM176 2h1v1h-1zM197 2h1v1h-1zM209 2h1v1h-1zM211 2h1v1h-1zM214 2h1v1h-1zM7 3h1v1h-1zM34 3h1v1h-1zM37 3h2v1h-2zM65 3h1v1h-1zM86 3h1v1h-1zM89 3h1v1h-1zM99 3h1v1h-1zM112 3h1v1h-1zM117 3h1v1h-1zM128 3h1v1h-1zM134 3h1v1h-1zM151 3h1v1h-1zM171 3h1v1h-1zM184 3h1v1h-1zM204 3h1v1h-1zM11 4h1v1h-1zM19 4h1v1h-1zM37 4h1v1h-1zM40 4h1v1h-1zM43 4h1v1h-1zM60 4h1v1h-1zM66 4h1v1h-1zM87 4h1v1h-1zM92 4h1v1h-1zM99 4h1v1h-1zM121 4h2v1h-2zM199 4h2v1h-2zM9 5h1v1h-1zM29 5h1v1h-1zM65 5h1v1h-1zM68 5h1v1h-1zM108 5h1v1h-1zM130 5h1v1h-1zM142 5h1v1h-1zM145 5h1v1h-1zM151 5h1v1h-1zM163 5h1v1h-1zM166 5h1v1h-1zM209 5h1v1h-1zM9 6h1v1h-1zM23 6h1v1h-1zM25 6h1v1h-1zM59 6h1v1h-1zM70 6h1v1h-1zM72 6h1v1h-1zM98 6h1v1h-1zM116 6h1v1h-1zM130 6h1v1h-1zM138 6h1v1h-1zM169 6h1v1h-1zM171 6h1v1h-1zM189 6h1v1h-1zM3 7h1v1h-1zM14 7h1v1h-1zM29 7h1v1h-1zM39 7h1v1h-1zM43 7h1v1h-1zM54 7h1v1h-1zM81 7h1v1h-1zM114 7h1v1h-1zM119 7h1v1h-1zM134 7h1v1h-1zM156 7h1v1h-1zM182 7h1v1h-1zM207 7h1v1h-1zM220 7h1v1h-1zM3 8h1v1h-1zM31 8h1v1h-1zM38 8h2v1h-2zM41 8h1v1h-1zM50 8h1v1h-1zM58 8h1v1h-1zM63 8h1v1h-1zM89 8h1v1h-1zM92 8h1v1h-1zM113 8h1v1h-1zM120 8h1v1h-1zM122 8h1v1h-1zM131 8h1v1h-1zM141 8h1v1h-1zM156 8h1v1h-1zM176 8h1v1h-1zM207 8h1v1h-1zM220 8h1v1h-1zM28 9h1v1h-1zM46 9h1v1h-1zM52 9h1v1h-1zM55 9h1v1h-1zM72 9h2v1h-2zM81 9h1v1h-1zM120 9h2v1h-2zM148 9h1v1h-1zM159 9h2v1h-2zM168 9h1v1h-1zM180 9h1v1h-1zM189 9h1v1h-1zM215 9h1v1h-1zM2 10h1v1h-1zM33 10h1v1h-1zM47 10h1v1h-1zM70 10h1v1h-1zM79 10h1v1h-1zM102 10h1v1h-1zM111 10h1v1h-1zM116 10h1v1h-1zM120 10h1v1h-1zM134 10h1v1h-1zM154 10h1v1h-1zM161 10h1v1h-1zM166 10h1v1h-1zM187 10h1v1h-1zM189 10h1v1h-1zM27 11h1v1h-1zM46 11h1v1h-1zM48 11h1v1h-1zM94 11h1v1h-1zM98 11h1v1h-1zM115 11h2v1h-2zM119 11h1v1h-1zM132 11h1v1h-1zM144 11h2v1h-2zM160 11h1v1h-1zM177 11h1v1h-1zM195 11h1v1h-1zM197 11h1v1h-1zM202 11h1v1h-1zM224 11h1v1h-1zM29 12h1v1h-1zM36 12h1v1h-1zM39 12h1v1h-1zM76 12h2v1h-2zM108 12h1v1h-1zM113 12h2v1h-2zM125 12h1v1h-1zM129 12h1v1h-1zM137 12h1v1h-1zM141 12h1v1h-1zM145 12h1v1h-1zM165 12h1v1h-1zM219 12h1v1h-1zM49 13h1v1h-1zM70 13h1v1h-1zM88 13h1v1h-1zM109 13h1v1h-1zM126 13h1v1h-1zM139 13h1v1h-1zM152 13h1v1h-1zM164 13h1v1h-1zM169 13h1v1h-1zM173 13h1v1h-1zM177 13h1v1h-1zM187 13h1v1h-1zM195 13h1v1h-1zM198 13h1v1h-1zM200 13h1v1h-1zM204 13h1v1h-1zM219 13h1v1h-1zM29 14h1v1h-1zM34 14h1v1h-1zM62 14h1v1h-1zM99 14h1v1h-1zM109 14h1v1h-1zM112 14h1v1h-1zM116 14h1v1h-1zM127 14h1v1h-1zM132 14h3v1h-3zM173 14h1v1h-1zM206 14h1v1h-1zM19 15h1v1h-1zM27 15h1v1h-1zM31 15h1v1h-1zM55 15h1v1h-1zM68 15h1v1h-1zM70 15h1v1h-1zM72 15h1v1h-1zM108 15h1v1h-1zM110 15h1v1h-1zM127 15h1v1h-1zM139 15h1v1h-1zM193 15h1v1h-1zM204 15h1v1h-1zM20 16h2v1h-2zM38 16h2v1h-2zM43 16h2v1h-2zM58 16h1v1h-1zM86 16h2v1h-2zM116 16h1v1h-1zM146 16h1v1h-1zM160 16h1v1h-1zM166 16h1v1h-1zM170 16h1v1h-1zM177 16h1v1h-1zM179 16h1v1h-1zM197 16h1v1h-1zM201 16h1v1h-1zM216 16h1v1h-1zM220 16h1v1h-1zM223 16h1v1h-1zM26 17h1v1h-1zM32 17h1v1h-1zM39 17h1v1h-1zM44 17h1v1h-1zM50 17h1v1h-1zM77 17h1v1h-1zM79 17h1v1h-1zM104 17h1v1h-1zM106 17h1v1h-1zM113 17h1v1h-1zM133 17h1v1h-1zM170 17h1v1h-1zM188 17h1v1h-1zM194 17h1v1h-1zM197 17h1v1h-1zM220 17h1v1h-1zM224 17h1v1h-1zM10 18h1v1h-1zM15 18h1v1h-1zM58 18h1v1h-1zM71 18h1v1h-1zM81 18h1v1h-1zM107 18h1v1h-1zM135 18h1v1h-1zM137 18h1v1h-1zM158 18h1v1h-1zM176 18h1v1h-1zM206 18h1v1h-1zM38 19h1v1h-1zM42 19h1v1h-1zM49 19h1v1h-1zM55 19h1v1h-1zM63 19h1v1h-1zM85 19h1v1h-1zM103 19h1v1h-1zM106 19h1v1h-1zM108 19h1v1h-1zM123 19h1v1h-1zM177 19h1v1h-1zM205 19h1v1h-1zM207 19h1v1h-1zM212 19h1v1h-1zM218 19h1v1h-1zM30 20h1v1h-1zM76 20h1v1h-1zM85 20h1v1h-1zM93 20h1v1h-1zM100 20h1v1h-1zM123 20h2v1h-2zM139 20h1v1h-1zM143 20h1v1h-1zM170 20h1v1h-1zM179 20h1v1h-1zM193 20h1v1h-1zM207 20h1v1h-1zM10 21h1v1h-1zM34 21h1v1h-1zM69 21h1v1h-1zM83 21h1v1h-1zM98 21h1v1h-1zM123 21h1v1h-1zM129 21h1v1h-1zM155 21h2v1h-2zM163 21h1v1h-1zM166 21h1v1h-1zM175 21h1v1h-1zM21 22h1v1h-1zM32 22h1v1h-1zM58 22h1v1h-1zM82 22h1v1h-1zM110 22h1v1h-1zM126 22h1v1h-1zM154 22h2v1h-2zM170 22h1v1h-1zM186 22h1v1h-1zM10 23h1v1h-1zM22 23h1v1h-1zM28 23h1v1h-1zM32 23h1v1h-1zM74 23h1v1h-1zM79 23h1v1h-1zM123 23h1v1h-1zM133 23h1v1h-1zM144 23h1v1h-1zM166 23h1v1h-1zM177 23h3v1h-3zM195 23h1v1h-1zM219 23h1v1h-1zM4 24h1v1h-1zM42 24h1v1h-1zM82 24h1v1h-1zM84 24h1v1h-1zM108 24h1v1h-1zM113 24h1v1h-1zM120 24h1v1h-1zM139 24h1v1h-1zM144 24h1v1h-1zM161 24h2v1h-2zM22 25h1v1h-1zM30 25h1v1h-1zM35 25h1v1h-1zM37 25h2v1h-2zM45 25h2v1h-2zM58 25h1v1h-1zM94 25h1v1h-1zM136 25h1v1h-1zM173 25h1v1h-1zM176 25h1v1h-1zM206 25h1v1h-1zM220 25h1v1h-1zM6 26h1v1h-1zM10 26h1v1h-1zM18 26h1v1h-1zM38 26h1v1h-1zM68 26h1v1h-1zM98 26h1v1h-1zM103 26h1v1h-1zM117 26h1v1h-1zM120 26h1v1h-1zM124 26h1v1h-1zM153 26h1v1h-1zM176 26h1v1h-1zM178 26h1v1h-1zM209 26h1v1h-1zM15 27h1v1h-1zM27 27h1v1h-1zM43 27h1v1h-1zM54 27h1v1h-1zM68 27h1v1h-1zM73 27h1v1h-1zM85 27h1v1h-1zM182 27h1v1h-1zM209 27h1v1h-1zM10 28h1v1h-1zM48 28h1v1h-1zM56 28h1v1h-1zM61 28h1v1h-1zM70 28h1v1h-1zM80 28h1v1h-1zM106 28h1v1h-1zM114 28h1v1h-1zM123 28h1v1h-1zM130 28h1v1h-1zM176 28h1v1h-1zM178 28h1v1h-1zM193 28h1v1h-1zM13 29h1v1h-1zM38 29h1v1h-1zM64 29h1v1h-1zM85 29h1v1h-1zM100 29h1v1h-1zM106 29h1v1h-1zM113 29h1v1h-1zM132 29h1v1h-1zM169 29h1v1h-1zM178 29h1v1h-1zM187 29h1v1h-1zM212 29h1v1h-1zM216 29h1v1h-1zM27 30h1v1h-1zM42 30h1v1h-1zM64 30h1v1h-1zM80 30h1v1h-1zM82 30h1v1h-1zM94 30h1v1h-1zM127 30h1v1h-1zM132 30h1v1h-1zM154 30h1v1h-1zM161 30h1v1h-1zM165 30h1v1h-1zM187 30h1v1h-1zM209 30h1v1h-1zM212 30h1v1h-1zM222 30h1v1h-1zM51 31h1v1h-1zM61 31h1v1h-1zM73 31h1v1h-1zM109 31h1v1h-1zM131 31h1v1h-1zM155 31h1v1h-1zM165 31h2v1h-2zM26 32h1v1h-1zM33 32h1v1h-1zM38 32h1v1h-1zM40 32h1v1h-1zM48 32h1v1h-1zM60 32h1v1h-1zM64 32h1v1h-1zM68 32h1v1h-1zM73 32h1v1h-1zM87 32h2v1h-2zM97 32h1v1h-1zM108 32h1v1h-1zM139 32h1v1h-1zM178 32h1v1h-1zM180 32h1v1h-1zM191 32h1v1h-1zM193 32h1v1h-1zM216 32h1v1h-1zM7 33h1v1h-1zM55 33h1v1h-1zM61 33h1v1h-1zM73 33h2v1h-2zM134 33h1v1h-1zM151 33h1v1h-1zM184 33h1v1h-1zM199 33h1v1h-1zM204 33h1v1h-1zM223 33h1v1h-1zM15 34h1v1h-1zM38 34h1v1h-1zM70 34h1v1h-1zM84 34h1v1h-1zM118 34h1v1h-1zM133 34h1v1h-1zM141 34h1v1h-1zM159 34h1v1h-1zM162 34h1v1h-1zM165 34h1v1h-1zM169 34h1v1h-1zM174 34h1v1h-1zM214 34h2v1h-2zM220 34h1v1h-1zM15 35h1v1h-1zM55 35h1v1h-1zM58 35h1v1h-1zM64 35h1v1h-1zM68 35h1v1h-1zM82 35h1v1h-1zM95 35h1v1h-1zM114 35h1v1h-1zM118 35h1v1h-1zM143 35h1v1h-1zM157 35h1v1h-1zM178 35h1v1h-1zM191 35h1v1h-1zM219 35h1v1h-1zM222 35h1v1h-1zM7 36h1v1h-1zM15 36h1v1h-1zM34 36h1v1h-1zM44 36h1v1h-1zM62 36h1v1h-1zM84 36h1v1h-1zM94 36h1v1h-1zM108 36h2v1h-2zM114 36h1v1h-1zM128 36h1v1h-1zM157 36h1v1h-1zM180 36h1v1h-1zM182 36h1v1h-1zM214 36h2v1h-2zM219 36h1v1h-1zM4 37h1v1h-1zM17 37h1v1h-1zM26 37h1v1h-1zM31 37h1v1h-1zM56 37h1v1h-1zM70 37h1v1h-1zM84 37h1v1h-1zM94 37h1v1h-1zM98 37h1v1h-1zM112 37h1v1h-1zM131 37h1v1h-1zM147 37h1v1h-1zM151 37h1v1h-1zM154 37h1v1h-1zM163 37h1v1h-1zM177 37h1v1h-1zM205 37h1v1h-1zM72 38h1v1h-1zM74 38h1v1h-1zM83 38h2v1h-2zM86 38h1v1h-1zM92 38h1v1h-1zM128 38h1v1h-1zM167 38h2v1h-2zM177 38h1v1h-1zM188 38h1v1h-1zM193 38h1v1h-1zM197 38h1v1h-1zM2 39h1v1h-1zM43 39h1v1h-1zM46 39h1v1h-1zM62 39h2v1h-2zM72 39h1v1h-1zM115 39h2v1h-2zM130 39h1v1h-1zM136 39h2v1h-2zM141 39h1v1h-1zM144 39h1v1h-1zM147 39h1v1h-1zM155 39h1v1h-1zM168 39h1v1h-1zM181 39h1v1h-1zM186 39h1v1h-1zM0 40h1v1h-1zM16 40h1v1h-1zM43 40h1v1h-1zM60 40h1v1h-1zM75 40h1v1h-1zM86 40h1v1h-1zM89 40h1v1h-1zM130 40h1v1h-1zM139 40h1v1h-1zM147 40h3v1h-3zM157 40h1v1h-1zM159 40h1v1h-1zM163 40h1v1h-1zM168 40h1v1h-1zM181 40h1v1h-1zM183 40h1v1h-1zM186 40h1v1h-1zM191 40h1v1h-1zM217 40h1v1h-1zM16 41h1v1h-1zM43 41h1v1h-1zM49 41h1v1h-1zM69 41h1v1h-1zM79 41h1v1h-1zM98 41h1v1h-1zM106 41h1v1h-1zM134 41h1v1h-1zM155 41h1v1h-1zM165 41h1v1h-1zM189 41h1v1h-1zM193 41h2v1h-2zM197 41h1v1h-1zM205 41h1v1h-1zM37 42h1v1h-1zM43 42h1v1h-1zM69 42h1v1h-1zM74 42h1v1h-1zM86 42h1v1h-1zM101 42h1v1h-1zM106 42h1v1h-1zM108 42h1v1h-1zM145 42h1v1h-1zM165 42h1v1h-1zM176 42h2v1h-2zM181 42h1v1h-1zM197 42h1v1h-1zM13 43h1v1h-1zM69 43h1v1h-1zM72 43h1v1h-1zM79 43h1v1h-1zM123 43h1v1h-1zM165 43h1v1h-1zM169 43h1v1h-1zM173 43h1v1h-1zM188 43h1v1h-1zM194 43h1v1h-1zM197 43h1v1h-1zM207 43h1v1h-1zM4 44h1v1h-1zM25 44h1v1h-1zM47 44h1v1h-1zM70 44h1v1h-1zM75 44h1v1h-1zM85 44h1v1h-1zM101 44h1v1h-1zM116 44h1v1h-1zM165 44h1v1h-1zM170 44h1v1h-1zM186 44h1v1h-1zM217 44h1v1h-1zM11 45h1v1h-1zM22 45h1v1h-1zM37 45h1v1h-1zM40 45h1v1h-1zM64 45h1v1h-1zM67 45h1v1h-1zM70 45h2v1h-2zM80 45h1v1h-1zM109 45h1v1h-1zM112 45h1v1h-1zM118 45h1v1h-1zM148 45h1v1h-1zM159 45h1v1h-1zM165 45h1v1h-1zM204 45h2v1h-2zM208 45h1v1h-1zM211 45h1v1h-1zM5 46h1v1h-1zM11 46h1v1h-1zM36 46h1v1h-1zM49 46h1v1h-1zM64 46h1v1h-1zM69 46h1v1h-1zM81 46h1v1h-1zM84 46h1v1h-1zM86 46h2v1h-2zM101 46h1v1h-1zM123 46h1v1h-1zM144 46h1v1h-1zM148 46h1v1h-1zM162 46h1v1h-1zM10 47h1v1h-1zM26 47h1v1h-1zM67 47h1v1h-1zM122 47h1v1h-1zM138 47h1v1h-1zM144 47h1v1h-1zM148 47h1v1h-1zM150 47h1v1h-1zM159 47h1v1h-1zM164 47h1v1h-1zM188 47h1v1h-1zM193 47h1v1h-1zM24 48h1v1h-1zM26 48h1v1h-1zM32 48h1v1h-1zM40 48h1v1h-1zM55 48h1v1h-1zM62 48h1v1h-1zM74 48h1v1h-1zM78 48h1v1h-1zM86 48h1v1h-1zM89 48h1v1h-1zM161 48h1v1h-1zM193 48h1v1h-1zM211 48h1v1h-1zM220 48h1v1h-1zM5 49h1v1h-1zM19 49h1v1h-1zM63 49h1v1h-1zM65 49h1v1h-1zM68 49h1v1h-1zM101 49h1v1h-1zM118 49h1v1h-1zM127 49h2v1h-2zM142 49h1v1h-1zM160 49h1v1h-1zM174 49h1v1h-1zM188 49h1v1h-1zM194 49h1v1h-1zM219 49h1v1h-1z"/>
<path fill="#FFC8BD" d="M6 0h1v1h-1zM19 0h1v1h-1zM30 0h1v1h-1zM52 0h1v1h-1zM65 0h1v1h-1zM155 0h1v1h-1zM171 0h1v1h-1zM178 0h2v1h-2zM205 0h1v1h-1zM210 0h1v1h-1zM217 0h1v1h-1zM20 1h1v1h-1zM23 1h2v1h-2zM29 1h1v1h-1zM44 1h2v1h-2zM53 1h1v1h-1zM79 1h1v1h-1zM84 1h1v1h-1zM100 1h1v1h-1zM133 1h1v1h-1zM161 1h1v1h-1zM189 1h1v1h-1zM197 1h1v1h-1zM201 1h1v1h-1zM57 2h2v1h-2zM81 2h1v1h-1zM95 2h1v1h-1zM108 2h1v1h-1zM137 2h1v1h-1zM141 2h1v1h-1zM163 2h1v1h-1zM165 2h2v1h-2zM169 2h1v1h-1zM178 2h1v1h-1zM189 2h1v1h-1zM210 2h1v1h-1zM215 2h1v1h-1zM217 2h1v1h-1zM220 2h1v1h-1zM1 3h1v1h-1zM15 3h1v1h-1zM29 3h1v1h-1zM40 3h1v1h-1zM44 3h1v1h-1zM56 3h1v1h-1zM118 3h1v1h-1zM132 3h1v1h-1zM143 3h1v1h-1zM152 3h1v1h-1zM166 3h1v1h-1zM182 3h1v1h-1zM189 3h1v1h-1zM196 3h1v1h-1zM200 3h2v1h-2zM209 3h1v1h-1zM5 4h1v1h-1zM9 4h1v1h-1zM18 4h1v1h-1zM22 4h1v1h-1zM33 4h1v1h-1zM38 4h1v1h-1zM52 4h1v1h-1zM55 4h1v1h-1zM98 4h1v1h-1zM133 4h1v1h-1zM161 4h2v1h-2zM190 4h1v1h-1zM204 4h1v1h-1zM12 5h2v1h-2zM30 5h1v1h-1zM50 5h1v1h-1zM56 5h2v1h-2zM63 5h1v1h-1zM69 5h1v1h-1zM82 5h1v1h-1zM85 5h1v1h-1zM99 5h1v1h-1zM112 5h1v1h-1zM143 5h1v1h-1zM149 5h1v1h-1zM152 5h1v1h-1zM162 5h1v1h-1zM182 5h1v1h-1zM190 5h1v1h-1zM222 5h1v1h-1zM2 6h1v1h-1zM49 6h1v1h-1zM54 6h1v1h-1zM100 6h1v1h-1zM109 6h1v1h-1zM115 6h1v1h-1zM127 6h1v1h-1zM142 6h1v1h-1zM161 6h2v1h-2zM164 6h1v1h-1zM179 6h1v1h-1zM190 6h1v1h-1zM215 6h1v1h-1zM20 7h1v1h-1zM40 7h1v1h-1zM47 7h1v1h-1zM72 7h2v1h-2zM121 7h1v1h-1zM148 7h1v1h-1zM154 7h1v1h-1zM165 7h1v1h-1zM168 7h1v1h-1zM189 7h2v1h-2zM214 7h2v1h-2zM29 8h1v1h-1zM73 8h1v1h-1zM81 8h1v1h-1zM114 8h1v1h-1zM116 8h1v1h-1zM125 8h1v1h-1zM134 8h1v1h-1zM163 8h1v1h-1zM166 8h1v1h-1zM169 8h1v1h-1zM171 8h1v1h-1zM193 8h1v1h-1zM224 8h1v1h-1zM23 9h1v1h-1zM36 9h1v1h-1zM40 9h1v1h-1zM50 9h1v1h-1zM91 9h1v1h-1zM100 9h1v1h-1zM108 9h2v1h-2zM111 9h2v1h-2zM116 9h1v1h-1zM125 9h1v1h-1zM131 9h1v1h-1zM137 9h1v1h-1zM154 9h1v1h-1zM156 9h1v1h-1zM162 9h1v1h-1zM164 9h2v1h-2zM173 9h1v1h-1zM182 9h1v1h-1zM9 10h1v1h-1zM54 10h1v1h-1zM77 10h1v1h-1zM92 10h1v1h-1zM94 10h1v1h-1zM109 10h1v1h-1zM115 10h1v1h-1zM118 10h1v1h-1zM121 10h2v1h-2zM132 10h1v1h-1zM138 10h1v1h-1zM147 10h1v1h-1zM163 10h1v1h-1zM169 10h1v1h-1zM178 10h1v1h-1zM180 10h1v1h-1zM206 10h1v1h-1zM32 11h1v1h-1zM44 11h1v1h-1zM56 11h2v1h-2zM104 11h1v1h-1zM113 11h1v1h-1zM128 11h1v1h-1zM133 11h1v1h-1zM136 11h1v1h-1zM140 11h1v1h-1zM165 11h1v1h-1zM180 11h1v1h-1zM182 11h1v1h-1zM221 11h1v1h-1zM16 12h1v1h-1zM38 12h1v1h-1zM50 12h1v1h-1zM55 12h1v1h-1zM67 12h1v1h-1zM73 12h1v1h-1zM96 12h1v1h-1zM98 12h1v1h-1zM110 12h1v1h-1zM119 12h1v1h-1zM126 12h2v1h-2zM155 12h1v1h-1zM157 12h1v1h-1zM160 12h1v1h-1zM177 12h1v1h-1zM192 12h1v1h-1zM220 12h1v1h-1zM20 13h1v1h-1zM36 13h1v1h-1zM55 13h1v1h-1zM58 13h1v1h-1zM96 13h1v1h-1zM115 13h1v1h-1zM118 13h2v1h-2zM121 13h1v1h-1zM125 13h1v1h-1zM133 13h1v1h-1zM136 13h1v1h-1zM161 13h2v1h-2zM168 13h1v1h-1zM188 13h1v1h-1zM192 13h1v1h-1zM220 13h1v1h-1zM36 14h1v1h-1zM38 14h1v1h-1zM70 14h1v1h-1zM81 14h1v1h-1zM86 14h1v1h-1zM93 14h1v1h-1zM119 14h1v1h-1zM122 14h1v1h-1zM151 14h1v1h-1zM163 14h1v1h-1zM172 14h1v1h-1zM187 14h1v1h-1zM194 14h1v1h-1zM200 14h1v1h-1zM20 15h1v1h-1zM58 15h1v1h-1zM81 15h1v1h-1zM106 15h1v1h-1zM109 15h1v1h-1zM116 15h1v1h-1zM118 15h1v1h-1zM129 15h1v1h-1zM144 15h1v1h-1zM147 15h1v1h-1zM149 15h1v1h-1zM174 15h1v1h-1zM186 15h2v1h-2zM192 15h1v1h-1zM196 15h1v1h-1zM27 16h1v1h-1zM31 16h2v1h-2zM61 16h1v1h-1zM83 16h1v1h-1zM93 16h1v1h-1zM121 16h1v1h-1zM125 16h1v1h-1zM132 16h1v1h-1zM188 16h1v1h-1zM192 16h1v1h-1zM194 16h1v1h-1zM202 16h1v1h-1zM21 17h1v1h-1zM27 17h1v1h-1zM52 17h1v1h-1zM56 17h1v1h-1zM70 17h1v1h-1zM94 17h1v1h-1zM99 17h1v1h-1zM109 17h1v1h-1zM112 17h1v1h-1zM115 17h1v1h-1zM122 17h1v1h-1zM126 17h2v1h-2zM132 17h1v1h-1zM144 17h1v1h-1zM150 17h1v1h-1zM174 17h1v1h-1zM202 17h1v1h-1zM223 17h1v1h-1zM1 18h1v1h-1zM3 18h1v1h-1zM53 18h1v1h-1zM63 18h1v1h-1zM75 18h1v1h-1zM83 18h1v1h-1zM121 18h1v1h-1zM128 18h1v1h-1zM172 18h1v1h-1zM4 19h1v1h-1zM10 19h1v1h-1zM16 19h1v1h-1zM26 19h1v1h-1zM30 19h1v1h-1zM36 19h1v1h-1zM45 19h1v1h-1zM58 19h1v1h-1zM74 19h1v1h-1zM83 19h1v1h-1zM88 19h1v1h-1zM110 19h1v1h-1zM142 19h1v1h-1zM149 19h1v1h-1zM153 19h2v1h-2zM159 19h1v1h-1zM170 19h1v1h-1zM197 19h1v1h-1zM32 20h1v1h-1zM38 20h1v1h-1zM62 20h1v1h-1zM68 20h2v1h-2zM94 20h1v1h-1zM107 20h1v1h-1zM110 20h1v1h-1zM147 20h1v1h-1zM177 20h1v1h-1zM197 20h1v1h-1zM206 20h1v1h-1zM219 20h2v1h-2zM4 21h1v1h-1zM15 21h1v1h-1zM19 21h1v1h-1zM58 21h1v1h-1zM63 21h1v1h-1zM74 21h1v1h-1zM88 21h1v1h-1zM110 21h1v1h-1zM117 21h1v1h-1zM127 21h1v1h-1zM174 21h1v1h-1zM178 21h1v1h-1zM194 21h2v1h-2zM28 22h1v1h-1zM38 22h1v1h-1zM64 22h1v1h-1zM67 22h2v1h-2zM74 22h1v1h-1zM79 22h1v1h-1zM84 22h1v1h-1zM93 22h1v1h-1zM124 22h1v1h-1zM138 22h1v1h-1zM142 22h1v1h-1zM177 22h2v1h-2zM15 23h1v1h-1zM27 23h1v1h-1zM69 23h1v1h-1zM108 23h1v1h-1zM143 23h1v1h-1zM156 23h1v1h-1zM193 23h1v1h-1zM6 24h1v1h-1zM12 24h1v1h-1zM19 24h1v1h-1zM37 24h1v1h-1zM46 24h1v1h-1zM67 24h1v1h-1zM74 24h1v1h-1zM149 24h1v1h-1zM151 24h1v1h-1zM155 24h1v1h-1zM176 24h1v1h-1zM179 24h1v1h-1zM183 24h1v1h-1zM189 24h1v1h-1zM1 25h1v1h-1zM4 25h1v1h-1zM10 25h1v1h-1zM66 25h1v1h-1zM117 25h1v1h-1zM122 25h1v1h-1zM179 25h1v1h-1zM193 25h1v1h-1zM28 26h1v1h-1zM49 26h1v1h-1zM90 26h1v1h-1zM108 26h1v1h-1zM110 26h1v1h-1zM114 26h1v1h-1zM154 26h1v1h-1zM162 26h1v1h-1zM169 26h1v1h-1zM21 27h1v1h-1zM45 27h1v1h-1zM51 27h1v1h-1zM64 27h1v1h-1zM95 27h1v1h-1zM97 27h1v1h-1zM133 27h1v1h-1zM147 27h1v1h-1zM155 27h1v1h-1zM160 27h1v1h-1zM162 27h1v1h-1zM191 27h1v1h-1zM214 27h2v1h-2zM221 27h2v1h-2zM15 28h1v1h-1zM30 28h1v1h-1zM33 28h1v1h-1zM35 28h1v1h-1zM45 28h1v1h-1zM51 28h1v1h-1zM58 28h1v1h-1zM64 28h1v1h-1zM93 28h1v1h-1zM113 28h1v1h-1zM122 28h1v1h-1zM137 28h1v1h-1zM169 28h1v1h-1zM171 28h1v1h-1zM191 28h1v1h-1zM27 29h1v1h-1zM35 29h1v1h-1zM41 29h1v1h-1zM45 29h1v1h-1zM55 29h1v1h-1zM60 29h1v1h-1zM62 29h1v1h-1zM69 29h1v1h-1zM97 29h1v1h-1zM104 29h1v1h-1zM116 29h1v1h-1zM147 29h2v1h-2zM154 29h1v1h-1zM162 29h1v1h-1zM170 29h1v1h-1zM204 29h1v1h-1zM16 30h1v1h-1zM48 30h1v1h-1zM55 30h1v1h-1zM60 30h1v1h-1zM84 30h1v1h-1zM136 30h2v1h-2zM158 30h1v1h-1zM162 30h1v1h-1zM169 30h1v1h-1zM173 30h1v1h-1zM191 30h1v1h-1zM195 30h1v1h-1zM15 31h1v1h-1zM22 31h1v1h-1zM40 31h2v1h-2zM55 31h1v1h-1zM60 31h1v1h-1zM80 31h1v1h-1zM82 31h1v1h-1zM85 31h1v1h-1zM90 31h1v1h-1zM94 31h1v1h-1zM133 31h1v1h-1zM148 31h1v1h-1zM169 31h1v1h-1zM176 31h1v1h-1zM178 31h1v1h-1zM184 31h1v1h-1zM193 31h1v1h-1zM214 31h1v1h-1zM219 31h1v1h-1zM223 31h1v1h-1zM15 32h1v1h-1zM35 32h1v1h-1zM51 32h1v1h-1zM55 32h1v1h-1zM61 32h1v1h-1zM79 32h1v1h-1zM122 32h1v1h-1zM127 32h1v1h-1zM134 32h1v1h-1zM149 32h1v1h-1zM155 32h1v1h-1zM168 32h1v1h-1zM173 32h1v1h-1zM184 32h1v1h-1zM196 32h1v1h-1zM13 33h1v1h-1zM17 33h1v1h-1zM33 33h1v1h-1zM58 33h1v1h-1zM82 33h1v1h-1zM95 33h1v1h-1zM98 33h1v1h-1zM104 33h1v1h-1zM106 33h1v1h-1zM127 33h1v1h-1zM155 33h1v1h-1zM169 33h1v1h-1zM209 33h1v1h-1zM7 34h1v1h-1zM26 34h2v1h-2zM61 34h2v1h-2zM64 34h1v1h-1zM88 34h1v1h-1zM93 34h2v1h-2zM125 34h1v1h-1zM149 34h1v1h-1zM155 34h1v1h-1zM157 34h2v1h-2zM184 34h1v1h-1zM12 35h1v1h-1zM18 35h1v1h-1zM21 35h1v1h-1zM48 35h2v1h-2zM63 35h1v1h-1zM70 35h1v1h-1zM93 35h1v1h-1zM104 35h1v1h-1zM149 35h1v1h-1zM182 35h1v1h-1zM184 35h1v1h-1zM186 35h1v1h-1zM193 35h1v1h-1zM195 35h1v1h-1zM209 35h1v1h-1zM221 35h1v1h-1zM21 36h1v1h-1zM24 36h1v1h-1zM51 36h1v1h-1zM60 36h2v1h-2zM77 36h3v1h-3zM106 36h1v1h-1zM148 36h1v1h-1zM154 36h3v1h-3zM169 36h1v1h-1zM187 36h2v1h-2zM221 36h1v1h-1zM22 37h1v1h-1zM24 37h1v1h-1zM30 37h1v1h-1zM45 37h1v1h-1zM74 37h2v1h-2zM81 37h1v1h-1zM108 37h2v1h-2zM132 37h1v1h-1zM134 37h1v1h-1zM159 37h2v1h-2zM169 37h1v1h-1zM189 37h1v1h-1zM7 38h1v1h-1zM17 38h1v1h-1zM22 38h1v1h-1zM44 38h2v1h-2zM48 38h2v1h-2zM98 38h1v1h-1zM123 38h1v1h-1zM130 38h1v1h-1zM139 38h1v1h-1zM141 38h1v1h-1zM159 38h2v1h-2zM202 38h1v1h-1zM205 38h1v1h-1zM221 38h1v1h-1zM12 39h1v1h-1zM22 39h1v1h-1zM24 39h1v1h-1zM51 39h1v1h-1zM58 39h1v1h-1zM60 39h1v1h-1zM74 39h1v1h-1zM103 39h1v1h-1zM106 39h1v1h-1zM122 39h1v1h-1zM134 39h1v1h-1zM148 39h1v1h-1zM171 39h1v1h-1zM183 39h1v1h-1zM189 39h1v1h-1zM191 39h1v1h-1zM193 39h1v1h-1zM217 39h1v1h-1zM17 40h1v1h-1zM25 40h1v1h-1zM31 40h1v1h-1zM72 40h1v1h-1zM94 40h1v1h-1zM103 40h1v1h-1zM108 40h2v1h-2zM111 40h1v1h-1zM113 40h1v1h-1zM118 40h1v1h-1zM133 40h1v1h-1zM136 40h1v1h-1zM144 40h1v1h-1zM161 40h1v1h-1zM177 40h1v1h-1zM1 41h1v1h-1zM7 41h1v1h-1zM31 41h1v1h-1zM131 41h1v1h-1zM136 41h1v1h-1zM158 41h1v1h-1zM170 41h1v1h-1zM183 41h1v1h-1zM4 42h1v1h-1zM22 42h1v1h-1zM35 42h1v1h-1zM49 42h1v1h-1zM57 42h1v1h-1zM63 42h1v1h-1zM68 42h1v1h-1zM70 42h1v1h-1zM81 42h1v1h-1zM134 42h1v1h-1zM139 42h1v1h-1zM159 42h1v1h-1zM169 42h1v1h-1zM188 42h1v1h-1zM4 43h1v1h-1zM21 43h1v1h-1zM33 43h1v1h-1zM35 43h1v1h-1zM40 43h1v1h-1zM58 43h1v1h-1zM61 43h1v1h-1zM70 43h1v1h-1zM86 43h1v1h-1zM98 43h1v1h-1zM106 43h1v1h-1zM111 43h1v1h-1zM130 43h1v1h-1zM132 43h1v1h-1zM136 43h1v1h-1zM151 43h1v1h-1zM160 43h1v1h-1zM202 43h1v1h-1zM17 44h1v1h-1zM26 44h1v1h-1zM45 44h1v1h-1zM58 44h1v1h-1zM61 44h1v1h-1zM98 44h1v1h-1zM106 44h1v1h-1zM109 44h1v1h-1zM111 44h1v1h-1zM128 44h1v1h-1zM141 44h1v1h-1zM159 44h1v1h-1zM169 44h1v1h-1zM176 44h1v1h-1zM184 44h1v1h-1zM188 44h1v1h-1zM19 45h1v1h-1zM123 45h1v1h-1zM153 45h1v1h-1zM158 45h1v1h-1zM26 46h1v1h-1zM56 46h1v1h-1zM77 46h1v1h-1zM102 46h1v1h-1zM109 46h1v1h-1zM113 46h1v1h-1zM136 46h1v1h-1zM138 46h1v1h-1zM143 46h1v1h-1zM146 46h1v1h-1zM153 46h1v1h-1zM158 46h1v1h-1zM177 46h1v1h-1zM182 46h1v1h-1zM196 46h1v1h-1zM48 47h1v1h-1zM50 47h2v1h-2zM64 47h1v1h-1zM106 47h1v1h-1zM131 47h1v1h-1zM143 47h1v1h-1zM147 47h1v1h-1zM204 47h1v1h-1zM47 48h1v1h-1zM69 48h1v1h-1zM73 48h1v1h-1zM101 48h1v1h-1zM109 48h1v1h-1zM117 48h1v1h-1zM138 48h1v1h-1zM159 48h2v1h-2zM173 48h1v1h-1zM180 48h1v1h-1zM11 49h1v1h-1zM39 49h1v1h-1zM46 49h2v1h-2zM49 49h1v1h-1zM51 49h1v1h-1zM75 49h1v1h-1zM77 49h1v1h-1zM80 49h1v1h-1zM84 49h2v1h-2zM89 49h1v1h-1zM107 49h1v1h-1zM134 49h1v1h-1zM147 49h2v1h-2zM150 49h1v1h-1zM178 49h1v1h-1z"/>
<path fill="#FFAC9E" d="M8 0h1v1h-1zM20 0h1v1h-1zM23 0h1v1h-1zM57 0h1v1h-1zM70 0h1v1h-1zM83 0h1v1h-1zM93 0h1v1h-1zM96 0h1v1h-1zM111 0h1v1h-1zM127 0h1v1h-1zM132 0h1v1h-1zM157 0h1v1h-1zM163 0h1v1h-1zM30 1h1v1h-1zM55 1h1v1h-1zM61 1h1v1h-1zM82 1h1v1h-1zM115 1h1v1h-1zM132 1h1v1h-1zM158 1h1v1h-1zM171 1h2v1h-2zM175 1h1v1h-1zM184 1h1v1h-1zM56 2h1v1h-1zM73 2h1v1h-1zM91 2h1v1h-1zM99 2h2v1h-2zM112 2h1v1h-1zM114 2h2v1h-2zM117 2h1v1h-1zM119 2h2v1h-2zM123 2h1v1h-1zM153 2h1v1h-1zM160 2h1v1h-1zM162 2h1v1h-1zM175 2h1v1h-1zM185 2h1v1h-1zM190 2h1v1h-1zM195 2h1v1h-1zM207 2h1v1h-1zM216 2h1v1h-1zM19 3h1v1h-1zM23 3h1v1h-1zM55 3h1v1h-1zM66 3h1v1h-1zM75 3h1v1h-1zM92 3h1v1h-1zM104 3h1v1h-1zM107 3h1v1h-1zM116 3h1v1h-1zM129 3h1v1h-1zM157 3h1v1h-1zM165 3h1v1h-1zM167 3h1v1h-1zM216 3h1v1h-1zM0 4h1v1h-1zM29 4h1v1h-1zM31 4h1v1h-1zM41 4h1v1h-1zM53 4h1v1h-1zM76 4h1v1h-1zM83 4h1v1h-1zM149 4h1v1h-1zM153 4h1v1h-1zM157 4h1v1h-1zM159 4h1v1h-1zM169 4h1v1h-1zM181 4h1v1h-1zM186 4h1v1h-1zM191 4h1v1h-1zM1 5h1v1h-1zM37 5h2v1h-2zM43 5h1v1h-1zM61 5h1v1h-1zM88 5h1v1h-1zM124 5h1v1h-1zM172 5h1v1h-1zM179 5h1v1h-1zM201 5h1v1h-1zM31 6h1v1h-1zM39 6h1v1h-1zM73 6h1v1h-1zM79 6h1v1h-1zM86 6h1v1h-1zM94 6h1v1h-1zM148 6h1v1h-1zM173 6h1v1h-1zM187 6h1v1h-1zM211 6h1v1h-1zM46 7h1v1h-1zM63 7h1v1h-1zM98 7h1v1h-1zM115 7h2v1h-2zM118 7h1v1h-1zM131 7h1v1h-1zM133 7h1v1h-1zM141 7h1v1h-1zM151 7h1v1h-1zM163 7h2v1h-2zM169 7h1v1h-1zM179 7h1v1h-1zM184 7h1v1h-1zM186 7h1v1h-1zM204 7h1v1h-1zM222 7h1v1h-1zM111 8h1v1h-1zM119 8h1v1h-1zM133 8h1v1h-1zM137 8h1v1h-1zM139 8h1v1h-1zM143 8h1v1h-1zM151 8h1v1h-1zM162 8h1v1h-1zM165 8h1v1h-1zM175 8h1v1h-1zM180 8h1v1h-1zM182 8h1v1h-1zM188 8h1v1h-1zM190 8h1v1h-1zM199 8h1v1h-1zM201 8h1v1h-1zM214 8h1v1h-1zM9 9h1v1h-1zM29 9h1v1h-1zM56 9h1v1h-1zM76 9h1v1h-1zM118 9h1v1h-1zM163 9h1v1h-1zM191 9h1v1h-1zM201 9h1v1h-1zM204 9h1v1h-1zM209 9h1v1h-1zM213 9h2v1h-2zM38 10h2v1h-2zM68 10h1v1h-1zM73 10h1v1h-1zM86 10h1v1h-1zM113 10h1v1h-1zM119 10h1v1h-1zM137 10h1v1h-1zM160 10h1v1h-1zM162 10h1v1h-1zM164 10h1v1h-1zM173 10h1v1h-1zM196 10h1v1h-1zM12 11h1v1h-1zM21 11h1v1h-1zM31 11h1v1h-1zM61 11h1v1h-1zM90 11h1v1h-1zM96 11h1v1h-1zM108 11h1v1h-1zM112 11h1v1h-1zM122 11h1v1h-1zM134 11h1v1h-1zM163 11h1v1h-1zM178 11h1v1h-1zM207 11h1v1h-1zM219 11h1v1h-1zM32 12h1v1h-1zM34 12h1v1h-1zM82 12h1v1h-1zM86 12h1v1h-1zM109 12h1v1h-1zM116 12h1v1h-1zM124 12h1v1h-1zM128 12h1v1h-1zM138 12h1v1h-1zM182 12h1v1h-1zM187 12h1v1h-1zM38 13h1v1h-1zM44 13h1v1h-1zM50 13h1v1h-1zM64 13h1v1h-1zM72 13h1v1h-1zM128 13h1v1h-1zM130 13h1v1h-1zM206 13h2v1h-2zM215 13h1v1h-1zM222 13h2v1h-2zM58 14h1v1h-1zM90 14h1v1h-1zM121 14h1v1h-1zM135 14h2v1h-2zM141 14h1v1h-1zM147 14h1v1h-1zM149 14h1v1h-1zM164 14h1v1h-1zM202 14h1v1h-1zM220 14h1v1h-1zM29 15h1v1h-1zM41 15h1v1h-1zM57 15h1v1h-1zM77 15h1v1h-1zM96 15h1v1h-1zM98 15h2v1h-2zM128 15h1v1h-1zM130 15h1v1h-1zM151 15h1v1h-1zM172 15h1v1h-1zM184 15h1v1h-1zM199 15h1v1h-1zM56 16h2v1h-2zM73 16h1v1h-1zM76 16h1v1h-1zM98 16h1v1h-1zM108 16h1v1h-1zM135 16h1v1h-1zM144 16h1v1h-1zM147 16h1v1h-1zM151 16h2v1h-2zM158 16h1v1h-1zM162 16h1v1h-1zM165 16h1v1h-1zM193 16h1v1h-1zM195 16h1v1h-1zM209 16h1v1h-1zM224 16h1v1h-1zM96 17h1v1h-1zM118 17h1v1h-1zM129 17h1v1h-1zM139 17h1v1h-1zM141 17h1v1h-1zM147 17h1v1h-1zM157 17h1v1h-1zM173 17h1v1h-1zM177 17h1v1h-1zM187 17h1v1h-1zM221 17h1v1h-1zM0 18h1v1h-1zM5 18h1v1h-1zM8 18h1v1h-1zM13 18h1v1h-1zM41 18h1v1h-1zM57 18h1v1h-1zM64 18h1v1h-1zM94 18h1v1h-1zM96 18h1v1h-1zM153 18h1v1h-1zM156 18h1v1h-1zM164 18h1v1h-1zM169 18h1v1h-1zM207 18h1v1h-1zM220 18h1v1h-1zM34 19h1v1h-1zM37 19h1v1h-1zM57 19h1v1h-1zM62 19h1v1h-1zM67 19h2v1h-2zM84 19h1v1h-1zM100 19h1v1h-1zM129 19h1v1h-1zM139 19h1v1h-1zM157 19h1v1h-1zM160 19h1v1h-1zM162 19h1v1h-1zM176 19h1v1h-1zM223 19h1v1h-1zM4 20h1v1h-1zM16 20h1v1h-1zM45 20h1v1h-1zM48 20h1v1h-1zM79 20h1v1h-1zM109 20h1v1h-1zM117 20h1v1h-1zM127 20h1v1h-1zM149 20h1v1h-1zM156 20h1v1h-1zM165 20h1v1h-1zM178 20h1v1h-1zM188 20h2v1h-2zM79 21h1v1h-1zM147 21h1v1h-1zM154 21h1v1h-1zM186 21h1v1h-1zM206 21h1v1h-1zM5 22h2v1h-2zM37 22h1v1h-1zM47 22h1v1h-1zM57 22h1v1h-1zM70 22h1v1h-1zM90 22h1v1h-1zM103 22h1v1h-1zM122 22h1v1h-1zM162 22h1v1h-1zM171 22h1v1h-1zM174 22h1v1h-1zM4 23h1v1h-1zM37 23h1v1h-1zM41 23h1v1h-1zM45 23h1v1h-1zM49 23h1v1h-1zM53 23h1v1h-1zM71 23h1v1h-1zM98 23h1v1h-1zM176 23h1v1h-1zM212 23h1v1h-1zM220 23h1v1h-1zM15 24h1v1h-1zM28 24h1v1h-1zM45 24h1v1h-1zM57 24h1v1h-1zM62 24h1v1h-1zM68 24h1v1h-1zM83 24h1v1h-1zM87 24h1v1h-1zM90 24h1v1h-1zM109 24h1v1h-1zM117 24h1v1h-1zM122 24h1v1h-1zM126 24h1v1h-1zM165 24h1v1h-1zM171 24h1v1h-1zM195 24h1v1h-1zM206 24h1v1h-1zM12 25h1v1h-1zM28 25h1v1h-1zM63 25h1v1h-1zM70 25h2v1h-2zM110 25h1v1h-1zM127 25h1v1h-1zM132 25h1v1h-1zM139 25h1v1h-1zM142 25h1v1h-1zM153 25h3v1h-3zM207 25h1v1h-1zM212 25h1v1h-1zM5 26h1v1h-1zM26 26h1v1h-1zM42 26h1v1h-1zM85 26h1v1h-1zM122 26h1v1h-1zM131 26h2v1h-2zM155 26h1v1h-1zM158 26h1v1h-1zM170 26h1v1h-1zM183 26h1v1h-1zM186 26h1v1h-1zM199 26h1v1h-1zM223 26h1v1h-1zM19 27h1v1h-1zM30 27h1v1h-1zM53 27h1v1h-1zM56 27h1v1h-1zM58 27h1v1h-1zM60 27h2v1h-2zM79 27h1v1h-1zM103 27h1v1h-1zM128 27h1v1h-1zM136 27h1v1h-1zM138 27h1v1h-1zM141 27h1v1h-1zM166 27h1v1h-1zM173 27h1v1h-1zM175 27h1v1h-1zM212 27h1v1h-1zM16 28h1v1h-1zM22 28h1v1h-1zM24 28h1v1h-1zM32 28h1v1h-1zM69 28h1v1h-1zM73 28h1v1h-1zM132 28h1v1h-1zM157 28h1v1h-1zM174 28h1v1h-1zM196 28h1v1h-1zM15 29h1v1h-1zM26 29h1v1h-1zM30 29h1v1h-1zM70 29h1v1h-1zM77 29h1v1h-1zM79 29h1v1h-1zM95 29h1v1h-1zM114 29h1v1h-1zM122 29h1v1h-1zM128 29h2v1h-2zM174 29h1v1h-1zM209 29h1v1h-1zM214 29h1v1h-1zM22 30h1v1h-1zM35 30h1v1h-1zM37 30h1v1h-1zM43 30h1v1h-1zM62 30h1v1h-1zM106 30h1v1h-1zM109 30h1v1h-1zM13 31h1v1h-1zM27 31h1v1h-1zM43 31h1v1h-1zM69 31h1v1h-1zM71 31h1v1h-1zM75 31h1v1h-1zM84 31h1v1h-1zM93 31h1v1h-1zM130 31h1v1h-1zM138 31h1v1h-1zM141 31h1v1h-1zM187 31h2v1h-2zM204 31h1v1h-1zM220 31h2v1h-2zM7 32h1v1h-1zM13 32h1v1h-1zM22 32h1v1h-1zM30 32h1v1h-1zM43 32h1v1h-1zM62 32h1v1h-1zM95 32h1v1h-1zM104 32h1v1h-1zM109 32h1v1h-1zM145 32h1v1h-1zM171 32h1v1h-1zM187 32h1v1h-1zM204 32h1v1h-1zM213 32h1v1h-1zM221 32h1v1h-1zM15 33h1v1h-1zM30 33h1v1h-1zM43 33h1v1h-1zM45 33h1v1h-1zM56 33h1v1h-1zM70 33h1v1h-1zM84 33h1v1h-1zM109 33h1v1h-1zM114 33h1v1h-1zM129 33h1v1h-1zM136 33h1v1h-1zM148 33h1v1h-1zM150 33h1v1h-1zM213 33h1v1h-1zM222 33h1v1h-1zM13 34h1v1h-1zM19 34h1v1h-1zM30 34h1v1h-1zM32 34h1v1h-1zM35 34h1v1h-1zM40 34h1v1h-1zM43 34h1v1h-1zM56 34h1v1h-1zM96 34h1v1h-1zM114 34h1v1h-1zM127 34h2v1h-2zM130 34h1v1h-1zM138 34h1v1h-1zM148 34h1v1h-1zM196 34h1v1h-1zM213 34h1v1h-1zM33 35h3v1h-3zM51 35h1v1h-1zM74 35h1v1h-1zM88 35h1v1h-1zM98 35h1v1h-1zM128 35h2v1h-2zM133 35h1v1h-1zM138 35h1v1h-1zM144 35h1v1h-1zM155 35h1v1h-1zM162 35h1v1h-1zM171 35h1v1h-1zM214 35h1v1h-1zM16 36h1v1h-1zM19 36h1v1h-1zM26 36h1v1h-1zM35 36h1v1h-1zM37 36h1v1h-1zM90 36h2v1h-2zM93 36h1v1h-1zM122 36h1v1h-1zM135 36h2v1h-2zM138 36h1v1h-1zM166 36h1v1h-1zM184 36h1v1h-1zM203 36h1v1h-1zM7 37h1v1h-1zM69 37h1v1h-1zM133 37h1v1h-1zM141 37h1v1h-1zM144 37h1v1h-1zM165 37h1v1h-1zM171 37h1v1h-1zM199 37h1v1h-1zM4 38h1v1h-1zM15 38h1v1h-1zM35 38h1v1h-1zM47 38h1v1h-1zM71 38h1v1h-1zM79 38h1v1h-1zM88 38h1v1h-1zM111 38h1v1h-1zM134 38h1v1h-1zM165 38h1v1h-1zM191 38h1v1h-1zM1 39h1v1h-1zM31 39h1v1h-1zM77 39h1v1h-1zM94 39h1v1h-1zM98 39h1v1h-1zM111 39h1v1h-1zM125 39h1v1h-1zM154 39h1v1h-1zM160 39h1v1h-1zM163 39h1v1h-1zM4 40h2v1h-2zM35 40h1v1h-1zM45 40h1v1h-1zM58 40h1v1h-1zM61 40h1v1h-1zM77 40h1v1h-1zM84 40h1v1h-1zM91 40h1v1h-1zM96 40h1v1h-1zM112 40h1v1h-1zM115 40h1v1h-1zM134 40h1v1h-1zM13 41h1v1h-1zM17 41h1v1h-1zM58 41h1v1h-1zM72 41h1v1h-1zM96 41h1v1h-1zM103 41h1v1h-1zM125 41h1v1h-1zM133 41h1v1h-1zM141 41h1v1h-1zM164 41h1v1h-1zM16 42h1v1h-1zM21 42h1v1h-1zM72 42h1v1h-1zM80 42h1v1h-1zM91 42h1v1h-1zM124 42h1v1h-1zM140 42h1v1h-1zM154 42h1v1h-1zM173 42h1v1h-1zM191 42h1v1h-1zM196 42h1v1h-1zM217 42h1v1h-1zM1 43h1v1h-1zM25 43h1v1h-1zM49 43h1v1h-1zM64 43h1v1h-1zM83 43h1v1h-1zM148 43h1v1h-1zM189 43h1v1h-1zM31 44h1v1h-1zM33 44h1v1h-1zM51 44h1v1h-1zM73 44h1v1h-1zM77 44h1v1h-1zM103 44h1v1h-1zM110 44h1v1h-1zM118 44h1v1h-1zM125 44h1v1h-1zM148 44h1v1h-1zM163 44h1v1h-1zM173 44h1v1h-1zM177 44h1v1h-1zM191 44h1v1h-1zM24 45h1v1h-1zM31 45h1v1h-1zM36 45h1v1h-1zM51 45h1v1h-1zM73 45h1v1h-1zM76 45h1v1h-1zM85 45h1v1h-1zM87 45h1v1h-1zM95 45h1v1h-1zM97 45h1v1h-1zM101 45h1v1h-1zM111 45h1v1h-1zM120 45h1v1h-1zM127 45h1v1h-1zM150 45h1v1h-1zM160 45h2v1h-2zM182 45h1v1h-1zM188 45h1v1h-1zM207 45h1v1h-1zM219 45h1v1h-1zM224 45h1v1h-1zM53 46h1v1h-1zM73 46h1v1h-1zM80 46h1v1h-1zM82 46h1v1h-1zM95 46h1v1h-1zM107 46h1v1h-1zM112 46h1v1h-1zM125 46h1v1h-1zM147 46h1v1h-1zM164 46h1v1h-1zM167 46h1v1h-1zM176 46h1v1h-1zM27 47h1v1h-1zM32 47h1v1h-1zM52 47h1v1h-1zM71 47h1v1h-1zM103 47h1v1h-1zM105 47h1v1h-1zM107 47h1v1h-1zM123 47h1v1h-1zM134 47h1v1h-1zM153 47h1v1h-1zM165 47h1v1h-1zM178 47h2v1h-2zM186 47h1v1h-1zM189 47h1v1h-1zM23 48h1v1h-1zM33 48h3v1h-3zM42 48h1v1h-1zM52 48h1v1h-1zM67 48h1v1h-1zM105 48h1v1h-1zM127 48h1v1h-1zM129 48h1v1h-1zM142 48h1v1h-1zM146 48h1v1h-1zM158 48h1v1h-1zM163 48h1v1h-1zM35 49h1v1h-1zM55 49h1v1h-1zM102 49h1v1h-1zM169 49h1v1h-1zM213 49h1v1h-1zM224 49h1v1h-1z"/>
<path fill="#FA8F80" d="M0 0h1v1h-1zM5 0h1v1h-1zM63 0h1v1h-1zM121 0h1v1h-1zM141 0h1v1h-1zM145 0h1v1h-1zM161 0h1v1h-1zM181 0h1v1h-1zM194 0h1v1h-1zM209 0h1v1h-1zM58 1h1v1h-1zM71 1h1v1h-1zM83 1h1v1h-1zM118 1h1v1h-1zM176 1h1v1h-1zM216 1h1v1h-1zM221 1h1v1h-1zM35 2h1v1h-1zM39 2h1v1h-1zM59 2h1v1h-1zM65 2h1v1h-1zM184 2h1v1h-1zM203 2h1v1h-1zM10 3h1v1h-1zM21 3h1v1h-1zM53 3h1v1h-1zM76 3h1v1h-1zM81 3h1v1h-1zM95 3h1v1h-1zM103 3h1v1h-1zM137 3h1v1h-1zM186 3h1v1h-1zM1 4h1v1h-1zM34 4h1v1h-1zM104 4h1v1h-1zM107 4h1v1h-1zM127 4h2v1h-2zM174 4h1v1h-1zM182 4h1v1h-1zM193 4h1v1h-1zM202 4h1v1h-1zM207 4h1v1h-1zM17 5h1v1h-1zM40 5h1v1h-1zM60 5h1v1h-1zM66 5h1v1h-1zM73 5h1v1h-1zM95 5h1v1h-1zM139 5h1v1h-1zM173 5h1v1h-1zM40 6h1v1h-1zM58 6h1v1h-1zM68 6h1v1h-1zM129 6h1v1h-1zM131 6h1v1h-1zM140 6h1v1h-1zM186 6h1v1h-1zM191 6h1v1h-1zM209 6h1v1h-1zM223 6h1v1h-1zM102 7h1v1h-1zM111 7h1v1h-1zM143 7h1v1h-1zM147 7h1v1h-1zM162 7h1v1h-1zM167 7h1v1h-1zM171 7h1v1h-1zM175 7h1v1h-1zM178 7h1v1h-1zM191 7h1v1h-1zM193 7h1v1h-1zM199 7h1v1h-1zM201 7h1v1h-1zM40 8h1v1h-1zM55 8h1v1h-1zM98 8h1v1h-1zM132 8h1v1h-1zM147 8h3v1h-3zM160 8h1v1h-1zM177 8h1v1h-1zM184 8h1v1h-1zM204 8h1v1h-1zM209 8h1v1h-1zM211 8h1v1h-1zM39 9h1v1h-1zM94 9h1v1h-1zM106 9h1v1h-1zM115 9h1v1h-1zM124 9h1v1h-1zM126 9h2v1h-2zM140 9h1v1h-1zM143 9h1v1h-1zM161 9h1v1h-1zM223 9h1v1h-1zM20 10h1v1h-1zM56 10h1v1h-1zM59 10h1v1h-1zM65 10h1v1h-1zM100 10h1v1h-1zM127 10h1v1h-1zM141 10h1v1h-1zM151 10h1v1h-1zM184 10h1v1h-1zM209 10h1v1h-1zM215 10h1v1h-1zM38 11h1v1h-1zM50 11h1v1h-1zM83 11h1v1h-1zM99 11h1v1h-1zM127 11h1v1h-1zM159 11h1v1h-1zM169 11h1v1h-1zM191 11h1v1h-1zM204 11h1v1h-1zM208 11h1v1h-1zM212 11h1v1h-1zM223 11h1v1h-1zM56 12h1v1h-1zM61 12h1v1h-1zM81 12h1v1h-1zM93 12h1v1h-1zM105 12h1v1h-1zM143 12h1v1h-1zM147 12h1v1h-1zM149 12h1v1h-1zM162 12h1v1h-1zM169 12h1v1h-1zM173 12h1v1h-1zM183 12h1v1h-1zM198 12h1v1h-1zM214 12h1v1h-1zM221 12h1v1h-1zM27 13h1v1h-1zM56 13h1v1h-1zM73 13h1v1h-1zM86 13h1v1h-1zM90 13h1v1h-1zM93 13h1v1h-1zM147 13h1v1h-1zM159 13h2v1h-2zM165 13h2v1h-2zM172 13h1v1h-1zM179 13h1v1h-1zM190 13h2v1h-2zM202 13h1v1h-1zM213 13h2v1h-2zM21 14h1v1h-1zM52 14h1v1h-1zM57 14h1v1h-1zM61 14h1v1h-1zM128 14h1v1h-1zM131 14h1v1h-1zM145 14h1v1h-1zM155 14h2v1h-2zM166 14h1v1h-1zM169 14h1v1h-1zM193 14h1v1h-1zM198 14h1v1h-1zM208 14h2v1h-2zM213 14h2v1h-2zM217 14h1v1h-1zM221 14h1v1h-1zM224 14h1v1h-1zM38 15h1v1h-1zM44 15h1v1h-1zM79 15h1v1h-1zM83 15h1v1h-1zM90 15h1v1h-1zM122 15h1v1h-1zM133 15h1v1h-1zM162 15h1v1h-1zM164 15h1v1h-1zM183 15h1v1h-1zM205 15h1v1h-1zM219 15h2v1h-2zM96 16h1v1h-1zM112 16h1v1h-1zM127 16h2v1h-2zM133 16h1v1h-1zM168 16h1v1h-1zM175 16h1v1h-1zM178 16h1v1h-1zM207 16h2v1h-2zM211 16h1v1h-1zM57 17h1v1h-1zM73 17h1v1h-1zM81 17h1v1h-1zM134 17h1v1h-1zM151 17h1v1h-1zM155 17h1v1h-1zM160 17h1v1h-1zM163 17h2v1h-2zM166 17h1v1h-1zM193 17h1v1h-1zM216 17h1v1h-1zM9 18h1v1h-1zM21 18h1v1h-1zM32 18h1v1h-1zM35 18h1v1h-1zM40 18h1v1h-1zM55 18h1v1h-1zM77 18h1v1h-1zM92 18h1v1h-1zM103 18h1v1h-1zM115 18h1v1h-1zM157 18h1v1h-1zM170 18h1v1h-1zM5 19h1v1h-1zM21 19h1v1h-1zM27 19h1v1h-1zM52 19h1v1h-1zM66 19h1v1h-1zM78 19h2v1h-2zM90 19h1v1h-1zM95 19h1v1h-1zM97 19h1v1h-1zM113 19h1v1h-1zM117 19h1v1h-1zM145 19h1v1h-1zM155 19h1v1h-1zM165 19h1v1h-1zM169 19h1v1h-1zM178 19h1v1h-1zM186 19h1v1h-1zM5 20h1v1h-1zM37 20h1v1h-1zM50 20h1v1h-1zM52 20h1v1h-1zM57 20h1v1h-1zM70 20h1v1h-1zM108 20h1v1h-1zM113 20h1v1h-1zM154 20h1v1h-1zM186 20h1v1h-1zM205 20h1v1h-1zM212 20h1v1h-1zM5 21h1v1h-1zM37 21h1v1h-1zM41 21h1v1h-1zM57 21h1v1h-1zM71 21h1v1h-1zM108 21h1v1h-1zM139 21h1v1h-1zM169 21h1v1h-1zM171 21h1v1h-1zM183 21h1v1h-1zM189 21h1v1h-1zM205 21h1v1h-1zM35 22h1v1h-1zM44 22h1v1h-1zM78 22h1v1h-1zM98 22h1v1h-1zM173 22h1v1h-1zM179 22h1v1h-1zM52 23h1v1h-1zM58 23h1v1h-1zM70 23h1v1h-1zM86 23h1v1h-1zM95 23h1v1h-1zM97 23h1v1h-1zM103 23h2v1h-2zM110 23h1v1h-1zM117 23h1v1h-1zM122 23h1v1h-1zM149 23h2v1h-2zM169 23h1v1h-1zM171 23h1v1h-1zM205 23h1v1h-1zM35 24h1v1h-1zM48 24h1v1h-1zM70 24h1v1h-1zM94 24h1v1h-1zM100 24h1v1h-1zM104 24h1v1h-1zM142 24h2v1h-2zM173 24h1v1h-1zM178 24h1v1h-1zM197 24h1v1h-1zM223 24h1v1h-1zM15 25h1v1h-1zM18 25h1v1h-1zM27 25h1v1h-1zM48 25h1v1h-1zM57 25h1v1h-1zM67 25h2v1h-2zM113 25h2v1h-2zM165 25h1v1h-1zM182 25h1v1h-1zM186 25h1v1h-1zM4 26h1v1h-1zM21 26h1v1h-1zM37 26h1v1h-1zM40 26h1v1h-1zM52 26h1v1h-1zM69 26h1v1h-1zM94 26h1v1h-1zM142 26h1v1h-1zM149 26h1v1h-1zM182 26h1v1h-1zM195 26h1v1h-1zM197 26h1v1h-1zM205 26h1v1h-1zM26 27h1v1h-1zM34 27h1v1h-1zM55 27h1v1h-1zM70 27h1v1h-1zM77 27h1v1h-1zM104 27h1v1h-1zM120 27h1v1h-1zM170 27h1v1h-1zM174 27h1v1h-1zM204 27h1v1h-1zM13 28h1v1h-1zM21 28h1v1h-1zM37 28h1v1h-1zM42 28h1v1h-1zM60 28h1v1h-1zM62 28h1v1h-1zM99 28h1v1h-1zM104 28h1v1h-1zM109 28h1v1h-1zM128 28h1v1h-1zM133 28h1v1h-1zM138 28h1v1h-1zM149 28h2v1h-2zM184 28h1v1h-1zM18 29h1v1h-1zM42 29h2v1h-2zM51 29h1v1h-1zM57 29h1v1h-1zM130 29h1v1h-1zM145 29h1v1h-1zM155 29h1v1h-1zM161 29h1v1h-1zM220 29h1v1h-1zM13 30h1v1h-1zM15 30h1v1h-1zM19 30h1v1h-1zM61 30h1v1h-1zM68 30h1v1h-1zM112 30h1v1h-1zM147 30h1v1h-1zM150 30h1v1h-1zM213 30h1v1h-1zM21 31h1v1h-1zM30 31h1v1h-1zM62 31h1v1h-1zM79 31h1v1h-1zM86 31h1v1h-1zM95 31h1v1h-1zM103 31h1v1h-1zM129 31h1v1h-1zM137 31h1v1h-1zM168 31h1v1h-1zM196 31h1v1h-1zM34 32h1v1h-1zM44 32h1v1h-1zM77 32h1v1h-1zM93 32h1v1h-1zM96 32h1v1h-1zM129 32h1v1h-1zM150 32h1v1h-1zM162 32h1v1h-1zM214 32h1v1h-1zM223 32h1v1h-1zM22 33h1v1h-1zM35 33h1v1h-1zM62 33h1v1h-1zM93 33h1v1h-1zM96 33h1v1h-1zM103 33h1v1h-1zM128 33h1v1h-1zM158 33h1v1h-1zM162 33h1v1h-1zM187 33h1v1h-1zM195 33h2v1h-2zM37 34h1v1h-1zM44 34h1v1h-1zM51 34h1v1h-1zM129 34h1v1h-1zM170 34h2v1h-2zM176 34h1v1h-1zM204 34h1v1h-1zM24 35h1v1h-1zM26 35h1v1h-1zM37 35h1v1h-1zM94 35h1v1h-1zM109 35h1v1h-1zM150 35h1v1h-1zM169 35h1v1h-1zM176 35h1v1h-1zM185 35h1v1h-1zM223 35h1v1h-1zM13 36h1v1h-1zM30 36h1v1h-1zM45 36h1v1h-1zM58 36h1v1h-1zM69 36h1v1h-1zM96 36h1v1h-1zM104 36h1v1h-1zM137 36h1v1h-1zM162 36h1v1h-1zM193 36h1v1h-1zM204 36h1v1h-1zM13 37h1v1h-1zM25 37h1v1h-1zM42 37h1v1h-1zM44 37h1v1h-1zM51 37h1v1h-1zM68 37h1v1h-1zM83 37h1v1h-1zM97 37h1v1h-1zM102 37h1v1h-1zM116 37h1v1h-1zM118 37h1v1h-1zM137 37h1v1h-1zM155 37h1v1h-1zM217 37h1v1h-1zM32 38h1v1h-1zM39 38h1v1h-1zM58 38h1v1h-1zM64 38h1v1h-1zM68 38h1v1h-1zM85 38h1v1h-1zM87 38h1v1h-1zM93 38h1v1h-1zM97 38h1v1h-1zM109 38h1v1h-1zM158 38h1v1h-1zM171 38h1v1h-1zM183 38h1v1h-1zM196 38h1v1h-1zM7 39h1v1h-1zM15 39h1v1h-1zM42 39h1v1h-1zM49 39h1v1h-1zM61 39h1v1h-1zM71 39h1v1h-1zM73 39h1v1h-1zM88 39h2v1h-2zM91 39h1v1h-1zM101 39h1v1h-1zM132 39h1v1h-1zM169 39h1v1h-1zM24 40h1v1h-1zM57 40h1v1h-1zM74 40h1v1h-1zM81 40h1v1h-1zM97 40h1v1h-1zM99 40h1v1h-1zM132 40h1v1h-1zM24 41h1v1h-1zM28 41h1v1h-1zM33 41h1v1h-1zM42 41h1v1h-1zM64 41h1v1h-1zM73 41h1v1h-1zM111 41h1v1h-1zM132 41h1v1h-1zM159 41h1v1h-1zM174 41h1v1h-1zM217 41h1v1h-1zM24 42h1v1h-1zM93 42h1v1h-1zM103 42h1v1h-1zM109 42h1v1h-1zM115 42h1v1h-1zM128 42h1v1h-1zM132 42h1v1h-1zM147 42h1v1h-1zM157 42h2v1h-2zM7 43h1v1h-1zM15 43h1v1h-1zM42 43h1v1h-1zM48 43h1v1h-1zM51 43h1v1h-1zM68 43h1v1h-1zM87 43h1v1h-1zM101 43h1v1h-1zM103 43h1v1h-1zM115 43h1v1h-1zM145 43h1v1h-1zM159 43h1v1h-1zM170 43h1v1h-1zM191 43h1v1h-1zM196 43h1v1h-1zM28 44h1v1h-1zM48 44h2v1h-2zM74 44h1v1h-1zM93 44h1v1h-1zM123 44h1v1h-1zM131 44h2v1h-2zM137 44h1v1h-1zM144 44h1v1h-1zM171 44h1v1h-1zM189 44h1v1h-1zM193 44h1v1h-1zM20 45h1v1h-1zM93 45h1v1h-1zM105 45h1v1h-1zM146 45h1v1h-1zM167 45h1v1h-1zM173 45h1v1h-1zM186 45h1v1h-1zM13 46h1v1h-1zM72 46h1v1h-1zM88 46h1v1h-1zM98 46h1v1h-1zM130 46h2v1h-2zM134 46h1v1h-1zM174 46h1v1h-1zM181 46h1v1h-1zM204 46h2v1h-2zM56 47h1v1h-1zM62 47h1v1h-1zM80 47h1v1h-1zM87 47h1v1h-1zM97 47h2v1h-2zM100 47h1v1h-1zM132 47h1v1h-1zM142 47h1v1h-1zM174 47h1v1h-1zM185 47h1v1h-1zM20 48h1v1h-1zM49 48h1v1h-1zM107 48h1v1h-1zM143 48h1v1h-1zM162 48h1v1h-1zM204 48h1v1h-1zM215 48h1v1h-1zM25 49h1v1h-1zM74 49h1v1h-1zM81 49h1v1h-1zM113 49h1v1h-1zM143 49h1v1h-1zM172 49h1v1h-1zM176 49h1v1h-1zM195 49h1v1h-1z"/>
<path fill="#F37262" d="M9 0h1v1h-1zM16 0h1v1h-1zM25 0h2v1h-2zM28 0h1v1h-1zM32 0h2v1h-2zM35 0h1v1h-1zM39 0h1v1h-1zM48 0h1v1h-1zM51 0h1v1h-1zM54 0h1v1h-1zM64 0h1v1h-1zM72 0h1v1h-1zM75 0h1v1h-1zM77 0h1v1h-1zM79 0h1v1h-1zM82 0h1v1h-1zM84 0h1v1h-1zM87 0h1v1h-1zM89 0h1v1h-1zM97 0h1v1h-1zM103 0h2v1h-2zM117 0h1v1h-1zM119 0h2v1h-2zM123 0h1v1h-1zM147 0h1v1h-1zM150 0h1v1h-1zM162 0h1v1h-1zM166 0h1v1h-1zM168 0h1v1h-1zM170 0h1v1h-1zM176 0h2v1h-2zM183 0h1v1h-1zM189 0h1v1h-1zM201 0h2v1h-2zM207 0h1v1h-1zM215 0h1v1h-1zM4 1h1v1h-1zM8 1h1v1h-1zM16 1h1v1h-1zM22 1h1v1h-1zM25 1h2v1h-2zM28 1h1v1h-1zM32 1h1v1h-1zM35 1h1v1h-1zM39 1h1v1h-1zM49 1h1v1h-1zM54 1h1v1h-1zM56 1h2v1h-2zM63 1h4v1h-4zM69 1h2v1h-2zM72 1h1v1h-1zM87 1h1v1h-1zM96 1h1v1h-1zM99 1h1v1h-1zM103 1h1v1h-1zM114 1h1v1h-1zM117 1h1v1h-1zM119 1h2v1h-2zM123 1h1v1h-1zM135 1h2v1h-2zM147 1h1v1h-1zM157 1h1v1h-1zM160 1h1v1h-1zM177 1h1v1h-1zM179 1h1v1h-1zM181 1h1v1h-1zM183 1h1v1h-1zM207 1h1v1h-1zM209 1h1v1h-1zM213 1h3v1h-3zM218 1h3v1h-3zM222 1h3v1h-3zM20 2h1v1h-1zM25 2h2v1h-2zM28 2h1v1h-1zM54 2h1v1h-1zM60 2h1v1h-1zM63 2h2v1h-2zM66 2h1v1h-1zM69 2h2v1h-2zM72 2h1v1h-1zM75 2h1v1h-1zM77 2h3v1h-3zM82 2h1v1h-1zM84 2h1v1h-1zM86 2h1v1h-1zM89 2h1v1h-1zM96 2h2v1h-2zM103 2h2v1h-2zM111 2h1v1h-1zM135 2h2v1h-2zM170 2h1v1h-1zM179 2h1v1h-1zM181 2h1v1h-1zM183 2h1v1h-1zM201 2h1v1h-1zM218 2h2v1h-2zM221 2h4v1h-4zM0 3h1v1h-1zM2 3h1v1h-1zM13 3h2v1h-2zM17 3h2v1h-2zM20 3h1v1h-1zM22 3h1v1h-1zM27 3h1v1h-1zM31 3h1v1h-1zM41 3h3v1h-3zM51 3h1v1h-1zM57 3h1v1h-1zM59 3h2v1h-2zM62 3h1v1h-1zM71 3h2v1h-2zM83 3h1v1h-1zM87 3h1v1h-1zM96 3h1v1h-1zM98 3h1v1h-1zM100 3h1v1h-1zM108 3h1v1h-1zM115 3h1v1h-1zM120 3h3v1h-3zM124 3h1v1h-1zM127 3h1v1h-1zM144 3h1v1h-1zM150 3h1v1h-1zM159 3h4v1h-4zM164 3h1v1h-1zM169 3h2v1h-2zM172 3h1v1h-1zM175 3h1v1h-1zM179 3h1v1h-1zM185 3h1v1h-1zM193 3h1v1h-1zM207 3h1v1h-1zM2 4h2v1h-2zM7 4h1v1h-1zM10 4h1v1h-1zM14 4h2v1h-2zM20 4h1v1h-1zM27 4h1v1h-1zM30 4h1v1h-1zM42 4h1v1h-1zM46 4h1v1h-1zM51 4h1v1h-1zM56 4h1v1h-1zM62 4h1v1h-1zM115 4h1v1h-1zM119 4h2v1h-2zM124 4h1v1h-1zM143 4h2v1h-2zM158 4h1v1h-1zM160 4h1v1h-1zM163 4h1v1h-1zM165 4h2v1h-2zM170 4h1v1h-1zM172 4h2v1h-2zM175 4h1v1h-1zM177 4h1v1h-1zM179 4h1v1h-1zM184 4h2v1h-2zM196 4h3v1h-3zM201 4h1v1h-1zM208 4h1v1h-1zM0 5h1v1h-1zM2 5h2v1h-2zM5 5h1v1h-1zM7 5h1v1h-1zM10 5h1v1h-1zM14 5h2v1h-2zM19 5h2v1h-2zM27 5h1v1h-1zM31 5h1v1h-1zM34 5h1v1h-1zM41 5h2v1h-2zM44 5h1v1h-1zM51 5h1v1h-1zM53 5h1v1h-1zM71 5h2v1h-2zM74 5h1v1h-1zM76 5h1v1h-1zM79 5h1v1h-1zM81 5h1v1h-1zM83 5h2v1h-2zM87 5h1v1h-1zM89 5h1v1h-1zM100 5h1v1h-1zM104 5h1v1h-1zM115 5h1v1h-1zM121 5h2v1h-2zM147 5h1v1h-1zM157 5h1v1h-1zM161 5h1v1h-1zM165 5h1v1h-1zM169 5h1v1h-1zM175 5h1v1h-1zM177 5h1v1h-1zM181 5h1v1h-1zM185 5h1v1h-1zM193 5h1v1h-1zM196 5h1v1h-1zM200 5h1v1h-1zM56 6h1v1h-1zM76 6h1v1h-1zM102 6h1v1h-1zM106 6h1v1h-1zM124 6h1v1h-1zM126 6h1v1h-1zM133 6h1v1h-1zM137 6h1v1h-1zM143 6h1v1h-1zM146 6h2v1h-2zM152 6h1v1h-1zM155 6h1v1h-1zM167 6h1v1h-1zM172 6h1v1h-1zM177 6h1v1h-1zM180 6h1v1h-1zM183 6h2v1h-2zM192 6h2v1h-2zM195 6h1v1h-1zM197 6h4v1h-4zM202 6h1v1h-1zM205 6h2v1h-2zM208 6h1v1h-1zM210 6h1v1h-1zM212 6h1v1h-1zM214 6h1v1h-1zM216 6h1v1h-1zM218 6h2v1h-2zM222 6h1v1h-1zM224 6h1v1h-1zM2 7h1v1h-1zM50 7h1v1h-1zM56 7h1v1h-1zM76 7h1v1h-1zM94 7h1v1h-1zM106 7h1v1h-1zM124 7h1v1h-1zM126 7h1v1h-1zM137 7h1v1h-1zM140 7h1v1h-1zM146 7h1v1h-1zM152 7h1v1h-1zM155 7h1v1h-1zM160 7h2v1h-2zM172 7h2v1h-2zM177 7h1v1h-1zM180 7h1v1h-1zM183 7h1v1h-1zM187 7h2v1h-2zM192 7h1v1h-1zM195 7h1v1h-1zM197 7h2v1h-2zM200 7h1v1h-1zM202 7h1v1h-1zM205 7h1v1h-1zM208 7h1v1h-1zM210 7h3v1h-3zM216 7h1v1h-1zM218 7h2v1h-2zM54 8h1v1h-1zM56 8h1v1h-1zM59 8h1v1h-1zM72 8h1v1h-1zM76 8h1v1h-1zM100 8h1v1h-1zM102 8h1v1h-1zM106 8h1v1h-1zM121 8h1v1h-1zM124 8h1v1h-1zM126 8h1v1h-1zM130 8h1v1h-1zM140 8h1v1h-1zM146 8h1v1h-1zM152 8h1v1h-1zM155 8h1v1h-1zM161 8h1v1h-1zM167 8h1v1h-1zM172 8h2v1h-2zM183 8h1v1h-1zM186 8h2v1h-2zM192 8h1v1h-1zM195 8h1v1h-1zM197 8h2v1h-2zM200 8h1v1h-1zM202 8h1v1h-1zM205 8h2v1h-2zM208 8h1v1h-1zM210 8h1v1h-1zM212 8h1v1h-1zM215 8h2v1h-2zM218 8h2v1h-2zM222 8h1v1h-1zM54 9h1v1h-1zM59 9h1v1h-1zM98 9h1v1h-1zM102 9h1v1h-1zM133 9h1v1h-1zM139 9h1v1h-1zM146 9h2v1h-2zM149 9h1v1h-1zM152 9h1v1h-1zM155 9h1v1h-1zM166 9h2v1h-2zM172 9h1v1h-1zM175 9h1v1h-1zM177 9h1v1h-1zM183 9h2v1h-2zM186 9h3v1h-3zM190 9h1v1h-1zM192 9h4v1h-4zM197 9h4v1h-4zM202 9h1v1h-1zM205 9h1v1h-1zM208 9h1v1h-1zM210 9h3v1h-3zM216 9h1v1h-1zM218 9h2v1h-2zM222 9h1v1h-1zM40 10h1v1h-1zM63 10h1v1h-1zM72 10h1v1h-1zM76 10h1v1h-1zM98 10h1v1h-1zM106 10h1v1h-1zM124 10h1v1h-1zM126 10h1v1h-1zM130 10h2v1h-2zM133 10h1v1h-1zM139 10h2v1h-2zM143 10h1v1h-1zM146 10h1v1h-1zM149 10h1v1h-1zM152 10h1v1h-1zM155 10h1v1h-1zM167 10h1v1h-1zM172 10h1v1h-1zM176 10h2v1h-2zM183 10h1v1h-1zM186 10h1v1h-1zM190 10h4v1h-4zM195 10h1v1h-1zM197 10h4v1h-4zM202 10h1v1h-1zM205 10h1v1h-1zM208 10h1v1h-1zM210 10h3v1h-3zM216 10h1v1h-1zM218 10h2v1h-2zM222 10h1v1h-1zM77 11h1v1h-1zM81 11h1v1h-1zM93 11h1v1h-1zM109 11h1v1h-1zM121 11h1v1h-1zM124 11h1v1h-1zM131 11h1v1h-1zM135 11h1v1h-1zM138 11h1v1h-1zM141 11h1v1h-1zM147 11h1v1h-1zM151 11h1v1h-1zM156 11h1v1h-1zM161 11h2v1h-2zM164 11h1v1h-1zM166 11h1v1h-1zM168 11h1v1h-1zM171 11h2v1h-2zM175 11h2v1h-2zM179 11h1v1h-1zM183 11h2v1h-2zM186 11h2v1h-2zM190 11h1v1h-1zM196 11h1v1h-1zM199 11h1v1h-1zM203 11h1v1h-1zM205 11h1v1h-1zM210 11h2v1h-2zM213 11h3v1h-3zM217 11h2v1h-2zM220 11h1v1h-1zM222 11h1v1h-1zM44 12h1v1h-1zM57 12h1v1h-1zM79 12h1v1h-1zM83 12h1v1h-1zM90 12h1v1h-1zM121 12h1v1h-1zM131 12h1v1h-1zM133 12h1v1h-1zM135 12h2v1h-2zM144 12h1v1h-1zM151 12h1v1h-1zM156 12h1v1h-1zM159 12h1v1h-1zM161 12h1v1h-1zM164 12h1v1h-1zM166 12h1v1h-1zM168 12h1v1h-1zM171 12h2v1h-2zM175 12h2v1h-2zM178 12h2v1h-2zM184 12h1v1h-1zM186 12h1v1h-1zM190 12h2v1h-2zM195 12h2v1h-2zM199 12h2v1h-2zM203 12h6v1h-6zM210 12h4v1h-4zM215 12h1v1h-1zM217 12h2v1h-2zM222 12h3v1h-3zM31 13h1v1h-1zM43 13h1v1h-1zM57 13h1v1h-1zM79 13h1v1h-1zM83 13h1v1h-1zM122 13h1v1h-1zM124 13h1v1h-1zM131 13h1v1h-1zM134 13h2v1h-2zM138 13h1v1h-1zM141 13h1v1h-1zM144 13h1v1h-1zM149 13h1v1h-1zM151 13h1v1h-1zM156 13h1v1h-1zM171 13h1v1h-1zM175 13h2v1h-2zM178 13h1v1h-1zM183 13h2v1h-2zM186 13h1v1h-1zM196 13h1v1h-1zM199 13h1v1h-1zM203 13h1v1h-1zM205 13h1v1h-1zM208 13h1v1h-1zM210 13h3v1h-3zM217 13h2v1h-2zM221 13h1v1h-1zM224 13h1v1h-1zM27 14h1v1h-1zM50 14h1v1h-1zM77 14h1v1h-1zM96 14h1v1h-1zM124 14h1v1h-1zM138 14h1v1h-1zM143 14h1v1h-1zM159 14h1v1h-1zM161 14h1v1h-1zM168 14h1v1h-1zM171 14h1v1h-1zM175 14h2v1h-2zM178 14h2v1h-2zM183 14h2v1h-2zM186 14h1v1h-1zM190 14h2v1h-2zM195 14h2v1h-2zM199 14h1v1h-1zM203 14h3v1h-3zM207 14h1v1h-1zM210 14h3v1h-3zM215 14h1v1h-1zM218 14h2v1h-2zM222 14h2v1h-2zM61 15h1v1h-1zM93 15h1v1h-1zM121 15h1v1h-1zM124 15h1v1h-1zM131 15h1v1h-1zM135 15h1v1h-1zM137 15h2v1h-2zM141 15h1v1h-1zM156 15h1v1h-1zM159 15h3v1h-3zM171 15h1v1h-1zM175 15h2v1h-2zM178 15h1v1h-1zM190 15h2v1h-2zM203 15h1v1h-1zM207 15h2v1h-2zM210 15h6v1h-6zM217 15h2v1h-2zM221 15h3v1h-3zM77 16h1v1h-1zM99 16h1v1h-1zM109 16h1v1h-1zM122 16h1v1h-1zM124 16h1v1h-1zM131 16h1v1h-1zM134 16h1v1h-1zM138 16h1v1h-1zM141 16h1v1h-1zM149 16h1v1h-1zM156 16h1v1h-1zM159 16h1v1h-1zM161 16h1v1h-1zM164 16h1v1h-1zM169 16h1v1h-1zM171 16h2v1h-2zM176 16h1v1h-1zM183 16h2v1h-2zM186 16h1v1h-1zM190 16h2v1h-2zM199 16h1v1h-1zM203 16h3v1h-3zM210 16h1v1h-1zM212 16h4v1h-4zM217 16h3v1h-3zM221 16h2v1h-2zM38 17h1v1h-1zM58 17h1v1h-1zM61 17h1v1h-1zM83 17h1v1h-1zM93 17h1v1h-1zM119 17h1v1h-1zM121 17h1v1h-1zM124 17h1v1h-1zM128 17h1v1h-1zM131 17h1v1h-1zM135 17h2v1h-2zM138 17h1v1h-1zM149 17h1v1h-1zM156 17h1v1h-1zM159 17h1v1h-1zM161 17h2v1h-2zM165 17h1v1h-1zM168 17h2v1h-2zM171 17h2v1h-2zM175 17h2v1h-2zM178 17h2v1h-2zM182 17h3v1h-3zM186 17h1v1h-1zM190 17h2v1h-2zM195 17h2v1h-2zM198 17h2v1h-2zM203 17h3v1h-3zM207 17h2v1h-2zM210 17h6v1h-6zM217 17h3v1h-3zM222 17h1v1h-1zM14 18h1v1h-1zM19 18h1v1h-1zM27 18h2v1h-2zM30 18h2v1h-2zM33 18h2v1h-2zM38 18h1v1h-1zM42 18h1v1h-1zM44 18h1v1h-1zM47 18h1v1h-1zM51 18h1v1h-1zM54 18h1v1h-1zM65 18h3v1h-3zM70 18h1v1h-1zM73 18h2v1h-2zM76 18h1v1h-1zM79 18h2v1h-2zM90 18h1v1h-1zM100 18h2v1h-2zM106 18h1v1h-1zM110 18h1v1h-1zM112 18h2v1h-2zM126 18h1v1h-1zM131 18h3v1h-3zM140 18h1v1h-1zM148 18h2v1h-2zM154 18h1v1h-1zM165 18h1v1h-1zM168 18h1v1h-1zM174 18h1v1h-1zM178 18h1v1h-1zM180 18h1v1h-1zM185 18h1v1h-1zM198 18h1v1h-1zM211 18h2v1h-2zM216 18h2v1h-2zM18 19h1v1h-1zM35 19h1v1h-1zM41 19h1v1h-1zM44 19h1v1h-1zM47 19h2v1h-2zM51 19h1v1h-1zM53 19h1v1h-1zM65 19h1v1h-1zM70 19h1v1h-1zM76 19h2v1h-2zM87 19h1v1h-1zM94 19h1v1h-1zM99 19h1v1h-1zM101 19h1v1h-1zM104 19h2v1h-2zM107 19h1v1h-1zM109 19h1v1h-1zM114 19h1v1h-1zM122 19h1v1h-1zM138 19h1v1h-1zM143 19h1v1h-1zM150 19h1v1h-1zM158 19h1v1h-1zM167 19h2v1h-2zM171 19h1v1h-1zM174 19h1v1h-1zM182 19h1v1h-1zM184 19h1v1h-1zM15 20h1v1h-1zM18 20h1v1h-1zM21 20h2v1h-2zM26 20h3v1h-3zM35 20h1v1h-1zM41 20h1v1h-1zM44 20h1v1h-1zM47 20h1v1h-1zM51 20h1v1h-1zM53 20h1v1h-1zM58 20h1v1h-1zM64 20h4v1h-4zM71 20h1v1h-1zM77 20h2v1h-2zM87 20h1v1h-1zM90 20h1v1h-1zM95 20h1v1h-1zM97 20h1v1h-1zM99 20h1v1h-1zM101 20h1v1h-1zM104 20h2v1h-2zM114 20h1v1h-1zM122 20h1v1h-1zM138 20h1v1h-1zM145 20h1v1h-1zM150 20h1v1h-1zM155 20h1v1h-1zM157 20h2v1h-2zM167 20h3v1h-3zM171 20h1v1h-1zM174 20h1v1h-1zM182 20h1v1h-1zM184 20h1v1h-1zM223 20h1v1h-1zM18 21h1v1h-1zM21 21h1v1h-1zM26 21h2v1h-2zM35 21h1v1h-1zM44 21h2v1h-2zM47 21h2v1h-2zM51 21h3v1h-3zM65 21h3v1h-3zM77 21h2v1h-2zM87 21h1v1h-1zM90 21h1v1h-1zM95 21h1v1h-1zM97 21h1v1h-1zM99 21h3v1h-3zM104 21h2v1h-2zM107 21h1v1h-1zM109 21h1v1h-1zM113 21h2v1h-2zM138 21h1v1h-1zM142 21h1v1h-1zM145 21h1v1h-1zM149 21h2v1h-2zM157 21h2v1h-2zM160 21h1v1h-1zM165 21h1v1h-1zM167 21h2v1h-2zM182 21h1v1h-1zM184 21h1v1h-1zM197 21h1v1h-1zM4 22h1v1h-1zM18 22h1v1h-1zM26 22h2v1h-2zM41 22h1v1h-1zM45 22h1v1h-1zM48 22h1v1h-1zM51 22h3v1h-3zM63 22h1v1h-1zM65 22h2v1h-2zM71 22h1v1h-1zM77 22h1v1h-1zM83 22h1v1h-1zM87 22h1v1h-1zM95 22h1v1h-1zM97 22h1v1h-1zM99 22h3v1h-3zM104 22h2v1h-2zM107 22h3v1h-3zM113 22h2v1h-2zM117 22h1v1h-1zM145 22h1v1h-1zM150 22h1v1h-1zM157 22h2v1h-2zM165 22h1v1h-1zM167 22h3v1h-3zM182 22h1v1h-1zM184 22h1v1h-1zM205 22h1v1h-1zM14 23h1v1h-1zM18 23h1v1h-1zM21 23h1v1h-1zM26 23h1v1h-1zM35 23h1v1h-1zM44 23h1v1h-1zM47 23h2v1h-2zM51 23h1v1h-1zM62 23h1v1h-1zM65 23h3v1h-3zM77 23h2v1h-2zM83 23h2v1h-2zM87 23h1v1h-1zM90 23h1v1h-1zM99 23h3v1h-3zM105 23h1v1h-1zM107 23h1v1h-1zM109 23h1v1h-1zM113 23h2v1h-2zM138 23h1v1h-1zM142 23h1v1h-1zM145 23h1v1h-1zM154 23h1v1h-1zM157 23h2v1h-2zM165 23h1v1h-1zM167 23h2v1h-2zM170 23h1v1h-1zM174 23h1v1h-1zM182 23h1v1h-1zM184 23h1v1h-1zM186 23h1v1h-1zM5 24h1v1h-1zM18 24h1v1h-1zM21 24h1v1h-1zM26 24h2v1h-2zM41 24h1v1h-1zM44 24h1v1h-1zM47 24h1v1h-1zM49 24h1v1h-1zM51 24h3v1h-3zM63 24h1v1h-1zM65 24h2v1h-2zM71 24h1v1h-1zM77 24h3v1h-3zM95 24h1v1h-1zM97 24h3v1h-3zM101 24h1v1h-1zM105 24h1v1h-1zM107 24h1v1h-1zM114 24h1v1h-1zM138 24h1v1h-1zM145 24h1v1h-1zM150 24h1v1h-1zM154 24h1v1h-1zM157 24h2v1h-2zM167 24h3v1h-3zM174 24h1v1h-1zM182 24h1v1h-1zM184 24h1v1h-1zM186 24h1v1h-1zM205 24h1v1h-1zM5 25h1v1h-1zM21 25h1v1h-1zM26 25h1v1h-1zM41 25h1v1h-1zM44 25h1v1h-1zM47 25h1v1h-1zM51 25h3v1h-3zM65 25h1v1h-1zM77 25h3v1h-3zM83 25h2v1h-2zM87 25h1v1h-1zM90 25h1v1h-1zM95 25h1v1h-1zM97 25h1v1h-1zM99 25h3v1h-3zM104 25h2v1h-2zM107 25h1v1h-1zM109 25h1v1h-1zM138 25h1v1h-1zM143 25h1v1h-1zM145 25h1v1h-1zM149 25h2v1h-2zM157 25h2v1h-2zM167 25h3v1h-3zM171 25h1v1h-1zM174 25h1v1h-1zM184 25h1v1h-1zM22 26h1v1h-1zM27 26h1v1h-1zM35 26h1v1h-1zM41 26h1v1h-1zM44 26h5v1h-5zM51 26h1v1h-1zM53 26h1v1h-1zM57 26h2v1h-2zM62 26h1v1h-1zM64 26h4v1h-4zM70 26h2v1h-2zM77 26h3v1h-3zM83 26h1v1h-1zM87 26h1v1h-1zM95 26h1v1h-1zM97 26h1v1h-1zM99 26h3v1h-3zM104 26h2v1h-2zM107 26h1v1h-1zM109 26h1v1h-1zM138 26h2v1h-2zM143 26h1v1h-1zM145 26h1v1h-1zM150 26h1v1h-1zM157 26h1v1h-1zM167 26h2v1h-2zM171 26h1v1h-1zM174 26h1v1h-1zM184 26h1v1h-1zM206 26h1v1h-1zM16 27h1v1h-1zM18 27h1v1h-1zM24 27h1v1h-1zM31 27h2v1h-2zM35 27h1v1h-1zM37 27h1v1h-1zM42 27h1v1h-1zM44 27h1v1h-1zM57 27h1v1h-1zM62 27h1v1h-1zM69 27h1v1h-1zM84 27h1v1h-1zM86 27h1v1h-1zM90 27h1v1h-1zM93 27h1v1h-1zM96 27h1v1h-1zM99 27h1v1h-1zM109 27h1v1h-1zM112 27h1v1h-1zM114 27h1v1h-1zM122 27h1v1h-1zM135 27h1v1h-1zM144 27h2v1h-2zM150 27h1v1h-1zM158 27h1v1h-1zM161 27h1v1h-1zM169 27h1v1h-1zM176 27h1v1h-1zM181 27h1v1h-1zM184 27h2v1h-2zM203 27h1v1h-1zM213 27h1v1h-1zM217 27h1v1h-1zM220 27h1v1h-1zM18 28h1v1h-1zM26 28h2v1h-2zM31 28h1v1h-1zM44 28h1v1h-1zM57 28h1v1h-1zM77 28h1v1h-1zM79 28h1v1h-1zM84 28h3v1h-3zM90 28h1v1h-1zM96 28h1v1h-1zM103 28h1v1h-1zM112 28h1v1h-1zM129 28h1v1h-1zM135 28h2v1h-2zM144 28h2v1h-2zM158 28h1v1h-1zM162 28h1v1h-1zM166 28h1v1h-1zM170 28h1v1h-1zM181 28h1v1h-1zM185 28h1v1h-1zM187 28h1v1h-1zM203 28h2v1h-2zM209 28h1v1h-1zM213 28h2v1h-2zM217 28h1v1h-1zM219 28h2v1h-2zM16 29h1v1h-1zM21 29h1v1h-1zM24 29h1v1h-1zM31 29h2v1h-2zM37 29h1v1h-1zM44 29h1v1h-1zM84 29h1v1h-1zM86 29h1v1h-1zM90 29h1v1h-1zM96 29h1v1h-1zM99 29h1v1h-1zM103 29h1v1h-1zM112 29h1v1h-1zM125 29h1v1h-1zM133 29h1v1h-1zM135 29h2v1h-2zM141 29h1v1h-1zM144 29h1v1h-1zM150 29h1v1h-1zM158 29h1v1h-1zM166 29h1v1h-1zM181 29h1v1h-1zM185 29h1v1h-1zM191 29h1v1h-1zM196 29h1v1h-1zM203 29h1v1h-1zM213 29h1v1h-1zM217 29h1v1h-1zM221 29h1v1h-1zM18 30h1v1h-1zM21 30h1v1h-1zM24 30h1v1h-1zM26 30h1v1h-1zM30 30h3v1h-3zM34 30h1v1h-1zM44 30h2v1h-2zM49 30h1v1h-1zM51 30h1v1h-1zM56 30h2v1h-2zM69 30h2v1h-2zM77 30h1v1h-1zM79 30h1v1h-1zM85 30h2v1h-2zM90 30h1v1h-1zM93 30h1v1h-1zM96 30h1v1h-1zM99 30h1v1h-1zM103 30h2v1h-2zM133 30h1v1h-1zM135 30h1v1h-1zM144 30h2v1h-2zM166 30h1v1h-1zM170 30h1v1h-1zM174 30h1v1h-1zM181 30h1v1h-1zM185 30h1v1h-1zM203 30h1v1h-1zM217 30h1v1h-1zM220 30h2v1h-2zM7 31h1v1h-1zM16 31h1v1h-1zM18 31h2v1h-2zM24 31h1v1h-1zM26 31h1v1h-1zM31 31h2v1h-2zM34 31h2v1h-2zM37 31h1v1h-1zM42 31h1v1h-1zM44 31h1v1h-1zM57 31h1v1h-1zM70 31h1v1h-1zM77 31h1v1h-1zM96 31h1v1h-1zM99 31h1v1h-1zM104 31h1v1h-1zM112 31h1v1h-1zM114 31h1v1h-1zM135 31h2v1h-2zM144 31h2v1h-2zM150 31h1v1h-1zM158 31h1v1h-1zM162 31h1v1h-1zM170 31h1v1h-1zM174 31h1v1h-1zM181 31h1v1h-1zM185 31h1v1h-1zM191 31h1v1h-1zM203 31h1v1h-1zM213 31h1v1h-1zM217 31h1v1h-1zM16 32h1v1h-1zM18 32h1v1h-1zM21 32h1v1h-1zM24 32h1v1h-1zM31 32h2v1h-2zM37 32h1v1h-1zM41 32h2v1h-2zM45 32h1v1h-1zM57 32h1v1h-1zM69 32h2v1h-2zM84 32h3v1h-3zM90 32h1v1h-1zM99 32h1v1h-1zM103 32h1v1h-1zM112 32h1v1h-1zM128 32h1v1h-1zM133 32h1v1h-1zM135 32h2v1h-2zM138 32h1v1h-1zM144 32h1v1h-1zM158 32h1v1h-1zM166 32h1v1h-1zM170 32h1v1h-1zM174 32h1v1h-1zM176 32h1v1h-1zM181 32h1v1h-1zM185 32h1v1h-1zM188 32h1v1h-1zM203 32h1v1h-1zM217 32h1v1h-1zM219 32h2v1h-2zM16 33h1v1h-1zM18 33h1v1h-1zM21 33h1v1h-1zM24 33h1v1h-1zM26 33h1v1h-1zM31 33h2v1h-2zM37 33h1v1h-1zM42 33h1v1h-1zM44 33h1v1h-1zM48 33h1v1h-1zM51 33h1v1h-1zM57 33h1v1h-1zM60 33h1v1h-1zM69 33h1v1h-1zM77 33h1v1h-1zM79 33h1v1h-1zM86 33h1v1h-1zM90 33h1v1h-1zM99 33h1v1h-1zM112 33h1v1h-1zM122 33h1v1h-1zM135 33h1v1h-1zM138 33h1v1h-1zM144 33h2v1h-2zM166 33h1v1h-1zM170 33h1v1h-1zM174 33h1v1h-1zM181 33h1v1h-1zM185 33h1v1h-1zM191 33h1v1h-1zM203 33h1v1h-1zM214 33h1v1h-1zM217 33h1v1h-1zM220 33h2v1h-2zM16 34h1v1h-1zM18 34h1v1h-1zM21 34h1v1h-1zM24 34h1v1h-1zM31 34h1v1h-1zM34 34h1v1h-1zM42 34h1v1h-1zM45 34h1v1h-1zM48 34h1v1h-1zM57 34h1v1h-1zM60 34h1v1h-1zM69 34h1v1h-1zM77 34h1v1h-1zM86 34h1v1h-1zM90 34h1v1h-1zM99 34h1v1h-1zM103 34h1v1h-1zM109 34h1v1h-1zM112 34h1v1h-1zM135 34h2v1h-2zM144 34h2v1h-2zM150 34h1v1h-1zM166 34h1v1h-1zM181 34h1v1h-1zM185 34h1v1h-1zM191 34h1v1h-1zM203 34h1v1h-1zM217 34h1v1h-1zM221 34h1v1h-1zM13 35h1v1h-1zM16 35h1v1h-1zM30 35h3v1h-3zM42 35h1v1h-1zM44 35h2v1h-2zM56 35h2v1h-2zM60 35h1v1h-1zM62 35h1v1h-1zM69 35h1v1h-1zM77 35h1v1h-1zM79 35h1v1h-1zM84 35h3v1h-3zM90 35h1v1h-1zM96 35h1v1h-1zM99 35h1v1h-1zM103 35h1v1h-1zM112 35h1v1h-1zM122 35h1v1h-1zM135 35h2v1h-2zM145 35h1v1h-1zM158 35h1v1h-1zM166 35h1v1h-1zM170 35h1v1h-1zM174 35h1v1h-1zM181 35h1v1h-1zM187 35h1v1h-1zM203 35h2v1h-2zM213 35h1v1h-1zM217 35h1v1h-1zM220 35h1v1h-1zM18 36h1v1h-1zM31 36h2v1h-2zM56 36h2v1h-2zM86 36h1v1h-1zM99 36h1v1h-1zM103 36h1v1h-1zM112 36h1v1h-1zM143 36h3v1h-3zM150 36h1v1h-1zM158 36h1v1h-1zM161 36h1v1h-1zM170 36h1v1h-1zM174 36h1v1h-1zM176 36h1v1h-1zM181 36h1v1h-1zM185 36h1v1h-1zM191 36h1v1h-1zM217 36h1v1h-1zM220 36h1v1h-1zM15 37h1v1h-1zM18 37h2v1h-2zM27 37h2v1h-2zM32 37h4v1h-4zM37 37h1v1h-1zM39 37h2v1h-2zM47 37h3v1h-3zM57 37h2v1h-2zM61 37h1v1h-1zM64 37h1v1h-1zM71 37h1v1h-1zM73 37h1v1h-1zM77 37h1v1h-1zM79 37h1v1h-1zM85 37h1v1h-1zM87 37h2v1h-2zM90 37h2v1h-2zM93 37h1v1h-1zM99 37h1v1h-1zM103 37h2v1h-2zM110 37h2v1h-2zM115 37h1v1h-1zM123 37h2v1h-2zM140 37h1v1h-1zM145 37h1v1h-1zM148 37h1v1h-1zM157 37h2v1h-2zM162 37h1v1h-1zM164 37h1v1h-1zM166 37h1v1h-1zM170 37h1v1h-1zM174 37h1v1h-1zM178 37h1v1h-1zM184 37h1v1h-1zM191 37h1v1h-1zM196 37h1v1h-1zM18 38h2v1h-2zM26 38h3v1h-3zM33 38h2v1h-2zM37 38h1v1h-1zM42 38h1v1h-1zM57 38h1v1h-1zM61 38h1v1h-1zM73 38h1v1h-1zM77 38h1v1h-1zM81 38h1v1h-1zM90 38h1v1h-1zM99 38h1v1h-1zM102 38h3v1h-3zM108 38h1v1h-1zM110 38h1v1h-1zM112 38h1v1h-1zM115 38h1v1h-1zM124 38h1v1h-1zM131 38h3v1h-3zM140 38h1v1h-1zM145 38h1v1h-1zM148 38h1v1h-1zM157 38h1v1h-1zM162 38h1v1h-1zM164 38h1v1h-1zM166 38h1v1h-1zM169 38h2v1h-2zM174 38h1v1h-1zM178 38h1v1h-1zM184 38h1v1h-1zM4 39h1v1h-1zM18 39h2v1h-2zM27 39h2v1h-2zM30 39h1v1h-1zM32 39h1v1h-1zM34 39h1v1h-1zM37 39h1v1h-1zM39 39h1v1h-1zM44 39h2v1h-2zM47 39h1v1h-1zM57 39h1v1h-1zM64 39h1v1h-1zM68 39h1v1h-1zM75 39h1v1h-1zM81 39h1v1h-1zM83 39h5v1h-5zM90 39h1v1h-1zM93 39h1v1h-1zM97 39h1v1h-1zM99 39h1v1h-1zM102 39h1v1h-1zM104 39h1v1h-1zM109 39h2v1h-2zM124 39h1v1h-1zM131 39h1v1h-1zM133 39h1v1h-1zM140 39h1v1h-1zM145 39h1v1h-1zM157 39h3v1h-3zM162 39h1v1h-1zM164 39h1v1h-1zM166 39h1v1h-1zM170 39h1v1h-1zM174 39h1v1h-1zM178 39h1v1h-1zM184 39h1v1h-1zM196 39h1v1h-1zM1 40h1v1h-1zM7 40h1v1h-1zM15 40h1v1h-1zM18 40h2v1h-2zM27 40h2v1h-2zM30 40h1v1h-1zM32 40h3v1h-3zM37 40h1v1h-1zM39 40h1v1h-1zM44 40h1v1h-1zM47 40h1v1h-1zM49 40h1v1h-1zM64 40h1v1h-1zM68 40h1v1h-1zM71 40h1v1h-1zM73 40h1v1h-1zM83 40h1v1h-1zM85 40h1v1h-1zM87 40h2v1h-2zM90 40h1v1h-1zM93 40h1v1h-1zM102 40h1v1h-1zM104 40h1v1h-1zM110 40h1v1h-1zM124 40h1v1h-1zM131 40h1v1h-1zM140 40h1v1h-1zM145 40h1v1h-1zM158 40h1v1h-1zM162 40h1v1h-1zM164 40h1v1h-1zM166 40h1v1h-1zM170 40h1v1h-1zM174 40h1v1h-1zM178 40h1v1h-1zM184 40h1v1h-1zM189 40h1v1h-1zM196 40h1v1h-1zM15 41h1v1h-1zM18 41h2v1h-2zM22 41h1v1h-1zM26 41h2v1h-2zM30 41h1v1h-1zM32 41h1v1h-1zM34 41h1v1h-1zM37 41h1v1h-1zM39 41h1v1h-1zM44 41h2v1h-2zM47 41h1v1h-1zM51 41h1v1h-1zM57 41h1v1h-1zM61 41h1v1h-1zM68 41h1v1h-1zM71 41h1v1h-1zM81 41h1v1h-1zM83 41h1v1h-1zM85 41h1v1h-1zM87 41h2v1h-2zM90 41h2v1h-2zM94 41h1v1h-1zM97 41h1v1h-1zM102 41h1v1h-1zM104 41h1v1h-1zM109 41h2v1h-2zM123 41h2v1h-2zM139 41h2v1h-2zM145 41h1v1h-1zM157 41h1v1h-1zM162 41h2v1h-2zM166 41h1v1h-1zM173 41h1v1h-1zM178 41h1v1h-1zM184 41h1v1h-1zM191 41h1v1h-1zM1 42h1v1h-1zM7 42h1v1h-1zM15 42h1v1h-1zM18 42h2v1h-2zM26 42h3v1h-3zM30 42h1v1h-1zM32 42h3v1h-3zM39 42h1v1h-1zM42 42h1v1h-1zM44 42h2v1h-2zM47 42h1v1h-1zM51 42h1v1h-1zM64 42h1v1h-1zM71 42h1v1h-1zM73 42h1v1h-1zM77 42h1v1h-1zM83 42h1v1h-1zM85 42h1v1h-1zM87 42h1v1h-1zM90 42h1v1h-1zM97 42h1v1h-1zM99 42h1v1h-1zM102 42h1v1h-1zM104 42h1v1h-1zM110 42h2v1h-2zM116 42h1v1h-1zM133 42h1v1h-1zM162 42h1v1h-1zM164 42h1v1h-1zM166 42h1v1h-1zM174 42h1v1h-1zM178 42h1v1h-1zM184 42h1v1h-1zM18 43h2v1h-2zM24 43h1v1h-1zM27 43h2v1h-2zM30 43h1v1h-1zM32 43h1v1h-1zM34 43h1v1h-1zM37 43h1v1h-1zM39 43h1v1h-1zM44 43h2v1h-2zM47 43h1v1h-1zM57 43h1v1h-1zM71 43h1v1h-1zM73 43h1v1h-1zM77 43h1v1h-1zM81 43h1v1h-1zM85 43h1v1h-1zM88 43h1v1h-1zM90 43h2v1h-2zM93 43h2v1h-2zM97 43h1v1h-1zM99 43h1v1h-1zM102 43h1v1h-1zM104 43h1v1h-1zM109 43h2v1h-2zM124 43h1v1h-1zM131 43h1v1h-1zM133 43h2v1h-2zM140 43h2v1h-2zM157 43h2v1h-2zM162 43h1v1h-1zM164 43h1v1h-1zM166 43h1v1h-1zM174 43h1v1h-1zM178 43h1v1h-1zM184 43h1v1h-1zM1 44h1v1h-1zM7 44h1v1h-1zM13 44h1v1h-1zM15 44h1v1h-1zM18 44h2v1h-2zM24 44h1v1h-1zM27 44h1v1h-1zM30 44h1v1h-1zM32 44h1v1h-1zM34 44h1v1h-1zM37 44h1v1h-1zM39 44h1v1h-1zM42 44h1v1h-1zM44 44h1v1h-1zM57 44h1v1h-1zM64 44h1v1h-1zM68 44h1v1h-1zM71 44h1v1h-1zM81 44h1v1h-1zM87 44h2v1h-2zM90 44h2v1h-2zM97 44h1v1h-1zM99 44h1v1h-1zM102 44h1v1h-1zM104 44h1v1h-1zM124 44h1v1h-1zM133 44h2v1h-2zM140 44h1v1h-1zM145 44h1v1h-1zM157 44h2v1h-2zM162 44h1v1h-1zM164 44h1v1h-1zM166 44h1v1h-1zM174 44h1v1h-1zM178 44h1v1h-1zM196 44h1v1h-1zM2 45h1v1h-1zM16 45h1v1h-1zM18 45h1v1h-1zM25 45h1v1h-1zM27 45h1v1h-1zM32 45h2v1h-2zM47 45h1v1h-1zM53 45h1v1h-1zM55 45h1v1h-1zM84 45h1v1h-1zM89 45h1v1h-1zM103 45h1v1h-1zM113 45h1v1h-1zM117 45h1v1h-1zM122 45h1v1h-1zM128 45h1v1h-1zM131 45h2v1h-2zM142 45h2v1h-2zM145 45h1v1h-1zM147 45h1v1h-1zM162 45h1v1h-1zM166 45h1v1h-1zM178 45h1v1h-1zM189 45h1v1h-1zM191 45h2v1h-2zM215 45h1v1h-1zM16 46h1v1h-1zM18 46h3v1h-3zM22 46h1v1h-1zM25 46h1v1h-1zM27 46h1v1h-1zM32 46h4v1h-4zM42 46h1v1h-1zM47 46h1v1h-1zM55 46h1v1h-1zM62 46h1v1h-1zM67 46h1v1h-1zM85 46h1v1h-1zM89 46h1v1h-1zM93 46h1v1h-1zM103 46h1v1h-1zM105 46h2v1h-2zM111 46h1v1h-1zM120 46h1v1h-1zM132 46h1v1h-1zM142 46h1v1h-1zM145 46h1v1h-1zM149 46h3v1h-3zM159 46h1v1h-1zM163 46h1v1h-1zM165 46h2v1h-2zM179 46h1v1h-1zM186 46h1v1h-1zM188 46h2v1h-2zM191 46h2v1h-2zM195 46h1v1h-1zM215 46h1v1h-1zM220 46h1v1h-1zM224 46h1v1h-1zM5 47h1v1h-1zM11 47h1v1h-1zM16 47h1v1h-1zM18 47h3v1h-3zM22 47h2v1h-2zM25 47h1v1h-1zM33 47h3v1h-3zM47 47h1v1h-1zM63 47h1v1h-1zM73 47h1v1h-1zM81 47h2v1h-2zM85 47h1v1h-1zM89 47h1v1h-1zM93 47h1v1h-1zM111 47h3v1h-3zM120 47h1v1h-1zM127 47h1v1h-1zM145 47h2v1h-2zM162 47h2v1h-2zM166 47h3v1h-3zM181 47h2v1h-2zM191 47h2v1h-2zM215 47h1v1h-1zM218 47h1v1h-1zM2 48h1v1h-1zM16 48h1v1h-1zM18 48h2v1h-2zM22 48h1v1h-1zM25 48h1v1h-1zM36 48h2v1h-2zM51 48h1v1h-1zM53 48h1v1h-1zM64 48h1v1h-1zM81 48h2v1h-2zM84 48h2v1h-2zM87 48h1v1h-1zM93 48h1v1h-1zM97 48h1v1h-1zM100 48h1v1h-1zM111 48h3v1h-3zM120 48h1v1h-1zM123 48h1v1h-1zM132 48h1v1h-1zM145 48h1v1h-1zM147 48h2v1h-2zM165 48h3v1h-3zM182 48h1v1h-1zM185 48h1v1h-1zM188 48h2v1h-2zM191 48h2v1h-2zM194 48h1v1h-1zM224 48h1v1h-1zM16 49h1v1h-1zM18 49h1v1h-1zM20 49h1v1h-1zM22 49h1v1h-1zM29 49h1v1h-1zM32 49h1v1h-1zM34 49h1v1h-1zM36 49h1v1h-1zM42 49h1v1h-1zM48 49h1v1h-1zM52 49h2v1h-2zM60 49h1v1h-1zM73 49h1v1h-1zM82 49h1v1h-1zM87 49h1v1h-1zM93 49h1v1h-1zM105 49h1v1h-1zM112 49h1v1h-1zM120 49h1v1h-1zM123 49h1v1h-1zM129 49h4v1h-4zM145 49h2v1h-2zM152 49h1v1h-1zM158 49h2v1h-2zM163 49h4v1h-4zM179 49h1v1h-1zM182 49h2v1h-2zM185 49h1v1h-1zM189 49h1v1h-1zM192 49h1v1h-1zM205 49h1v1h-1zM215 49h1v1h-1z"/>
</g>
<g transform="translate(108.6,9.2) scale(4.33156,20.70)" shape-rendering="crispEdges">
<path fill="#00D0DA" d="M0 0h3v1h-3zM4 0h1v1h-1zM6 0h5v1h-5zM13 0h2v1h-2zM18 0h1v1h-1zM20 0h6v1h-6zM27 0h5v1h-5zM33 0h1v1h-1zM35 0h2v1h-2zM38 0h3v1h-3zM43 0h2v1h-2zM46 0h1v1h-1zM48 0h5v1h-5zM56 0h1v1h-1zM59 0h2v1h-2zM62 0h1v1h-1zM69 0h2v1h-2zM72 0h1v1h-1zM74 0h1v1h-1zM76 0h1v1h-1zM78 0h1v1h-1zM81 0h1v1h-1zM86 0h3v1h-3zM91 0h1v1h-1zM93 0h1v1h-1zM95 0h2v1h-2zM98 0h2v1h-2zM101 0h3v1h-3zM105 0h3v1h-3zM111 0h2v1h-2zM116 0h9v1h-9zM126 0h4v1h-4zM131 0h2v1h-2zM134 0h2v1h-2zM137 0h2v1h-2zM140 0h1v1h-1zM142 0h1v1h-1zM147 0h3v1h-3zM151 0h3v1h-3zM156 0h1v1h-1zM160 0h1v1h-1zM162 0h2v1h-2zM170 0h1v1h-1zM174 0h1v1h-1zM177 0h3v1h-3zM181 0h1v1h-1zM188 0h4v1h-4zM193 0h1v1h-1zM196 0h3v1h-3zM200 0h4v1h-4zM205 0h2v1h-2zM209 0h1v1h-1zM211 0h1v1h-1zM213 0h3v1h-3zM217 0h1v1h-1zM219 0h1v1h-1z"/>
<path fill="#E68AF3" d="M3 0h1v1h-1zM5 0h1v1h-1zM11 0h2v1h-2zM15 0h3v1h-3zM19 0h1v1h-1zM26 0h1v1h-1zM32 0h1v1h-1zM34 0h1v1h-1zM37 0h1v1h-1zM41 0h2v1h-2zM45 0h1v1h-1zM47 0h1v1h-1zM53 0h3v1h-3zM57 0h2v1h-2zM61 0h1v1h-1zM63 0h6v1h-6zM71 0h1v1h-1zM73 0h1v1h-1zM75 0h1v1h-1zM77 0h1v1h-1zM79 0h2v1h-2zM82 0h4v1h-4zM89 0h2v1h-2zM92 0h1v1h-1zM94 0h1v1h-1zM97 0h1v1h-1zM100 0h1v1h-1zM104 0h1v1h-1zM108 0h3v1h-3zM113 0h3v1h-3zM125 0h1v1h-1zM130 0h1v1h-1zM133 0h1v1h-1zM136 0h1v1h-1zM139 0h1v1h-1zM141 0h1v1h-1zM143 0h4v1h-4zM150 0h1v1h-1zM154 0h2v1h-2zM157 0h3v1h-3zM161 0h1v1h-1zM164 0h6v1h-6zM171 0h3v1h-3zM175 0h2v1h-2zM180 0h1v1h-1zM182 0h6v1h-6zM192 0h1v1h-1zM194 0h2v1h-2zM199 0h1v1h-1zM204 0h1v1h-1zM207 0h2v1h-2zM210 0h1v1h-1zM212 0h1v1h-1zM216 0h1v1h-1zM218 0h1v1h-1zM220 0h5v1h-5z"/>
</g>
<g transform="translate(108.6,33.6) scale(4.33156,20.10)" shape-rendering="crispEdges">
<path fill="#EEF7EA" d="M0 0h2v1h-2zM3 0h1v1h-1zM5 0h1v1h-1zM9 0h1v1h-1zM16 0h1v1h-1zM23 0h1v1h-1zM35 0h1v1h-1zM37 0h2v1h-2zM40 0h1v1h-1zM42 0h1v1h-1zM50 0h1v1h-1zM55 0h1v1h-1zM64 0h5v1h-5zM71 0h1v1h-1zM73 0h1v1h-1zM78 0h1v1h-1zM80 0h1v1h-1zM84 0h1v1h-1zM88 0h1v1h-1zM92 0h1v1h-1zM94 0h1v1h-1zM99 0h2v1h-2zM103 0h1v1h-1zM106 0h2v1h-2zM113 0h1v1h-1zM123 0h1v1h-1zM133 0h1v1h-1zM135 0h1v1h-1zM137 0h7v1h-7zM146 0h1v1h-1zM149 0h2v1h-2zM155 0h3v1h-3zM165 0h5v1h-5zM173 0h1v1h-1zM179 0h1v1h-1zM186 0h1v1h-1zM193 0h1v1h-1zM200 0h1v1h-1zM206 0h2v1h-2zM209 0h1v1h-1zM214 0h1v1h-1zM217 0h1v1h-1zM221 0h1v1h-1z"/>
<path fill="#EAF5E4" d="M2 0h1v1h-1zM6 0h1v1h-1zM8 0h1v1h-1zM25 0h1v1h-1zM39 0h1v1h-1zM41 0h1v1h-1zM53 0h1v1h-1zM56 0h1v1h-1zM59 0h1v1h-1zM62 0h1v1h-1zM74 0h1v1h-1zM98 0h1v1h-1zM110 0h1v1h-1zM118 0h1v1h-1zM121 0h2v1h-2zM134 0h1v1h-1zM148 0h1v1h-1zM152 0h1v1h-1zM162 0h1v1h-1zM182 0h1v1h-1zM184 0h1v1h-1zM194 0h2v1h-2zM197 0h1v1h-1zM213 0h1v1h-1zM215 0h1v1h-1zM218 0h1v1h-1z"/>
<path fill="#E2F1DA" d="M4 0h1v1h-1zM15 0h1v1h-1zM19 0h1v1h-1zM28 0h1v1h-1zM30 0h3v1h-3zM43 0h1v1h-1zM45 0h1v1h-1zM48 0h1v1h-1zM70 0h1v1h-1zM72 0h1v1h-1zM75 0h1v1h-1zM81 0h2v1h-2zM89 0h1v1h-1zM91 0h1v1h-1zM96 0h1v1h-1zM101 0h1v1h-1zM109 0h1v1h-1zM115 0h1v1h-1zM120 0h1v1h-1zM144 0h1v1h-1zM147 0h1v1h-1zM151 0h1v1h-1zM189 0h1v1h-1zM192 0h1v1h-1zM205 0h1v1h-1zM211 0h1v1h-1zM219 0h2v1h-2zM222 0h1v1h-1z"/>
<path fill="#B0DBA6" d="M7 0h1v1h-1z"/>
<path fill="#D6EBCD" d="M10 0h2v1h-2zM20 0h1v1h-1zM22 0h1v1h-1zM34 0h1v1h-1zM46 0h2v1h-2zM52 0h1v1h-1zM54 0h1v1h-1zM57 0h1v1h-1zM60 0h2v1h-2zM85 0h2v1h-2zM102 0h1v1h-1zM119 0h1v1h-1zM124 0h4v1h-4zM129 0h1v1h-1zM145 0h1v1h-1zM159 0h1v1h-1zM161 0h1v1h-1zM171 0h1v1h-1zM174 0h1v1h-1zM176 0h1v1h-1zM187 0h1v1h-1zM191 0h1v1h-1zM196 0h1v1h-1zM198 0h1v1h-1zM201 0h1v1h-1zM203 0h2v1h-2zM208 0h1v1h-1zM210 0h1v1h-1zM212 0h1v1h-1zM216 0h1v1h-1z"/>
<path fill="#DCEED3" d="M12 0h2v1h-2zM17 0h2v1h-2zM21 0h1v1h-1zM26 0h2v1h-2zM29 0h1v1h-1zM33 0h1v1h-1zM49 0h1v1h-1zM51 0h1v1h-1zM58 0h1v1h-1zM63 0h1v1h-1zM79 0h1v1h-1zM83 0h1v1h-1zM87 0h1v1h-1zM90 0h1v1h-1zM97 0h1v1h-1zM104 0h2v1h-2zM108 0h1v1h-1zM114 0h1v1h-1zM116 0h2v1h-2zM131 0h2v1h-2zM136 0h1v1h-1zM154 0h1v1h-1zM158 0h1v1h-1zM170 0h1v1h-1zM172 0h1v1h-1zM177 0h2v1h-2zM180 0h2v1h-2zM183 0h1v1h-1zM185 0h1v1h-1zM188 0h1v1h-1zM190 0h1v1h-1zM199 0h1v1h-1z"/>
<path fill="#C4E5BB" d="M14 0h1v1h-1zM93 0h1v1h-1zM130 0h1v1h-1zM160 0h1v1h-1zM163 0h2v1h-2z"/>
<path fill="#A9D89E" d="M24 0h1v1h-1z"/>
<path fill="#BDE2B3" d="M36 0h1v1h-1z"/>
<path fill="#C8E7BF" d="M44 0h1v1h-1z"/>
<path fill="#2A9A4C" d="M69 0h1v1h-1z"/>
<path fill="#9CD391" d="M76 0h2v1h-2z"/>
<path fill="#BADFAF" d="M95 0h1v1h-1z"/>
<path fill="#C2E4B8" d="M111 0h2v1h-2z"/>
<path fill="#79C46F" d="M128 0h1v1h-1z"/>
<path fill="#B7DEAC" d="M153 0h1v1h-1z"/>
<path fill="#BFE2B4" d="M175 0h1v1h-1z"/>
<path fill="#95CE8A" d="M202 0h1v1h-1z"/>
<path fill="#A8D99E" d="M223 0h2v1h-2z"/>
</g>
<g transform="translate(108.6,57.7) scale(4.33156,20.20)" shape-rendering="crispEdges">
<path fill="#F0F8E8" d="M0 0h2v1h-2zM4 0h2v1h-2zM8 0h1v1h-1zM10 0h2v1h-2zM13 0h1v1h-1zM15 0h1v1h-1zM19 0h1v1h-1zM21 0h1v1h-1zM26 0h1v1h-1zM33 0h1v1h-1zM37 0h2v1h-2zM40 0h2v1h-2zM45 0h1v1h-1zM52 0h3v1h-3zM59 0h2v1h-2zM63 0h1v1h-1zM65 0h6v1h-6zM73 0h1v1h-1zM78 0h2v1h-2zM81 0h1v1h-1zM84 0h1v1h-1zM86 0h1v1h-1zM91 0h2v1h-2zM97 0h1v1h-1zM104 0h1v1h-1zM106 0h3v1h-3zM113 0h1v1h-1zM119 0h2v1h-2zM122 0h1v1h-1zM125 0h1v1h-1zM131 0h1v1h-1zM133 0h2v1h-2zM138 0h1v1h-1zM144 0h1v1h-1zM148 0h1v1h-1zM154 0h1v1h-1zM165 0h1v1h-1zM173 0h2v1h-2zM178 0h1v1h-1zM180 0h2v1h-2zM183 0h1v1h-1zM185 0h1v1h-1zM189 0h1v1h-1zM204 0h1v1h-1zM212 0h1v1h-1z"/>
<path fill="#96D3C4" d="M2 0h2v1h-2zM6 0h1v1h-1zM9 0h1v1h-1zM12 0h1v1h-1zM14 0h1v1h-1zM16 0h2v1h-2zM20 0h1v1h-1zM22 0h2v1h-2zM25 0h1v1h-1zM27 0h4v1h-4zM32 0h1v1h-1zM34 0h3v1h-3zM39 0h1v1h-1zM42 0h1v1h-1zM46 0h2v1h-2zM49 0h3v1h-3zM55 0h4v1h-4zM61 0h2v1h-2zM64 0h1v1h-1zM71 0h2v1h-2zM74 0h2v1h-2zM80 0h1v1h-1zM82 0h1v1h-1zM85 0h1v1h-1zM87 0h1v1h-1zM89 0h2v1h-2zM93 0h2v1h-2zM96 0h1v1h-1zM98 0h6v1h-6zM109 0h4v1h-4zM114 0h5v1h-5zM121 0h1v1h-1zM123 0h2v1h-2zM126 0h2v1h-2zM130 0h1v1h-1zM135 0h3v1h-3zM139 0h5v1h-5zM146 0h2v1h-2zM149 0h5v1h-5zM155 0h8v1h-8zM164 0h1v1h-1zM166 0h4v1h-4zM171 0h2v1h-2zM176 0h2v1h-2zM179 0h1v1h-1zM182 0h1v1h-1zM184 0h1v1h-1zM186 0h2v1h-2zM190 0h2v1h-2zM193 0h11v1h-11zM205 0h2v1h-2zM208 0h4v1h-4zM213 0h1v1h-1zM215 0h9v1h-9z"/>
<path fill="#3A8FC4" d="M7 0h1v1h-1zM18 0h1v1h-1zM24 0h1v1h-1zM31 0h1v1h-1zM43 0h2v1h-2zM48 0h1v1h-1zM76 0h2v1h-2zM83 0h1v1h-1zM88 0h1v1h-1zM95 0h1v1h-1zM105 0h1v1h-1zM128 0h2v1h-2zM132 0h1v1h-1zM145 0h1v1h-1zM163 0h1v1h-1zM170 0h1v1h-1zM175 0h1v1h-1zM188 0h1v1h-1zM192 0h1v1h-1zM207 0h1v1h-1zM214 0h1v1h-1zM224 0h1v1h-1z"/>
</g>
<g transform="translate(108.6,80.7) scale(4.33156,20.20)" shape-rendering="crispEdges">
<path fill="#8A4FA8" d="M0 0h4v1h-4zM5 0h6v1h-6zM12 0h1v1h-1zM14 0h1v1h-1zM16 0h1v1h-1zM18 0h1v1h-1zM20 0h5v1h-5zM27 0h1v1h-1zM29 0h1v1h-1zM31 0h1v1h-1zM33 0h4v1h-4zM40 0h2v1h-2zM43 0h17v1h-17zM61 0h6v1h-6zM68 0h3v1h-3zM72 0h2v1h-2zM75 0h2v1h-2zM78 0h7v1h-7zM86 0h2v1h-2zM89 0h7v1h-7zM97 0h23v1h-23zM121 0h24v1h-24zM146 0h2v1h-2zM149 0h5v1h-5zM155 0h19v1h-19zM175 0h5v1h-5zM181 0h3v1h-3zM185 0h16v1h-16zM202 0h7v1h-7zM210 0h11v1h-11zM222 0h3v1h-3z"/>
<path fill="#A4B3DB" d="M4 0h1v1h-1zM13 0h1v1h-1zM15 0h1v1h-1zM17 0h1v1h-1zM19 0h1v1h-1zM25 0h2v1h-2zM28 0h1v1h-1zM30 0h1v1h-1zM32 0h1v1h-1zM37 0h3v1h-3zM60 0h1v1h-1zM71 0h1v1h-1zM77 0h1v1h-1zM85 0h1v1h-1zM88 0h1v1h-1zM96 0h1v1h-1zM120 0h1v1h-1zM145 0h1v1h-1zM148 0h1v1h-1zM154 0h1v1h-1zM174 0h1v1h-1zM180 0h1v1h-1zM184 0h1v1h-1zM201 0h1v1h-1zM209 0h1v1h-1zM221 0h1v1h-1z"/>
</g>
<g transform="translate(108.6,104.8) scale(4.33156,20.50)" shape-rendering="crispEdges">
<path fill="#8FCB00" d="M0 0h1v1h-1zM3 0h2v1h-2zM8 0h1v1h-1zM10 0h2v1h-2zM13 0h5v1h-5zM20 0h2v1h-2zM23 0h5v1h-5zM30 0h2v1h-2zM33 0h1v1h-1zM35 0h2v1h-2zM42 0h1v1h-1zM44 0h1v1h-1zM48 0h1v1h-1zM50 0h1v1h-1zM59 0h2v1h-2zM62 0h1v1h-1zM66 0h3v1h-3zM70 0h1v1h-1zM74 0h5v1h-5zM81 0h1v1h-1zM86 0h1v1h-1zM92 0h1v1h-1zM94 0h2v1h-2zM97 0h3v1h-3zM101 0h3v1h-3zM107 0h2v1h-2zM112 0h1v1h-1zM114 0h5v1h-5zM120 0h2v1h-2zM123 0h2v1h-2zM128 0h1v1h-1zM133 0h1v1h-1zM135 0h1v1h-1zM138 0h1v1h-1zM141 0h1v1h-1zM145 0h1v1h-1zM151 0h4v1h-4zM160 0h1v1h-1zM164 0h2v1h-2zM170 0h1v1h-1zM175 0h1v1h-1zM179 0h1v1h-1zM181 0h1v1h-1zM183 0h1v1h-1zM186 0h1v1h-1zM189 0h1v1h-1zM196 0h1v1h-1zM200 0h2v1h-2zM209 0h1v1h-1zM211 0h2v1h-2zM215 0h2v1h-2zM221 0h4v1h-4z"/>
<path fill="#F98C7F" d="M1 0h2v1h-2zM5 0h3v1h-3zM9 0h1v1h-1zM12 0h1v1h-1zM18 0h2v1h-2zM22 0h1v1h-1zM28 0h2v1h-2zM32 0h1v1h-1zM34 0h1v1h-1zM37 0h5v1h-5zM43 0h1v1h-1zM45 0h3v1h-3zM49 0h1v1h-1zM51 0h8v1h-8zM61 0h1v1h-1zM63 0h3v1h-3zM69 0h1v1h-1zM71 0h3v1h-3zM79 0h2v1h-2zM82 0h4v1h-4zM87 0h5v1h-5zM93 0h1v1h-1zM96 0h1v1h-1zM100 0h1v1h-1zM104 0h3v1h-3zM109 0h3v1h-3zM113 0h1v1h-1zM119 0h1v1h-1zM122 0h1v1h-1zM125 0h3v1h-3zM129 0h4v1h-4zM134 0h1v1h-1zM136 0h2v1h-2zM139 0h2v1h-2zM142 0h3v1h-3zM146 0h5v1h-5zM155 0h5v1h-5zM161 0h3v1h-3zM166 0h4v1h-4zM171 0h4v1h-4zM176 0h3v1h-3zM180 0h1v1h-1zM182 0h1v1h-1zM184 0h2v1h-2zM187 0h2v1h-2zM190 0h6v1h-6zM197 0h3v1h-3zM202 0h7v1h-7zM210 0h1v1h-1zM213 0h2v1h-2zM217 0h4v1h-4z"/>
</g>
<g transform="translate(108.6,128.3) scale(4.33156,21.10)" shape-rendering="crispEdges">
<path fill="#EDF7FA" d="M0 0h1v1h-1z"/>
<path fill="#ECF6F9" d="M1 0h1v1h-1z"/>
<path fill="#EBF6F9" d="M2 0h1v1h-1z"/>
<path fill="#EAF6F8" d="M3 0h1v1h-1z"/>
<path fill="#E9F5F8" d="M4 0h1v1h-1z"/>
<path fill="#E8F5F7" d="M5 0h1v1h-1z"/>
<path fill="#E7F4F7" d="M6 0h1v1h-1z"/>
<path fill="#E5F4F6" d="M7 0h1v1h-1z"/>
<path fill="#E4F3F6" d="M8 0h1v1h-1z"/>
<path fill="#E3F3F5" d="M9 0h1v1h-1z"/>
<path fill="#E2F3F5" d="M10 0h1v1h-1z"/>
<path fill="#E1F2F5" d="M11 0h1v1h-1z"/>
<path fill="#E0F2F4" d="M12 0h1v1h-1z"/>
<path fill="#DFF1F4" d="M13 0h1v1h-1z"/>
<path fill="#DEF1F3" d="M14 0h1v1h-1z"/>
<path fill="#DCF0F3" d="M15 0h1v1h-1z"/>
<path fill="#DBF0F2" d="M16 0h1v1h-1z"/>
<path fill="#DAF0F2" d="M17 0h1v1h-1z"/>
<path fill="#D9EFF1" d="M18 0h1v1h-1z"/>
<path fill="#D8EFF1" d="M19 0h1v1h-1z"/>
<path fill="#D7EEF0" d="M20 0h1v1h-1z"/>
<path fill="#D6EEF0" d="M21 0h1v1h-1z"/>
<path fill="#D5EEF0" d="M22 0h1v1h-1z"/>
<path fill="#D4EDEF" d="M23 0h1v1h-1z"/>
<path fill="#D3EDEF" d="M24 0h1v1h-1z"/>
<path fill="#D3ECEE" d="M25 0h1v1h-1z"/>
<path fill="#D2ECEE" d="M26 0h1v1h-1z"/>
<path fill="#D1ECEE" d="M27 0h1v1h-1z"/>
<path fill="#D0EBED" d="M28 0h1v1h-1z"/>
<path fill="#CFEBED" d="M29 0h2v1h-2z"/>
<path fill="#CEEAEC" d="M31 0h1v1h-1z"/>
<path fill="#CDEAEC" d="M32 0h1v1h-1z"/>
<path fill="#CCEAEC" d="M33 0h1v1h-1z"/>
<path fill="#CCE9EB" d="M34 0h1v1h-1z"/>
<path fill="#CBE9EB" d="M35 0h1v1h-1z"/>
<path fill="#CAE9EB" d="M36 0h1v1h-1z"/>
<path fill="#C9E8EA" d="M37 0h1v1h-1z"/>
<path fill="#C8E8EA" d="M38 0h2v1h-2z"/>
<path fill="#C7E7E9" d="M40 0h1v1h-1z"/>
<path fill="#C6E7E9" d="M41 0h1v1h-1z"/>
<path fill="#C5E7E9" d="M42 0h1v1h-1z"/>
<path fill="#C5E6E8" d="M43 0h1v1h-1z"/>
<path fill="#C4E6E8" d="M44 0h2v1h-2z"/>
<path fill="#C3E6E8" d="M46 0h1v1h-1z"/>
<path fill="#C3E5E7" d="M47 0h1v1h-1z"/>
<path fill="#C2E5E7" d="M48 0h3v1h-3z"/>
<path fill="#C1E5E7" d="M51 0h3v1h-3z"/>
<path fill="#C0E4E6" d="M54 0h2v1h-2z"/>
<path fill="#BFE4E6" d="M56 0h3v1h-3z"/>
<path fill="#BEE4E6" d="M59 0h2v1h-2z"/>
<path fill="#BEE3E5" d="M61 0h1v1h-1z"/>
<path fill="#BDE3E5" d="M62 0h3v1h-3z"/>
<path fill="#BCE3E5" d="M65 0h2v1h-2z"/>
<path fill="#BBE2E4" d="M67 0h3v1h-3z"/>
<path fill="#BAE2E4" d="M70 0h3v1h-3z"/>
<path fill="#B9E2E4" d="M73 0h1v1h-1z"/>
<path fill="#B9E1E3" d="M74 0h1v1h-1z"/>
<path fill="#B8E1E3" d="M75 0h3v1h-3z"/>
<path fill="#B7E1E3" d="M78 0h2v1h-2z"/>
<path fill="#B7E0E2" d="M80 0h1v1h-1z"/>
<path fill="#B6E0E2" d="M81 0h3v1h-3z"/>
<path fill="#B5E0E2" d="M84 0h2v1h-2z"/>
<path fill="#B4E0E2" d="M86 0h1v1h-1z"/>
<path fill="#B4DFE1" d="M87 0h2v1h-2z"/>
<path fill="#B3DFE1" d="M89 0h3v1h-3z"/>
<path fill="#B2DFE1" d="M92 0h1v1h-1z"/>
<path fill="#B2DFE0" d="M93 0h2v1h-2z"/>
<path fill="#B1DEE0" d="M95 0h3v1h-3z"/>
<path fill="#B1DEDF" d="M98 0h1v1h-1z"/>
<path fill="#B0DEDF" d="M99 0h3v1h-3z"/>
<path fill="#AFDEDF" d="M102 0h1v1h-1z"/>
<path fill="#AFDEDE" d="M103 0h1v1h-1z"/>
<path fill="#AFDDDE" d="M104 0h2v1h-2z"/>
<path fill="#AEDDDE" d="M106 0h1v1h-1z"/>
<path fill="#AEDDDD" d="M107 0h2v1h-2z"/>
<path fill="#ADDDDD" d="M109 0h3v1h-3z"/>
<path fill="#ACDCDC" d="M112 0h4v1h-4z"/>
<path fill="#ABDCDC" d="M116 0h1v1h-1z"/>
<path fill="#ABDCDB" d="M117 0h2v1h-2z"/>
<path fill="#AADCDB" d="M119 0h2v1h-2z"/>
<path fill="#AADBDB" d="M121 0h1v1h-1z"/>
<path fill="#A9DBDA" d="M122 0h4v1h-4z"/>
<path fill="#A8DBDA" d="M126 0h1v1h-1z"/>
<path fill="#A8DBD9" d="M127 0h2v1h-2z"/>
<path fill="#A7DBD9" d="M129 0h1v1h-1z"/>
<path fill="#A7DAD9" d="M130 0h2v1h-2z"/>
<path fill="#A7DAD8" d="M132 0h1v1h-1z"/>
<path fill="#A6DAD8" d="M133 0h2v1h-2z"/>
<path fill="#A5DAD8" d="M135 0h1v1h-1z"/>
<path fill="#A5DAD7" d="M136 0h1v1h-1z"/>
<path fill="#A5D9D7" d="M137 0h1v1h-1z"/>
<path fill="#A4D9D6" d="M138 0h2v1h-2z"/>
<path fill="#A3D9D6" d="M140 0h1v1h-1z"/>
<path fill="#A3D9D5" d="M141 0h1v1h-1z"/>
<path fill="#A3D8D5" d="M142 0h1v1h-1z"/>
<path fill="#A2D8D5" d="M143 0h1v1h-1z"/>
<path fill="#A2D8D4" d="M144 0h1v1h-1z"/>
<path fill="#A1D8D4" d="M145 0h2v1h-2z"/>
<path fill="#A1D8D3" d="M147 0h1v1h-1z"/>
<path fill="#A0D7D3" d="M148 0h1v1h-1z"/>
<path fill="#A0D7D2" d="M149 0h1v1h-1z"/>
<path fill="#9FD7D2" d="M150 0h2v1h-2z"/>
<path fill="#9FD7D1" d="M152 0h1v1h-1z"/>
<path fill="#9ED6D1" d="M153 0h2v1h-2z"/>
<path fill="#9DD6D0" d="M155 0h2v1h-2z"/>
<path fill="#9CD6D0" d="M157 0h1v1h-1z"/>
<path fill="#9CD6CF" d="M158 0h1v1h-1z"/>
<path fill="#9CD5CF" d="M159 0h1v1h-1z"/>
<path fill="#9BD5CE" d="M160 0h2v1h-2z"/>
<path fill="#9AD5CE" d="M162 0h1v1h-1z"/>
<path fill="#9AD5CD" d="M163 0h1v1h-1z"/>
<path fill="#9AD4CD" d="M164 0h1v1h-1z"/>
<path fill="#99D4CD" d="M165 0h1v1h-1z"/>
<path fill="#99D4CC" d="M166 0h1v1h-1z"/>
<path fill="#98D4CC" d="M167 0h1v1h-1z"/>
<path fill="#98D4CB" d="M168 0h2v1h-2z"/>
<path fill="#97D3CB" d="M170 0h1v1h-1z"/>
<path fill="#97D3CA" d="M171 0h1v1h-1z"/>
<path fill="#96D3CA" d="M172 0h2v1h-2z"/>
<path fill="#95D3C9" d="M174 0h1v1h-1z"/>
<path fill="#95D2C9" d="M175 0h2v1h-2z"/>
<path fill="#94D2C8" d="M177 0h2v1h-2z"/>
<path fill="#93D2C7" d="M179 0h1v1h-1z"/>
<path fill="#92D1C7" d="M180 0h1v1h-1z"/>
<path fill="#92D1C6" d="M181 0h1v1h-1z"/>
<path fill="#91D1C5" d="M182 0h1v1h-1z"/>
<path fill="#90D1C5" d="M183 0h1v1h-1z"/>
<path fill="#8FD0C4" d="M184 0h2v1h-2z"/>
<path fill="#8ED0C3" d="M186 0h1v1h-1z"/>
<path fill="#8DD0C3" d="M187 0h1v1h-1z"/>
<path fill="#8CCFC2" d="M188 0h1v1h-1z"/>
<path fill="#8CCFC1" d="M189 0h1v1h-1z"/>
<path fill="#8BCFC1" d="M190 0h1v1h-1z"/>
<path fill="#8ACFC0" d="M191 0h1v1h-1z"/>
<path fill="#8ACEC0" d="M192 0h1v1h-1z"/>
<path fill="#89CEBF" d="M193 0h1v1h-1z"/>
<path fill="#88CEBF" d="M194 0h1v1h-1z"/>
<path fill="#87CEBE" d="M195 0h1v1h-1z"/>
<path fill="#87CDBD" d="M196 0h1v1h-1z"/>
<path fill="#86CDBD" d="M197 0h1v1h-1z"/>
<path fill="#85CDBC" d="M198 0h2v1h-2z"/>
<path fill="#84CCBB" d="M200 0h1v1h-1z"/>
<path fill="#83CCBA" d="M201 0h1v1h-1z"/>
<path fill="#82CCBA" d="M202 0h1v1h-1z"/>
<path fill="#82CCB9" d="M203 0h1v1h-1z"/>
<path fill="#81CBB9" d="M204 0h1v1h-1z"/>
<path fill="#80CBB8" d="M205 0h1v1h-1z"/>
<path fill="#7ECAB7" d="M206 0h1v1h-1z"/>
<path fill="#7CCAB5" d="M207 0h1v1h-1z"/>
<path fill="#7AC9B3" d="M208 0h1v1h-1z"/>
<path fill="#78C8B2" d="M209 0h1v1h-1z"/>
<path fill="#75C7B0" d="M210 0h1v1h-1z"/>
<path fill="#73C7AE" d="M211 0h1v1h-1z"/>
<path fill="#71C6AC" d="M212 0h1v1h-1z"/>
<path fill="#6FC5AB" d="M213 0h1v1h-1z"/>
<path fill="#6CC4A9" d="M214 0h1v1h-1z"/>
<path fill="#6AC3A7" d="M215 0h1v1h-1z"/>
<path fill="#68C3A5" d="M216 0h1v1h-1z"/>
<path fill="#65C1A3" d="M217 0h1v1h-1z"/>
<path fill="#60BE9D" d="M218 0h1v1h-1z"/>
<path fill="#5ABB97" d="M219 0h1v1h-1z"/>
<path fill="#54B891" d="M220 0h1v1h-1z"/>
<path fill="#4FB58B" d="M221 0h1v1h-1z"/>
<path fill="#3CAB73" d="M222 0h1v1h-1z"/>
<path fill="#2BA15D" d="M223 0h1v1h-1z"/>
<path fill="#269954" d="M224 0h1v1h-1z"/>
</g>
<g font-size="19.75" fill="#111">
<text x="1089.4" y="172.8">KRAS signaling, down−regulated genes</text>
<text x="1089.4" y="195.1">Estrogen response early</text>
<text x="1089.4" y="217.4">Estrogen response late</text>
<text x="1089.4" y="239.7">Notch signaling</text>
<text x="1089.4" y="262.0">Hedgehog signaling</text>
<text x="1089.4" y="284.3">Wnt beta catenin signaling</text>
<text x="1089.4" y="306.6">Spermatogenesis</text>
<text x="1089.4" y="328.9">Mitotic spindle</text>
<text x="1089.4" y="351.2">MYC targets variant 2</text>
<text x="1089.4" y="373.4">E2F targets</text>
<text x="1089.4" y="395.8">G2M checkpoint</text>
<text x="1089.4" y="418.1">UV response up−regulated genes</text>
<text x="1089.4" y="440.4">Unfolded protein response</text>
<text x="1089.4" y="462.7">Glycolysis</text>
<text x="1089.4" y="485.0">mTORC1 signaling</text>
<text x="1089.4" y="507.3">Oxidative phosphorylation</text>
<text x="1089.4" y="529.5">DNA repair</text>
<text x="1089.4" y="551.8">MYC targets variant 1</text>
<text x="1089.4" y="574.1">Apical surface</text>
<text x="1089.4" y="596.5">PI3K AKT mTOR signaling</text>
<text x="1089.4" y="618.8">Interferon alpha response</text>
<text x="1089.4" y="641.0">Interferon gamma response</text>
<text x="1089.4" y="663.3">IL2 STAT5 signaling</text>
<text x="1089.4" y="685.7">Complement</text>
<text x="1089.4" y="708.0">Inflammatory response</text>
<text x="1089.4" y="730.2">Allograft rejection</text>
<text x="1089.4" y="752.5">IL6 JAK STAT3 signaling</text>
<text x="1089.4" y="774.8">Cholesterol homeostasis</text>
<text x="1089.4" y="797.2">Androgen response</text>
<text x="1089.4" y="819.5">Protein secretion</text>
<text x="1089.4" y="841.8">Xenobiotic metabolism</text>
<text x="1089.4" y="864.0">Adipogenesis</text>
<text x="1089.4" y="886.3">Fatty acid metabolism</text>
<text x="1089.4" y="908.7">Bile acid metabolism</text>
<text x="1089.4" y="931.0">Peroxisome</text>
<text x="1089.4" y="953.2">Heme metabolism</text>
<text x="1089.4" y="975.5">Reactive oxygen species pathway</text>
<text x="1089.4" y="997.8">Hypoxia</text>
<text x="1089.4" y="1020.2">TGF beta signaling</text>
<text x="1089.4" y="1042.5">Apical junction</text>
<text x="1089.4" y="1064.8">Myogenesis</text>
<text x="1089.4" y="1087.0">UV response down−regulated genes</text>
<text x="1089.4" y="1109.3">Coagulation</text>
<text x="1089.4" y="1131.7">Angiogenesis</text>
<text x="1089.4" y="1154.0">Epithelial mesenchymal transition</text>
<text x="1089.4" y="1176.2">Pancreas beta cells</text>
<text x="1089.4" y="1198.5">p53 pathway</text>
<text x="1089.4" y="1220.8">KRAS signaling, up−regulated genes</text>
<text x="1089.4" y="1243.1">Apoptosis</text>
<text x="1089.4" y="1265.5">TNFA signaling via NFkB</text>
</g>
<g font-size="19.7" font-weight="bold" fill="#111">
<text x="1089.2" y="27.2">Status</text>
<text x="1089.2" y="51.4">Tumor size</text>
<text x="1089.2" y="74.5">Tumor stage</text>
<text x="1089.2" y="98.7">Tumor grade</text>
<text x="1089.2" y="121.8">Age</text>
<text x="1089.2" y="145.4">KNSTRN</text>
</g>
<path d="M108.6 187.8H76.9V210.1H108.6M108.6 165.5H44.5V198.9H76.9M108.6 254.7H53.4V277.0H108.6M108.6 232.4H43.2V265.8H53.4M44.5 182.2H27.7V249.1H43.2M108.6 366.1H95.1V388.5H108.6M108.6 343.9H75.7V377.3H95.1M108.6 321.6H66.8V360.6H75.7M108.6 299.2H61.7V341.1H66.8M108.6 455.4H66.8V477.7H108.6M108.6 433.1H61.7V466.5H66.8M108.6 522.2H74.1V544.5H108.6M108.6 500.0H52.1V533.4H74.1M61.7 449.8H48.1V516.7H52.1M108.6 410.8H38.4V483.2H48.1M61.7 320.2H27.1V447.0H38.4M27.7 215.6H19.3V383.6H27.1M108.6 611.5H87.1V633.8H108.6M108.6 678.4H87.1V700.7H108.6M108.6 656.0H81.8V689.5H87.1M108.6 723.0H81.8V745.2H108.6M81.8 672.8H71.5V734.1H81.8M87.1 622.6H58.7V703.4H71.5M108.6 589.2H41.3V663.0H58.7M108.6 566.9H33.7V626.1H41.3M108.6 789.9H64.2V812.2H108.6M108.6 767.5H56.0V801.0H64.2M108.6 856.8H81.4V879.0H108.6M108.6 834.5H75.0V867.9H81.4M108.6 901.4H72.5V923.7H108.6M75.0 851.2H62.3V912.5H72.5M108.6 946.0H58.2V968.2H108.6M62.3 881.8H51.2V957.1H58.2M56.0 784.3H46.0V919.5H51.2M108.6 990.5H61.0V1012.9H108.6M108.6 1035.2H68.7V1057.5H108.6M108.6 1124.4H79.2V1146.7H108.6M108.6 1102.0H72.5V1135.5H79.2M108.6 1079.8H67.8V1118.8H72.5M68.7 1046.3H59.4V1099.3H67.8M61.0 1001.7H53.3V1072.8H59.4M108.6 1235.8H78.7V1258.2H108.6M108.6 1213.5H73.7V1247.0H78.7M108.6 1191.2H52.8V1230.3H73.7M108.6 1169.0H44.7V1210.8H52.8M53.3 1037.2H37.8V1189.9H44.7M46.0 851.9H30.9V1113.5H37.8M33.7 596.5H19.3V982.7H30.9M19.3 299.6H5.1V789.6H19.3" fill="none" stroke="#1a1a1a" stroke-width="1.6"/>
<text transform="scale(0.89,1)" x="18.20" y="49.90" font-size="39.2" fill="#000" text-anchor="start" >A</text>
<text transform="scale(0.9,1)" x="25.11" y="1335.60" font-size="37.4" fill="#000" text-anchor="start" >B</text>
<text transform="scale(0.84,1)" x="989.88" y="1335.60" font-size="37.8" fill="#000" text-anchor="start" >C</text>
<defs><linearGradient id="cb" x1="0" y1="0" x2="0" y2="1"><stop offset="0.00" stop-color="#F37262"/><stop offset="0.05" stop-color="#F78171"/><stop offset="0.10" stop-color="#FA8F80"/><stop offset="0.15" stop-color="#FD9E8F"/><stop offset="0.20" stop-color="#FFAC9E"/><stop offset="0.25" stop-color="#FFBAAE"/><stop offset="0.30" stop-color="#FFC8BD"/><stop offset="0.35" stop-color="#FFD5CE"/><stop offset="0.40" stop-color="#FFE3DE"/><stop offset="0.45" stop-color="#FFF1EE"/><stop offset="0.50" stop-color="#FFFFFF"/><stop offset="0.55" stop-color="#EEF5FC"/><stop offset="0.60" stop-color="#DDEAF8"/><stop offset="0.65" stop-color="#CCE0F5"/><stop offset="0.70" stop-color="#BAD6F1"/><stop offset="0.75" stop-color="#A8CCEE"/><stop offset="0.80" stop-color="#95C2EA"/><stop offset="0.85" stop-color="#81B9E7"/><stop offset="0.90" stop-color="#6BAFE3"/><stop offset="0.95" stop-color="#52A5E0"/><stop offset="1.00" stop-color="#2E9CDC"/></linearGradient></defs>
<rect x="1450.9" y="8.3" width="20.8" height="296.7" fill="url(#cb)"/>
<g font-size="18" fill="#111">
<text x="1481" y="14.9">1</text>
<text x="1481" y="89.1">0.5</text>
<text x="1481" y="163.2">0</text>
<text x="1481" y="237.4">−0.5</text>
<text x="1481" y="311.6">−1</text>
</g>
<text x="1527.7" y="22.8" font-size="19.4" font-weight="bold" fill="#111">Status</text>
<rect x="1527.7" y="29.5" width="28.4" height="28.7" fill="#00CED1"/>
<text x="1562.1" y="50.3" font-size="19" fill="#111">Deceased</text>
<rect x="1527.7" y="57.9" width="28.4" height="28.7" fill="#E48AF2"/>
<text x="1562.1" y="78.7" font-size="19" fill="#111">Living</text>
<text x="1527.7" y="121.8" font-size="19.4" font-weight="bold" fill="#111">Tumor size</text>
<rect x="1527.7" y="129.0" width="28.4" height="28.7" fill="#31A354"/>
<text x="1562.1" y="149.8" font-size="19" fill="#111">150</text>
<rect x="1527.7" y="157.4" width="28.4" height="28.7" fill="#74C476"/>
<rect x="1527.7" y="185.8" width="28.4" height="28.7" fill="#BAE4B3"/>
<rect x="1527.7" y="214.2" width="28.4" height="28.7" fill="#EDF8E9"/>
<text x="1562.1" y="235.0" font-size="19" fill="#111">50</text>
<text x="1527.7" y="279.3" font-size="19.4" font-weight="bold" fill="#111">Tumor stage</text>
<rect x="1527.7" y="284.6" width="28.4" height="28.7" fill="#2B8CBE"/>
<text x="1562.1" y="305.4" font-size="19" fill="#111">3</text>
<rect x="1527.7" y="313.0" width="28.4" height="28.7" fill="#7BCCC4"/>
<rect x="1527.7" y="341.4" width="28.4" height="28.7" fill="#BAE4BC"/>
<rect x="1527.7" y="369.8" width="28.4" height="28.7" fill="#F0F9E8"/>
<text x="1562.1" y="390.6" font-size="19" fill="#111">1</text>
<text x="1527.7" y="435.5" font-size="19.4" font-weight="bold" fill="#111">Tumor grade</text>
<rect x="1527.7" y="440.7" width="28.4" height="28.7" fill="#88419D"/>
<text x="1562.1" y="461.5" font-size="19" fill="#111">3</text>
<rect x="1527.7" y="469.1" width="28.4" height="28.7" fill="#8C96C6"/>
<rect x="1527.7" y="497.5" width="28.4" height="28.7" fill="#B3CDE3"/>
<rect x="1527.7" y="525.9" width="28.4" height="28.7" fill="#EDF8FB"/>
<text x="1562.1" y="546.7" font-size="19" fill="#111">1</text>
<text x="1527.7" y="590.8" font-size="19.4" font-weight="bold" fill="#111">Age</text>
<rect x="1527.7" y="597.6" width="28.4" height="28.7" fill="#94C800"/>
<text x="1562.1" y="618.4" font-size="19" fill="#111">>60</text>
<rect x="1527.7" y="626.0" width="28.4" height="28.7" fill="#FA8072"/>
<text x="1562.1" y="646.8" font-size="19" fill="#111">=60</text>
<text x="1527.7" y="689.4" font-size="19.4" font-weight="bold" fill="#111">KNSTRN</text>
<rect x="1527.7" y="696.7" width="28.4" height="28.7" fill="#2CA25F"/>
<text x="1562.1" y="717.5" font-size="19" fill="#111">8.5</text>
<rect x="1527.7" y="725.1" width="28.4" height="28.7" fill="#66C2A4"/>
<rect x="1527.7" y="753.5" width="28.4" height="28.7" fill="#B2E2E2"/>
<rect x="1527.7" y="781.9" width="28.4" height="28.7" fill="#EDF8FB"/>
<text x="1562.1" y="802.7" font-size="19" fill="#111">5.5</text>
<g>
<rect x="269.0" y="1301.3" width="434.7" height="13.0" fill="#E64B35"/>
<rect x="269.0" y="1316.7" width="407.9" height="13.0" fill="#E64B35"/>
<rect x="269.0" y="1332.1" width="392.0" height="13.0" fill="#E64B35"/>
<rect x="269.0" y="1347.5" width="367.5" height="13.0" fill="#E64B35"/>
<rect x="269.0" y="1362.9" width="361.9" height="13.0" fill="#E64B35"/>
<rect x="269.0" y="1378.3" width="358.4" height="13.0" fill="#E64B35"/>
<rect x="269.0" y="1393.7" width="350.1" height="13.0" fill="#E64B35"/>
<rect x="269.0" y="1409.1" width="315.2" height="13.0" fill="#E64B35"/>
<rect x="269.0" y="1424.5" width="313.6" height="13.0" fill="#E64B35"/>
<rect x="269.0" y="1439.9" width="260.2" height="13.0" fill="#E64B35"/>
<rect x="269.0" y="1455.3" width="181.0" height="13.0" fill="#E64B35"/>
<rect x="269.0" y="1470.7" width="171.1" height="13.0" fill="#E64B35"/>
<rect x="269.0" y="1486.1" width="161.6" height="13.0" fill="#E64B35"/>
<rect x="269.0" y="1501.5" width="161.2" height="13.0" fill="#E64B35"/>
<rect x="269.0" y="1516.9" width="158.0" height="13.0" fill="#E64B35"/>
<rect x="269.0" y="1532.3" width="152.1" height="13.0" fill="#E64B35"/>
<rect x="269.0" y="1547.7" width="109.7" height="13.0" fill="#C9C5C5"/>
<rect x="269.0" y="1563.1" width="96.2" height="13.0" fill="#C9C5C5"/>
<rect x="269.0" y="1578.5" width="72.5" height="13.0" fill="#C9C5C5"/>
<rect x="269.0" y="1593.9" width="64.2" height="13.0" fill="#C9C5C5"/>
<rect x="269.0" y="1609.3" width="46.3" height="13.0" fill="#C9C5C5"/>
<rect x="269.0" y="1624.7" width="32.9" height="13.0" fill="#C9C5C5"/>
<rect x="266.6" y="1640.1" width="2.4" height="13.0" fill="#C9C5C5"/>
<rect x="258.3" y="1655.5" width="10.7" height="13.0" fill="#C9C5C5"/>
<rect x="255.9" y="1670.9" width="13.1" height="13.0" fill="#C9C5C5"/>
<rect x="238.1" y="1686.3" width="30.9" height="13.0" fill="#C9C5C5"/>
<rect x="233.8" y="1701.8" width="35.2" height="13.0" fill="#C9C5C5"/>
<rect x="201.7" y="1717.2" width="67.3" height="13.0" fill="#C9C5C5"/>
<rect x="194.2" y="1732.6" width="74.8" height="13.0" fill="#C9C5C5"/>
<rect x="192.6" y="1748.0" width="76.4" height="13.0" fill="#C9C5C5"/>
<rect x="188.6" y="1763.4" width="80.4" height="13.0" fill="#C9C5C5"/>
<rect x="178.3" y="1778.8" width="90.7" height="13.0" fill="#C9C5C5"/>
<rect x="171.2" y="1794.2" width="97.8" height="13.0" fill="#C9C5C5"/>
<rect x="170.4" y="1809.6" width="98.6" height="13.0" fill="#C9C5C5"/>
<rect x="166.4" y="1825.0" width="102.6" height="13.0" fill="#C9C5C5"/>
<rect x="164.5" y="1840.4" width="104.5" height="13.0" fill="#C9C5C5"/>
<rect x="141.5" y="1855.8" width="127.5" height="13.0" fill="#4DBBD5"/>
<rect x="137.5" y="1871.2" width="131.5" height="13.0" fill="#4DBBD5"/>
<rect x="135.5" y="1886.6" width="133.5" height="13.0" fill="#4DBBD5"/>
<rect x="134.0" y="1902.0" width="135.0" height="13.0" fill="#4DBBD5"/>
<rect x="126.4" y="1917.4" width="142.6" height="13.0" fill="#4DBBD5"/>
<rect x="103.9" y="1932.8" width="165.1" height="13.0" fill="#4DBBD5"/>
<rect x="102.7" y="1948.2" width="166.3" height="13.0" fill="#4DBBD5"/>
<rect x="84.1" y="1963.6" width="184.9" height="13.0" fill="#4DBBD5"/>
<rect x="81.3" y="1979.0" width="187.7" height="13.0" fill="#4DBBD5"/>
<rect x="76.1" y="1994.4" width="192.9" height="13.0" fill="#4DBBD5"/>
<rect x="71.4" y="2009.8" width="197.6" height="13.0" fill="#4DBBD5"/>
<rect x="62.7" y="2025.2" width="206.3" height="13.0" fill="#4DBBD5"/>
<rect x="46.1" y="2040.6" width="222.9" height="13.0" fill="#4DBBD5"/>
<rect x="36.9" y="2056.0" width="232.1" height="13.0" fill="#4DBBD5"/>
</g>
<line x1="387.8" y1="1301" x2="387.8" y2="1546" stroke="#fff" stroke-width="1.3" stroke-dasharray="4 3"/>
<line x1="150.2" y1="1855.8" x2="150.2" y2="2069" stroke="#fff" stroke-width="1.3" stroke-dasharray="4 3"/>
<text transform="scale(1.16,1)" x="228.36" y="1312.45" font-size="13.1" fill="#111" text-anchor="end" >MYC targets variant 1***</text>
<text transform="scale(1.16,1)" x="228.36" y="1327.85" font-size="13.1" fill="#111" text-anchor="end" >E2F targets***</text>
<text transform="scale(1.16,1)" x="228.36" y="1343.25" font-size="13.1" fill="#111" text-anchor="end" >DNA repair***</text>
<text transform="scale(1.16,1)" x="228.36" y="1358.66" font-size="13.1" fill="#111" text-anchor="end" >G2M checkpoint***</text>
<text transform="scale(1.16,1)" x="228.36" y="1374.06" font-size="13.1" fill="#111" text-anchor="end" >mTORC1 signaling***</text>
<text transform="scale(1.16,1)" x="228.36" y="1389.46" font-size="13.1" fill="#111" text-anchor="end" >Oxidative phosphorylation***</text>
<text transform="scale(1.16,1)" x="228.36" y="1404.86" font-size="13.1" fill="#111" text-anchor="end" >Unfolded protein response***</text>
<text transform="scale(1.16,1)" x="228.36" y="1420.26" font-size="13.1" fill="#111" text-anchor="end" >MYC targets variant 2***</text>
<text transform="scale(1.16,1)" x="228.36" y="1435.67" font-size="13.1" fill="#111" text-anchor="end" >Spermatogenesis***</text>
<text transform="scale(1.16,1)" x="228.36" y="1451.07" font-size="13.1" fill="#111" text-anchor="end" >Glycolysis***</text>
<text transform="scale(1.16,1)" x="228.36" y="1466.47" font-size="13.1" fill="#111" text-anchor="end" >Peroxisome***</text>
<text transform="scale(1.16,1)" x="228.36" y="1481.87" font-size="13.1" fill="#111" text-anchor="end" >Fatty acid metabolism***</text>
<text transform="scale(1.16,1)" x="228.36" y="1497.27" font-size="13.1" fill="#111" text-anchor="end" >Reactive oxygen species pathway***</text>
<text transform="scale(1.16,1)" x="228.36" y="1512.68" font-size="13.1" fill="#111" text-anchor="end" >Mitotic spindle***</text>
<text transform="scale(1.16,1)" x="228.36" y="1528.08" font-size="13.1" fill="#111" text-anchor="end" >UV response up-regulated genes***</text>
<text transform="scale(1.16,1)" x="228.36" y="1543.48" font-size="13.1" fill="#111" text-anchor="end" >Protein secretion***</text>
<text transform="scale(1.16,1)" x="228.36" y="1558.88" font-size="13.1" fill="#BFBFBF" text-anchor="end" >Cholesterol homeostasis**</text>
<text transform="scale(1.16,1)" x="228.36" y="1574.28" font-size="13.1" fill="#BFBFBF" text-anchor="end" >Adipogenesis*</text>
<text transform="scale(1.16,1)" x="228.36" y="1589.69" font-size="13.1" fill="#BFBFBF" text-anchor="end" >Estrogen response late</text>
<text transform="scale(1.16,1)" x="228.36" y="1605.09" font-size="13.1" fill="#BFBFBF" text-anchor="end" >Androgen response</text>
<text transform="scale(1.16,1)" x="228.36" y="1620.49" font-size="13.1" fill="#BFBFBF" text-anchor="end" >PI3K AKT mTOR signaling</text>
<text transform="scale(1.16,1)" x="228.36" y="1635.89" font-size="13.1" fill="#BFBFBF" text-anchor="end" >Bile acid metabolism</text>
<text transform="scale(1.16,1)" x="235.00" y="1651.29" font-size="13.1" fill="#BFBFBF" text-anchor="start" >Notch signaling</text>
<text transform="scale(1.16,1)" x="235.00" y="1666.70" font-size="13.1" fill="#BFBFBF" text-anchor="start" >TGF beta signaling</text>
<text transform="scale(1.16,1)" x="235.00" y="1682.10" font-size="13.1" fill="#BFBFBF" text-anchor="start" >Pancreas beta cells</text>
<text transform="scale(1.16,1)" x="235.00" y="1697.50" font-size="13.1" fill="#BFBFBF" text-anchor="start" >Hedgehog signaling</text>
<text transform="scale(1.16,1)" x="235.00" y="1712.90" font-size="13.1" fill="#BFBFBF" text-anchor="start" >Hypoxia</text>
<text transform="scale(1.16,1)" x="235.00" y="1728.30" font-size="13.1" fill="#BFBFBF" text-anchor="start" >Interferon alpha response</text>
<text transform="scale(1.16,1)" x="235.00" y="1743.71" font-size="13.1" fill="#BFBFBF" text-anchor="start" >TNFA signaling via NFkB</text>
<text transform="scale(1.16,1)" x="235.00" y="1759.11" font-size="13.1" fill="#BFBFBF" text-anchor="start" >Xenobiotic metabolism</text>
<text transform="scale(1.16,1)" x="235.00" y="1774.51" font-size="13.1" fill="#BFBFBF" text-anchor="start" >Heme metabolism</text>
<text transform="scale(1.16,1)" x="235.00" y="1789.91" font-size="13.1" fill="#BFBFBF" text-anchor="start" >Interferon gamma response*</text>
<text transform="scale(1.16,1)" x="235.00" y="1805.31" font-size="13.1" fill="#BFBFBF" text-anchor="start" >Estrogen response early*</text>
<text transform="scale(1.16,1)" x="235.00" y="1820.72" font-size="13.1" fill="#BFBFBF" text-anchor="start" >p53 pathway*</text>
<text transform="scale(1.16,1)" x="235.00" y="1836.12" font-size="13.1" fill="#BFBFBF" text-anchor="start" >Apoptosis*</text>
<text transform="scale(1.16,1)" x="235.00" y="1851.52" font-size="13.1" fill="#BFBFBF" text-anchor="start" >KRAS signaling, down-regulated genes*</text>
<text transform="scale(1.16,1)" x="235.00" y="1866.92" font-size="13.1" fill="#111" text-anchor="start" >Allograft rejection**</text>
<text transform="scale(1.16,1)" x="235.00" y="1882.32" font-size="13.1" fill="#111" text-anchor="start" >Wnt beta catenin signaling**</text>
<text transform="scale(1.16,1)" x="235.00" y="1897.73" font-size="13.1" fill="#111" text-anchor="start" >Inflammatory response**</text>
<text transform="scale(1.16,1)" x="235.00" y="1913.13" font-size="13.1" fill="#111" text-anchor="start" >Complement**</text>
<text transform="scale(1.16,1)" x="235.00" y="1928.53" font-size="13.1" fill="#111" text-anchor="start" >IL6 JAK STAT3 signaling***</text>
<text transform="scale(1.16,1)" x="235.00" y="1943.93" font-size="13.1" fill="#111" text-anchor="start" >Angiogenesis***</text>
<text transform="scale(1.16,1)" x="235.00" y="1959.33" font-size="13.1" fill="#111" text-anchor="start" >KRAS signaling, up-regulated genes***</text>
<text transform="scale(1.16,1)" x="235.00" y="1974.74" font-size="13.1" fill="#111" text-anchor="start" >Apical surface***</text>
<text transform="scale(1.16,1)" x="235.00" y="1990.14" font-size="13.1" fill="#111" text-anchor="start" >IL2 STAT5 signaling***</text>
<text transform="scale(1.16,1)" x="235.00" y="2005.54" font-size="13.1" fill="#111" text-anchor="start" >UV response down-regulated genes***</text>
<text transform="scale(1.16,1)" x="235.00" y="2020.94" font-size="13.1" fill="#111" text-anchor="start" >Epithelial mesenchymal transition***</text>
<text transform="scale(1.16,1)" x="235.00" y="2036.34" font-size="13.1" fill="#111" text-anchor="start" >Coagulation***</text>
<text transform="scale(1.16,1)" x="235.00" y="2051.75" font-size="13.1" fill="#111" text-anchor="start" >Apical junction***</text>
<text transform="scale(1.16,1)" x="235.00" y="2067.15" font-size="13.1" fill="#111" text-anchor="start" >Myogenesis***</text>
<path d="M3.5 2071.8V1299H703.7" fill="none" stroke="#A8A8A8" stroke-width="1.5"/>
<line x1="3.5" y1="2071.8" x2="703.7" y2="2071.8" stroke="#8a8a8a" stroke-width="1.5"/>
<text transform="scale(1.16,1)" x="61.21" y="2085.80" font-size="12.5" fill="#4D4D4D" text-anchor="middle" >-5</text>
<line x1="71.0" y1="2072.5" x2="71.0" y2="2074.5" stroke="#999" stroke-width="1"/>
<text transform="scale(1.16,1)" x="231.90" y="2085.80" font-size="12.5" fill="#4D4D4D" text-anchor="middle" >0</text>
<line x1="269.0" y1="2072.5" x2="269.0" y2="2074.5" stroke="#999" stroke-width="1"/>
<text transform="scale(1.16,1)" x="402.59" y="2085.80" font-size="12.5" fill="#4D4D4D" text-anchor="middle" >5</text>
<line x1="467.0" y1="2072.5" x2="467.0" y2="2074.5" stroke="#999" stroke-width="1"/>
<text transform="scale(1.16,1)" x="573.28" y="2085.80" font-size="12.5" fill="#4D4D4D" text-anchor="middle" >10</text>
<line x1="665.0" y1="2072.5" x2="665.0" y2="2074.5" stroke="#999" stroke-width="1"/>
<text transform="scale(1.088,1)" x="344.39" y="2100.80" font-size="13.1" fill="#111" text-anchor="middle" >t value of GSVA score</text>
<text transform="scale(1.088,1)" x="344.76" y="2115.80" font-size="13.1" fill="#111" text-anchor="middle" >KNSTRN high versus KNSTRN low</text>
<rect x="1040.1" y="1331.8" width="243.2" height="27.9" fill="#D9D9D9" stroke="#444" stroke-width="1.2"/>
<text transform="scale(1.095,1)" x="1060.91" y="1351.30" font-size="13.6" fill="#1a1a1a" text-anchor="middle" >activated</text>
<path d="M1040.1 1371.4H1283.3M1040.1 1390.9H1283.3M1040.1 1410.4H1283.3M1040.1 1429.9H1283.3M1040.1 1449.4H1283.3M1040.1 1468.9H1283.3M1040.1 1488.3H1283.3M1040.1 1507.8H1283.3M1040.1 1527.3H1283.3M1040.1 1546.8H1283.3M1040.1 1566.3H1283.3M1040.1 1585.8H1283.3M1040.1 1605.3H1283.3M1040.1 1624.8H1283.3M1040.1 1644.3H1283.3M1040.1 1663.8H1283.3M1040.1 1683.2H1283.3M1040.1 1702.7H1283.3M1040.1 1722.2H1283.3M1040.1 1741.7H1283.3M1040.1 1761.2H1283.3M1040.1 1780.7H1283.3M1040.1 1800.2H1283.3M1040.1 1819.7H1283.3M1040.1 1839.2H1283.3M1040.1 1858.7H1283.3M1040.1 1878.1H1283.3M1040.1 1897.6H1283.3M1040.1 1917.1H1283.3M1040.1 1936.6H1283.3M1040.1 1956.1H1283.3M1040.1 1975.6H1283.3M1040.1 1995.1H1283.3M1040.1 2014.6H1283.3M1040.1 2034.1H1283.3M1040.1 2053.6H1283.3" stroke="#E6E6E6" stroke-width="1.3"/>
<path d="M1075.4 1359.7V2065.6M1118.4 1359.7V2065.6M1161.3 1359.7V2065.6" stroke="#E6E6E6" stroke-width="1.3"/>
<path d="M1053.9 1359.7V2065.6M1096.9 1359.7V2065.6M1139.8 1359.7V2065.6M1182.8 1359.7V2065.6M1268.7 1359.7V2065.6" stroke="#F2F2F2" stroke-width="1"/>
<path d="M1040.1 1359.7V2065.6H1283.3" fill="none" stroke="#BDBDBD" stroke-width="1.2"/>
<path d="M1283.3 1359.7V2065.6" fill="none" stroke="#555" stroke-width="1.5"/>
<line x1="1040.1" y1="1359.7" x2="1283.3" y2="1359.7" stroke="#222" stroke-width="2"/>
<text transform="scale(1.095,1)" x="982.10" y="2088.10" font-size="17.8" fill="#333" text-anchor="middle" >0.3</text>
<text transform="scale(1.095,1)" x="1021.33" y="2088.10" font-size="17.8" fill="#333" text-anchor="middle" >0.4</text>
<text transform="scale(1.095,1)" x="1060.57" y="2088.10" font-size="17.8" fill="#333" text-anchor="middle" >0.5</text>
<text transform="scale(1.095,1)" x="1099.80" y="2088.10" font-size="17.8" fill="#333" text-anchor="middle" >0.6</text>
<text transform="scale(1.095,1)" x="1139.03" y="2088.10" font-size="17.8" fill="#333" text-anchor="middle" >0.7</text>
<path d="M1075.4 2065.6V2070.1M1118.4 2065.6V2070.1M1161.3 2065.6V2070.1M1204.3 2065.6V2070.1M1247.2 2065.6V2070.1" stroke="#333" stroke-width="1.3"/>
<rect x="1293.4" y="1331.8" width="243.4" height="27.9" fill="#D9D9D9" stroke="#444" stroke-width="1.2"/>
<text transform="scale(1.095,1)" x="1292.33" y="1351.30" font-size="13.6" fill="#1a1a1a" text-anchor="middle" >suppressed</text>
<path d="M1293.4 1371.4H1536.8M1293.4 1390.9H1536.8M1293.4 1410.4H1536.8M1293.4 1429.9H1536.8M1293.4 1449.4H1536.8M1293.4 1468.9H1536.8M1293.4 1488.3H1536.8M1293.4 1507.8H1536.8M1293.4 1527.3H1536.8M1293.4 1546.8H1536.8M1293.4 1566.3H1536.8M1293.4 1585.8H1536.8M1293.4 1605.3H1536.8M1293.4 1624.8H1536.8M1293.4 1644.3H1536.8M1293.4 1663.8H1536.8M1293.4 1683.2H1536.8M1293.4 1702.7H1536.8M1293.4 1722.2H1536.8M1293.4 1741.7H1536.8M1293.4 1761.2H1536.8M1293.4 1780.7H1536.8M1293.4 1800.2H1536.8M1293.4 1819.7H1536.8M1293.4 1839.2H1536.8M1293.4 1858.7H1536.8M1293.4 1878.1H1536.8M1293.4 1897.6H1536.8M1293.4 1917.1H1536.8M1293.4 1936.6H1536.8M1293.4 1956.1H1536.8M1293.4 1975.6H1536.8M1293.4 1995.1H1536.8M1293.4 2014.6H1536.8M1293.4 2034.1H1536.8M1293.4 2053.6H1536.8" stroke="#E6E6E6" stroke-width="1.3"/>
<path d="M1328.7 1359.7V2065.6M1371.7 1359.7V2065.6M1414.6 1359.7V2065.6" stroke="#E6E6E6" stroke-width="1.3"/>
<path d="M1307.2 1359.7V2065.6M1350.2 1359.7V2065.6M1393.1 1359.7V2065.6M1436.1 1359.7V2065.6M1522.0 1359.7V2065.6" stroke="#F2F2F2" stroke-width="1"/>
<path d="M1293.4 1359.7V2065.6H1536.8" fill="none" stroke="#BDBDBD" stroke-width="1.2"/>
<path d="M1536.8 1359.7V2065.6" fill="none" stroke="#555" stroke-width="1.5"/>
<line x1="1293.4" y1="1359.7" x2="1536.8" y2="1359.7" stroke="#222" stroke-width="2"/>
<text transform="scale(1.095,1)" x="1213.42" y="2088.10" font-size="17.8" fill="#333" text-anchor="middle" >0.3</text>
<text transform="scale(1.095,1)" x="1252.66" y="2088.10" font-size="17.8" fill="#333" text-anchor="middle" >0.4</text>
<text transform="scale(1.095,1)" x="1291.89" y="2088.10" font-size="17.8" fill="#333" text-anchor="middle" >0.5</text>
<text transform="scale(1.095,1)" x="1331.12" y="2088.10" font-size="17.8" fill="#333" text-anchor="middle" >0.6</text>
<text transform="scale(1.095,1)" x="1370.36" y="2088.10" font-size="17.8" fill="#333" text-anchor="middle" >0.7</text>
<path d="M1328.7 2065.6V2070.1M1371.7 2065.6V2070.1M1414.6 2065.6V2070.1M1457.6 2065.6V2070.1M1500.5 2065.6V2070.1" stroke="#333" stroke-width="1.3"/>
<text transform="scale(1.095,1)" x="941.55" y="1378.50" font-size="18.2" fill="#111" text-anchor="end" >E2F targets</text>
<text transform="scale(1.095,1)" x="941.55" y="1397.99" font-size="18.2" fill="#111" text-anchor="end" >MYC targets variant 1</text>
<text transform="scale(1.095,1)" x="941.55" y="1417.48" font-size="18.2" fill="#111" text-anchor="end" >MYC targets variant 2</text>
<text transform="scale(1.095,1)" x="941.55" y="1436.97" font-size="18.2" fill="#111" text-anchor="end" >G2M checkpoint</text>
<text transform="scale(1.095,1)" x="941.55" y="1456.46" font-size="18.2" fill="#111" text-anchor="end" >Oxidative phosphorylation</text>
<text transform="scale(1.095,1)" x="941.55" y="1475.95" font-size="18.2" fill="#111" text-anchor="end" >Angiogenesis</text>
<text transform="scale(1.095,1)" x="941.55" y="1495.44" font-size="18.2" fill="#111" text-anchor="end" >Unfolded protein response</text>
<text transform="scale(1.095,1)" x="941.55" y="1514.93" font-size="18.2" fill="#111" text-anchor="end" >IL6 JAK STAT3 signaling</text>
<text transform="scale(1.095,1)" x="941.55" y="1534.42" font-size="18.2" fill="#111" text-anchor="end" >Peroxisome</text>
<text transform="scale(1.095,1)" x="941.55" y="1553.91" font-size="18.2" fill="#111" text-anchor="end" >Protein secretion</text>
<text transform="scale(1.095,1)" x="941.55" y="1573.40" font-size="18.2" fill="#111" text-anchor="end" >Epithelial mesenchymal transition</text>
<text transform="scale(1.095,1)" x="941.55" y="1592.89" font-size="18.2" fill="#111" text-anchor="end" >mTORC1 signaling</text>
<text transform="scale(1.095,1)" x="941.55" y="1612.38" font-size="18.2" fill="#111" text-anchor="end" >UV response down−regulated genes</text>
<text transform="scale(1.095,1)" x="941.55" y="1631.87" font-size="18.2" fill="#111" text-anchor="end" >DNA repair</text>
<text transform="scale(1.095,1)" x="941.55" y="1651.36" font-size="18.2" fill="#111" text-anchor="end" >Allograft rejection</text>
<text transform="scale(1.095,1)" x="941.55" y="1670.85" font-size="18.2" fill="#111" text-anchor="end" >Interferon gamma response</text>
<text transform="scale(1.095,1)" x="941.55" y="1690.34" font-size="18.2" fill="#111" text-anchor="end" >IL2 STAT5 signaling</text>
<text transform="scale(1.095,1)" x="941.55" y="1709.83" font-size="18.2" fill="#111" text-anchor="end" >KRAS signaling, up−regulated genes</text>
<text transform="scale(1.095,1)" x="941.55" y="1729.32" font-size="18.2" fill="#111" text-anchor="end" >Apical surface</text>
<text transform="scale(1.095,1)" x="941.55" y="1748.81" font-size="18.2" fill="#111" text-anchor="end" >Cholesterol homeostasis</text>
<text transform="scale(1.095,1)" x="941.55" y="1768.30" font-size="18.2" fill="#111" text-anchor="end" >Apical junction</text>
<text transform="scale(1.095,1)" x="941.55" y="1787.79" font-size="18.2" fill="#111" text-anchor="end" >Fatty acid metabolism</text>
<text transform="scale(1.095,1)" x="941.55" y="1807.28" font-size="18.2" fill="#111" text-anchor="end" >TNFA signaling via NFkB</text>
<text transform="scale(1.095,1)" x="941.55" y="1826.77" font-size="18.2" fill="#111" text-anchor="end" >Interferon alpha response</text>
<text transform="scale(1.095,1)" x="941.55" y="1846.26" font-size="18.2" fill="#111" text-anchor="end" >Myogenesis</text>
<text transform="scale(1.095,1)" x="941.55" y="1865.75" font-size="18.2" fill="#111" text-anchor="end" >Inflammatory response</text>
<text transform="scale(1.095,1)" x="941.55" y="1885.24" font-size="18.2" fill="#111" text-anchor="end" >Glycolysis</text>
<text transform="scale(1.095,1)" x="941.55" y="1904.73" font-size="18.2" fill="#111" text-anchor="end" >Coagulation</text>
<text transform="scale(1.095,1)" x="941.55" y="1924.22" font-size="18.2" fill="#111" text-anchor="end" >Reactive oxygen species pathway</text>
<text transform="scale(1.095,1)" x="941.55" y="1943.71" font-size="18.2" fill="#111" text-anchor="end" >Apoptosis</text>
<text transform="scale(1.095,1)" x="941.55" y="1963.20" font-size="18.2" fill="#111" text-anchor="end" >Complement</text>
<text transform="scale(1.095,1)" x="941.55" y="1982.69" font-size="18.2" fill="#111" text-anchor="end" >Estrogen response early</text>
<text transform="scale(1.095,1)" x="941.55" y="2002.18" font-size="18.2" fill="#111" text-anchor="end" >Mitotic spindle</text>
<text transform="scale(1.095,1)" x="941.55" y="2021.67" font-size="18.2" fill="#111" text-anchor="end" >Estrogen response late</text>
<text transform="scale(1.095,1)" x="941.55" y="2041.16" font-size="18.2" fill="#111" text-anchor="end" >Spermatogenesis</text>
<text transform="scale(1.095,1)" x="941.55" y="2060.65" font-size="18.2" fill="#111" text-anchor="end" >UV response up−regulated genes</text>
<path d="M1034.5 1371.4H1040.1M1034.5 1390.9H1040.1M1034.5 1410.4H1040.1M1034.5 1429.9H1040.1M1034.5 1449.4H1040.1M1034.5 1468.9H1040.1M1034.5 1488.3H1040.1M1034.5 1507.8H1040.1M1034.5 1527.3H1040.1M1034.5 1546.8H1040.1M1034.5 1566.3H1040.1M1034.5 1585.8H1040.1M1034.5 1605.3H1040.1M1034.5 1624.8H1040.1M1034.5 1644.3H1040.1M1034.5 1663.8H1040.1M1034.5 1683.2H1040.1M1034.5 1702.7H1040.1M1034.5 1722.2H1040.1M1034.5 1741.7H1040.1M1034.5 1761.2H1040.1M1034.5 1780.7H1040.1M1034.5 1800.2H1040.1M1034.5 1819.7H1040.1M1034.5 1839.2H1040.1M1034.5 1858.7H1040.1M1034.5 1878.1H1040.1M1034.5 1897.6H1040.1M1034.5 1917.1H1040.1M1034.5 1936.6H1040.1M1034.5 1956.1H1040.1M1034.5 1975.6H1040.1M1034.5 1995.1H1040.1M1034.5 2014.6H1040.1M1034.5 2034.1H1040.1M1034.5 2053.6H1040.1" stroke="#222" stroke-width="1.8"/>
<text transform="scale(1.095,1)" x="1176.53" y="2110.00" font-size="18.3" fill="#1a1a1a" text-anchor="middle" >GeneRatio</text>
<defs><clipPath id="ca"><rect x="1040.1" y="1359.7" width="243.2" height="706"/></clipPath></defs>
<g stroke="#1a1a1a" stroke-width="1.3" clip-path="url(#ca)">
<circle cx="1272.0" cy="1371.4" r="13.5" fill="#E15B5B"/>
<circle cx="1237.3" cy="1390.9" r="13.9" fill="#E15B5B"/>
<circle cx="1235.7" cy="1410.4" r="9.1" fill="#E15B5B"/>
<circle cx="1199.8" cy="1429.9" r="13.7" fill="#E15B5B"/>
<circle cx="1199.8" cy="1449.4" r="13.6" fill="#E15B5B"/>
<circle cx="1165.2" cy="1488.3" r="10.6" fill="#E15B5B"/>
<circle cx="1148.8" cy="1527.3" r="10.1" fill="#C86A7C"/>
<circle cx="1147.9" cy="1546.8" r="10.1" fill="#E15B5B"/>
<circle cx="1141.8" cy="1585.8" r="11.9" fill="#E15B5B"/>
<circle cx="1136.9" cy="1624.8" r="10.9" fill="#E15B5B"/>
<circle cx="1108.8" cy="1741.7" r="8.3" fill="#D8606A"/>
<circle cx="1105.1" cy="1780.7" r="10.6" fill="#E15B5B"/>
<circle cx="1091.2" cy="1878.1" r="11.3" fill="#E15B5B"/>
<circle cx="1089.7" cy="1917.1" r="6.1" fill="#D0656F"/>
<circle cx="1055.3" cy="1995.1" r="10.1" fill="#E15B5B"/>
<circle cx="1053.8" cy="2014.6" r="10.1" fill="#C86A7C"/>
<circle cx="1051.4" cy="2034.1" r="8.8" fill="#E15B5B"/>
<circle cx="1050.6" cy="2053.6" r="9.2" fill="#9379A9"/>
</g><g stroke="#1a1a1a" stroke-width="1.3">
<circle cx="1438.7" cy="1468.9" r="7.5" fill="#C86A7C"/>
<circle cx="1412.2" cy="1507.8" r="9.9" fill="#E15B5B"/>
<circle cx="1399.8" cy="1566.3" r="12.4" fill="#E15B5B"/>
<circle cx="1391.0" cy="1605.3" r="11.1" fill="#E15B5B"/>
<circle cx="1390.2" cy="1644.3" r="11.9" fill="#E15B5B"/>
<circle cx="1384.5" cy="1663.8" r="11.9" fill="#E15B5B"/>
<circle cx="1375.8" cy="1683.2" r="11.6" fill="#E15B5B"/>
<circle cx="1369.1" cy="1702.7" r="11.7" fill="#E15B5B"/>
<circle cx="1365.7" cy="1722.2" r="6.6" fill="#8D7CB2"/>
<circle cx="1360.3" cy="1761.2" r="11.9" fill="#E15B5B"/>
<circle cx="1357.5" cy="1800.2" r="11.5" fill="#E15B5B"/>
<circle cx="1355.1" cy="1819.7" r="9.0" fill="#E15B5B"/>
<circle cx="1353.5" cy="1839.2" r="11.1" fill="#E15B5B"/>
<circle cx="1348.9" cy="1858.7" r="11.0" fill="#E15B5B"/>
<circle cx="1344.2" cy="1897.6" r="9.7" fill="#E15B5B"/>
<circle cx="1331.4" cy="1936.6" r="10.3" fill="#E15B5B"/>
<circle cx="1330.1" cy="1956.1" r="10.7" fill="#E15B5B"/>
<circle cx="1319.2" cy="1975.6" r="10.6" fill="#3B7DC0"/>
</g>
<defs><linearGradient id="pg" x1="0" y1="0" x2="0" y2="1"><stop offset="0" stop-color="#E15B5B"/><stop offset="0.35" stop-color="#C7697A"/><stop offset="0.7" stop-color="#8A78A8"/><stop offset="1" stop-color="#3F86C8"/></linearGradient></defs>
<text transform="scale(1.095,1)" x="1428.31" y="1564.00" font-size="16.7" fill="#1a1a1a" text-anchor="start" >p.adjust</text>
<rect x="1564.5" y="1574.6" width="28.5" height="142.4" fill="url(#pg)"/>
<text transform="scale(1.095,1)" x="1461.92" y="1611.60" font-size="13.2" fill="#1a1a1a" text-anchor="start" >0.01</text>
<text transform="scale(1.095,1)" x="1461.92" y="1642.90" font-size="13.2" fill="#1a1a1a" text-anchor="start" >0.02</text>
<text transform="scale(1.095,1)" x="1461.92" y="1674.30" font-size="13.2" fill="#1a1a1a" text-anchor="start" >0.03</text>
<text transform="scale(1.095,1)" x="1461.92" y="1705.80" font-size="13.2" fill="#1a1a1a" text-anchor="start" >0.04</text>
<path d="M1564.5 1606.9h5.5M1587.5 1606.9h5.5M1564.5 1638.2h5.5M1587.5 1638.2h5.5M1564.5 1669.6h5.5M1587.5 1669.6h5.5M1564.5 1701.1h5.5M1587.5 1701.1h5.5" stroke="#fff" stroke-width="1.2"/>
<text transform="scale(1.095,1)" x="1428.31" y="1767.70" font-size="16.7" fill="#1a1a1a" text-anchor="start" >Count</text>
<circle cx="1582.8" cy="1792.9" r="10.2" fill="none" stroke="#1a1a1a" stroke-width="1.3"/>
<text transform="scale(1.095,1)" x="1470.14" y="1797.80" font-size="13.9" fill="#1a1a1a" text-anchor="start" >50</text>
<circle cx="1582.8" cy="1821.6" r="12.7" fill="none" stroke="#1a1a1a" stroke-width="1.3"/>
<text transform="scale(1.095,1)" x="1470.14" y="1828.20" font-size="13.9" fill="#1a1a1a" text-anchor="start" >100</text>
<circle cx="1582.8" cy="1853.0" r="14.7" fill="none" stroke="#1a1a1a" stroke-width="1.3"/>
<text transform="scale(1.095,1)" x="1470.14" y="1860.20" font-size="13.9" fill="#1a1a1a" text-anchor="start" >150</text>
</svg></body></html>
